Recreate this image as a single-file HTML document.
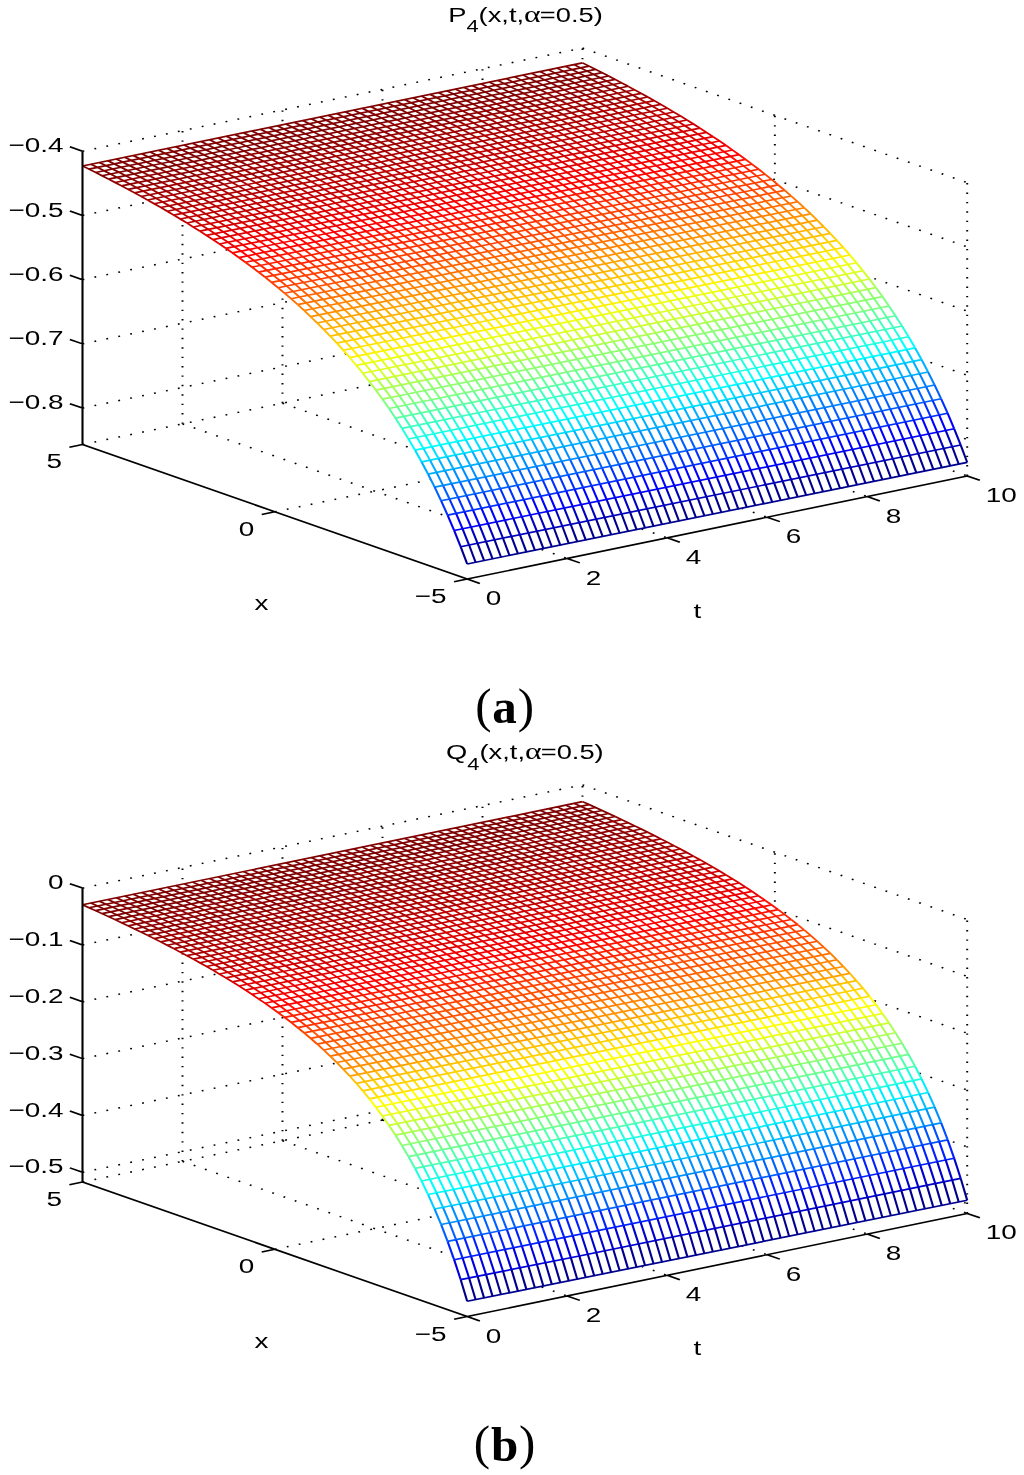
<!DOCTYPE html>
<html><head><meta charset="utf-8"><title>Figure</title>
<style>
html,body{margin:0;padding:0;background:#fff;overflow:hidden}
svg{display:block}
.plot path{fill:none;stroke-width:1.6;stroke-linecap:butt;stroke-linejoin:round}
.plot path.mx{stroke-width:1.67}
.plot path.mt{stroke-width:1.63}
.plot path.ax{stroke:#000;stroke-width:1.6}
.plot path.sf{fill:#fff;stroke:none}
.plot path.dot{stroke:#000;stroke-width:1.5;stroke-dasharray:1.4 8}
.plot text{font-family:"Liberation Sans",sans-serif;font-size:20.7px;fill:#000}
.cap{font-family:"Liberation Serif",serif;font-size:49px;fill:#000;letter-spacing:0.8px}
</style></head><body>
<svg width="1024" height="1475" viewBox="0 0 1024 1475">
<rect width="1024" height="1475" fill="#fff"/>
<g class="plot" transform="scale(1.314,1)">
<path class="dot" d="M138.89,423.86 L138.89,130.61 M214.99,403.22 L214.99,109.97 M291.1,382.58 L291.1,89.33 M367.2,361.94 L367.2,68.69 M443.3,341.3 L443.3,48.05 M62.79,151.25 L443.3,48.05 M443.3,48.05 L736.07,182.65 M62.79,215.46 L443.3,112.26 M443.3,112.26 L736.07,246.86 M62.79,279.67 L443.3,176.47 M443.3,176.47 L736.07,311.07 M62.79,343.88 L443.3,240.68 M443.3,240.68 L736.07,375.28 M62.79,408.09 L443.3,304.89 M443.3,304.89 L736.07,439.49 M589.69,408.6 L589.69,115.35 M736.07,475.9 L736.07,182.65 M138.89,423.86 L431.66,558.46 M214.99,403.22 L507.76,537.82 M291.1,382.58 L583.87,517.18 M367.2,361.94 L659.97,496.54 M443.3,341.3 L736.07,475.9 M62.79,444.5 L443.3,341.3 M209.17,511.8 L589.69,408.6"/>
<path class="sf" d="M62.79,165.94 L67.75,169.17 L72.71,172.44 L77.67,175.74 L82.63,179.08 L87.6,182.47 L92.56,185.89 L97.52,189.36 L102.48,192.88 L107.45,196.45 L112.41,200.06 L117.37,203.73 L122.33,207.46 L127.29,211.24 L132.26,215.09 L137.22,218.99 L142.18,222.97 L147.14,227.01 L152.11,231.13 L157.07,235.32 L162.03,239.59 L166.99,243.95 L171.95,248.4 L176.92,252.93 L181.88,257.57 L186.84,262.3 L191.8,267.15 L196.76,272.1 L201.73,277.18 L206.69,282.38 L211.65,287.71 L216.61,293.19 L221.58,298.81 L226.54,304.58 L231.5,310.53 L236.46,316.64 L241.42,322.94 L246.39,329.44 L251.35,336.15 L256.31,343.07 L261.27,350.23 L266.24,357.65 L271.2,365.33 L276.16,373.3 L281.12,381.57 L286.08,390.17 L291.05,399.12 L296.01,408.44 L300.97,418.18 L305.93,428.35 L310.9,438.98 L315.86,450.13 L320.82,461.83 L325.78,474.13 L330.74,487.08 L335.71,500.74 L340.67,515.18 L345.63,530.46 L350.59,546.69 L355.56,563.94 L355.56,563.94 L362.01,562.4 L368.45,560.74 L374.9,559.06 L381.35,557.37 L387.8,555.67 L394.25,553.97 L400.7,552.26 L407.15,550.55 L413.6,548.84 L420.05,547.12 L426.5,545.41 L432.95,543.69 L439.4,541.97 L445.85,540.25 L452.3,538.53 L458.75,536.81 L465.2,535.08 L471.65,533.36 L478.1,531.64 L484.54,529.91 L490.99,528.19 L497.44,526.46 L503.89,524.73 L510.34,523.01 L516.79,521.28 L523.24,519.55 L529.69,517.82 L536.14,516.09 L542.59,514.36 L549.04,512.63 L555.49,510.9 L561.94,509.17 L568.39,507.44 L574.84,505.71 L581.29,503.98 L587.74,502.25 L594.19,500.52 L600.63,498.79 L607.08,497.06 L613.53,495.32 L619.98,493.59 L626.43,491.86 L632.88,490.13 L639.33,488.39 L645.78,486.66 L652.23,484.93 L658.68,483.19 L665.13,481.46 L671.58,479.73 L678.03,477.99 L684.48,476.26 L690.93,474.52 L697.38,472.79 L703.83,471.06 L710.28,469.32 L716.72,467.59 L723.17,465.85 L729.62,464.12 L736.07,462.38 L736.07,462.38 L731.11,445.01 L726.15,428.69 L721.19,413.31 L716.22,398.78 L711.26,385.04 L706.3,372.02 L701.34,359.66 L696.38,347.9 L691.41,336.69 L686.45,326 L681.49,315.79 L676.53,306.01 L671.56,296.64 L666.6,287.65 L661.64,279.02 L656.68,270.71 L651.72,262.71 L646.75,255 L641.79,247.56 L636.83,240.37 L631.87,233.42 L626.9,226.7 L621.94,220.18 L616.98,213.86 L612.02,207.72 L607.06,201.76 L602.09,195.97 L597.13,190.33 L592.17,184.84 L587.21,179.5 L582.24,174.28 L577.28,169.19 L572.32,164.22 L567.36,159.37 L562.4,154.62 L557.43,149.98 L552.47,145.43 L547.51,140.97 L542.55,136.61 L537.58,132.33 L532.62,128.13 L527.66,124 L522.7,119.95 L517.74,115.97 L512.77,112.05 L507.81,108.2 L502.85,104.41 L497.89,100.68 L492.92,97.01 L487.96,93.38 L483,89.81 L478.04,86.29 L473.08,82.81 L468.11,79.38 L463.15,76 L458.19,72.65 L453.23,69.34 L448.27,66.07 L443.3,62.84 L443.3,62.84 L436.85,64.59 L430.4,66.34 L423.95,68.09 L417.51,69.84 L411.06,71.58 L404.61,73.33 L398.16,75.08 L391.71,76.83 L385.26,78.58 L378.81,80.32 L372.36,82.07 L365.91,83.82 L359.46,85.57 L353.01,87.32 L346.56,89.07 L340.11,90.81 L333.66,92.56 L327.21,94.31 L320.76,96.06 L314.31,97.81 L307.86,99.55 L301.42,101.3 L294.97,103.05 L288.52,104.8 L282.07,106.55 L275.62,108.29 L269.17,110.04 L262.72,111.79 L256.27,113.54 L249.82,115.29 L243.37,117.03 L236.92,118.78 L230.47,120.53 L224.02,122.28 L217.57,124.03 L211.12,125.77 L204.67,127.52 L198.22,129.27 L191.77,131.02 L185.32,132.77 L178.88,134.51 L172.43,136.26 L165.98,138.01 L159.53,139.76 L153.08,141.5 L146.63,143.25 L140.18,145 L133.73,146.75 L127.28,148.49 L120.83,150.24 L114.38,151.99 L107.93,153.73 L101.48,155.48 L95.03,157.23 L88.58,158.97 L82.13,160.72 L75.68,162.46 L69.23,164.21 L62.79,165.94 Z"/>
<path class="mx" stroke="#00008f" d="M355.56,563.94L736.07,462.38"/>
<path class="mx" stroke="#0000bf" d="M350.59,546.69L731.11,445.01"/>
<path class="mx" stroke="#0000ff" d="M345.63,530.46L726.15,428.69"/>
<path class="mx" stroke="#0030ff" d="M340.67,515.18L721.19,413.31"/>
<path class="mx" stroke="#0060ff" d="M335.71,500.74L716.22,398.78"/>
<path class="mx" stroke="#0080ff" d="M524.23,435.44L711.26,385.04"/>
<path class="mx" stroke="#008fff" d="M330.74,487.08L524.23,435.44"/>
<path class="mx" stroke="#00afff" d="M325.78,474.13L706.3,372.02"/>
<path class="mx" stroke="#00cfff" d="M559.45,397.93L701.34,359.66"/>
<path class="mx" stroke="#00dfff" d="M320.82,461.83L559.45,397.93"/>
<path class="mx" stroke="#00ffff" d="M315.86,450.13L696.38,347.9"/>
<path class="mx" stroke="#20ffdf" d="M310.9,438.98L691.41,336.69"/>
<path class="mx" stroke="#40ffbf" d="M305.93,428.35L686.45,326"/>
<path class="mx" stroke="#60ff9f" d="M300.97,418.18L681.49,315.79"/>
<path class="mx" stroke="#80ff80" d="M296.01,408.44L676.53,306.01"/>
<path class="mx" stroke="#8fff70" d="M303.95,395.75L671.56,296.64"/>
<path class="mx" stroke="#9fff60" d="M291.05,399.12L303.95,395.75"/>
<path class="mx" stroke="#afff50" d="M286.08,390.17L666.6,287.65"/>
<path class="mx" stroke="#cfff30" d="M281.12,381.57L661.64,279.02"/>
<path class="mx" stroke="#dfff20" d="M276.16,373.3L656.68,270.71"/>
<path class="mx" stroke="#efff10" d="M271.2,365.33L651.72,262.71"/>
<path class="mx" stroke="#ffef00" d="M266.24,357.65L646.75,255"/>
<path class="mx" stroke="#ffdf00" d="M261.27,350.23L641.79,247.56"/>
<path class="mx" stroke="#ffcf00" d="M256.31,343.07L636.83,240.37"/>
<path class="mx" stroke="#ffbf00" d="M251.35,336.15L631.87,233.42"/>
<path class="mx" stroke="#ffaf00" d="M246.39,329.44L626.9,226.7"/>
<path class="mx" stroke="#ff9f00" d="M241.42,322.94L621.94,220.18"/>
<path class="mx" stroke="#ff8f00" d="M236.46,316.64L616.98,213.86"/>
<path class="mx" stroke="#ff8000" d="M231.5,310.53L612.02,207.72"/>
<path class="mx" stroke="#ff7000" d="M226.54,304.58L607.06,201.76"/>
<path class="mx" stroke="#ff6000" d="M221.58,298.81L602.09,195.97"/>
<path class="mx" stroke="#ff5000" d="M216.61,293.19L597.13,190.33"/>
<path class="mx" stroke="#ff4000" d="M206.69,282.38L587.21,179.5M211.65,287.71L592.17,184.84"/>
<path class="mx" stroke="#ff3000" d="M201.73,277.18L582.24,174.28"/>
<path class="mx" stroke="#ff2000" d="M191.8,267.15L572.32,164.22M196.76,272.1L577.28,169.19"/>
<path class="mx" stroke="#ff1000" d="M186.84,262.3L567.36,159.37"/>
<path class="mx" stroke="#ff0000" d="M176.92,252.93L557.43,149.98M181.88,257.57L562.4,154.62"/>
<path class="mx" stroke="#ef0000" d="M166.99,243.95L547.51,140.97M171.95,248.4L552.47,145.43"/>
<path class="mx" stroke="#df0000" d="M157.07,235.32L537.58,132.33M162.03,239.59L542.55,136.61"/>
<path class="mx" stroke="#cf0000" d="M147.14,227.01L527.66,124M152.11,231.13L532.62,128.13"/>
<path class="mx" stroke="#bf0000" d="M132.26,215.09L512.77,112.05M137.22,218.99L517.74,115.97M142.18,222.97L522.7,119.95"/>
<path class="mx" stroke="#af0000" d="M117.37,203.73L497.89,100.68M122.33,207.46L502.85,104.41M127.29,211.24L507.81,108.2"/>
<path class="mx" stroke="#9f0000" d="M102.48,192.88L483,89.81M107.45,196.45L487.96,93.38M112.41,200.06L492.92,97.01"/>
<path class="mx" stroke="#8f0000" d="M87.6,182.47L468.11,79.38M92.56,185.89L473.08,82.81M97.52,189.36L478.04,86.29"/>
<path class="mx" stroke="#800000" d="M62.79,165.94L443.3,62.84M67.75,169.17L448.27,66.07M72.71,172.44L453.23,69.34M77.67,175.74L458.19,72.65M82.63,179.08L463.15,76"/>
<path class="mt" stroke="#00008f" d="M350.59,546.69L355.56,563.94M357.04,545.14L362.01,562.4M363.49,543.47L368.45,560.74M369.94,541.78L374.9,559.06M376.39,540.09L381.35,557.37M382.84,538.38L387.8,555.67M389.29,536.68L394.25,553.97M395.74,534.97L400.7,552.26M402.19,533.25L407.15,550.55M408.64,531.54L413.6,548.84M415.09,529.82L420.05,547.12M421.54,528.1L426.5,545.41M427.99,526.38L432.95,543.69M434.44,524.66L439.4,541.97M440.89,522.94L445.85,540.25M447.34,521.22L452.3,538.53M453.78,519.49L458.75,536.81M460.23,517.77L465.2,535.08M466.68,516.04L471.65,533.36M473.13,514.32L478.1,531.64M479.58,512.59L484.54,529.91M486.03,510.86L490.99,528.19M492.48,509.14L497.44,526.46M498.93,507.41L503.89,524.73M505.38,505.68L510.34,523.01M511.83,503.95L516.79,521.28M518.28,502.22L523.24,519.55M524.73,500.49L529.69,517.82M531.18,498.76L536.14,516.09M537.63,497.03L542.59,514.36M544.08,495.3L549.04,512.63M550.53,493.57L555.49,510.9M556.98,491.84L561.94,509.17M563.43,490.11L568.39,507.44M569.87,488.37L574.84,505.71M576.32,486.64L581.29,503.98M582.77,484.91L587.74,502.25M589.22,483.18L594.19,500.52M595.67,481.44L600.63,498.79M602.12,479.71L607.08,497.06M608.57,477.98L613.53,495.32M615.02,476.24L619.98,493.59M621.47,474.51L626.43,491.86M627.92,472.78L632.88,490.13M634.37,471.04L639.33,488.39M640.82,469.31L645.78,486.66M647.27,467.57L652.23,484.93M653.72,465.84L658.68,483.19M660.17,464.1L665.13,481.46M666.62,462.37L671.58,479.73M673.07,460.63L678.03,477.99M679.52,458.9L684.48,476.26M685.96,457.16L690.93,474.52M692.41,455.43L697.38,472.79M698.86,453.69L703.83,471.06M705.31,451.96L710.28,469.32M711.76,450.22L716.72,467.59M718.21,448.49L723.17,465.85M724.66,446.75L729.62,464.12M731.11,445.01L736.07,462.38"/>
<path class="mt" stroke="#0000bf" d="M352.08,528.9L357.04,545.14M358.53,527.23L363.49,543.47M364.98,525.54L369.94,541.78M371.43,523.84L376.39,540.09M377.88,522.13L382.84,538.38M384.33,520.42L389.29,536.68M390.78,518.71L395.74,534.97M397.23,516.99L402.19,533.25M403.68,515.28L408.64,531.54M410.13,513.56L415.09,529.82M416.58,511.84L421.54,528.1M423.02,510.12L427.99,526.38M429.47,508.39L434.44,524.66M435.92,506.67L440.89,522.94M442.37,504.94L447.34,521.22M448.82,503.22L453.78,519.49M455.27,501.49L460.23,517.77M461.72,499.76L466.68,516.04M468.17,498.04L473.13,514.32M474.62,496.31L479.58,512.59M481.07,494.58L486.03,510.86M487.52,492.85L492.48,509.14M493.97,491.12L498.93,507.41M500.42,489.39L505.38,505.68M506.87,487.66L511.83,503.95M513.32,485.93L518.28,502.22M519.77,484.2L524.73,500.49M526.22,482.47L531.18,498.76M532.67,480.74L537.63,497.03M539.11,479L544.08,495.3M545.56,477.27L550.53,493.57M552.01,475.54L556.98,491.84M558.46,473.81L563.43,490.11M564.91,472.07L569.87,488.37M571.36,470.34L576.32,486.64M577.81,468.61L582.77,484.91M584.26,466.87L589.22,483.18M590.71,465.14L595.67,481.44M597.16,463.4L602.12,479.71M603.61,461.67L608.57,477.98M610.06,459.93L615.02,476.24M616.51,458.2L621.47,474.51M622.96,456.46L627.92,472.78M629.41,454.73L634.37,471.04M635.86,452.99L640.82,469.31M642.31,451.26L647.27,467.57M648.76,449.52L653.72,465.84M655.2,447.79L660.17,464.1M661.65,446.05L666.62,462.37M668.1,444.32L673.07,460.63M674.55,442.58L679.52,458.9M681,440.84L685.96,457.16M687.45,439.11L692.41,455.43M693.9,437.37L698.86,453.69M700.35,435.63L705.31,451.96M706.8,433.9L711.76,450.22M713.25,432.16L718.21,448.49M719.7,430.42L724.66,446.75M726.15,428.69L731.11,445.01"/>
<path class="mt" stroke="#0000cf" d="M345.63,530.46L350.59,546.69"/>
<path class="mt" stroke="#0000ff" d="M340.67,515.18L345.63,530.46M347.12,513.6L352.08,528.9M353.57,511.92L358.53,527.23M360.02,510.23L364.98,525.54M366.47,508.53L371.43,523.84M372.92,506.82L377.88,522.13M379.37,505.11L384.33,520.42M385.82,503.39L390.78,518.71M392.26,501.67L397.23,516.99M398.71,499.95L403.68,515.28M405.16,498.23L410.13,513.56M411.61,496.51L416.58,511.84M418.06,494.79L423.02,510.12M424.51,493.06L429.47,508.39M430.96,491.33L435.92,506.67M437.41,489.61L442.37,504.94M443.86,487.88L448.82,503.22M450.31,486.15L455.27,501.49M456.76,484.42L461.72,499.76M463.21,482.7L468.17,498.04M469.66,480.97L474.62,496.31M476.11,479.24L481.07,494.58M482.56,477.51L487.52,492.85M489.01,475.77L493.97,491.12M495.46,474.04L500.42,489.39M501.91,472.31L506.87,487.66M508.35,470.58L513.32,485.93M514.8,468.85L519.77,484.2M521.25,467.11L526.22,482.47M527.7,465.38L532.67,480.74M534.15,463.65L539.11,479M540.6,461.92L545.56,477.27M547.05,460.18L552.01,475.54M553.5,458.45L558.46,473.81M559.95,456.71L564.91,472.07M566.4,454.98L571.36,470.34M572.85,453.24L577.81,468.61M579.3,451.51L584.26,466.87M585.75,449.77L590.71,465.14M592.2,448.04L597.16,463.4M598.65,446.3L603.61,461.67M605.1,444.57L610.06,459.93M611.55,442.83L616.51,458.2M618,441.1L622.96,456.46M624.44,439.36L629.41,454.73M630.89,437.62L635.86,452.99M637.34,435.89L642.31,451.26M643.79,434.15L648.76,449.52M650.24,432.42L655.2,447.79M656.69,430.68L661.65,446.05M663.14,428.94L668.1,444.32M669.59,427.2L674.55,442.58M676.04,425.47L681,440.84M682.49,423.73L687.45,439.11M688.94,421.99L693.9,437.37M695.39,420.26L700.35,435.63M701.84,418.52L706.8,433.9M708.29,416.78L713.25,432.16M714.74,415.04L719.7,430.42M721.19,413.31L726.15,428.69"/>
<path class="mt" stroke="#0030ff" d="M335.71,500.74L340.67,515.18M342.16,499.15L347.12,513.6M348.61,497.47L353.57,511.92M355.06,495.77L360.02,510.23M361.5,494.07L366.47,508.53M367.95,492.36L372.92,506.82M374.4,490.64L379.37,505.11M380.85,488.92L385.82,503.39M387.3,487.2L392.26,501.67M393.75,485.48L398.71,499.95M400.2,483.76L405.16,498.23M406.65,482.04L411.61,496.51M413.1,480.31L418.06,494.79M419.55,478.58L424.51,493.06M426,476.86L430.96,491.33M432.45,475.13L437.41,489.61M438.9,473.4L443.86,487.88M445.35,471.67L450.31,486.15M451.8,469.94L456.76,484.42M458.25,468.21L463.21,482.7M464.7,466.48L469.66,480.97M471.15,464.75L476.11,479.24M477.59,463.02L482.56,477.51M484.04,461.28L489.01,475.77M490.49,459.55L495.46,474.04M496.94,457.82L501.91,472.31M503.39,456.09L508.35,470.58M509.84,454.35L514.8,468.85M516.29,452.62L521.25,467.11M522.74,450.89L527.7,465.38M529.19,449.15L534.15,463.65M535.64,447.42L540.6,461.92M542.09,445.68L547.05,460.18M548.54,443.95L553.5,458.45M554.99,442.21L559.95,456.71M561.44,440.48L566.4,454.98M567.89,438.74L572.85,453.24M574.34,437.01L579.3,451.51M580.79,435.27L585.75,449.77M587.24,433.53L592.2,448.04M593.68,431.8L598.65,446.3M600.13,430.06L605.1,444.57M606.58,428.32L611.55,442.83M613.03,426.59L618,441.1M619.48,424.85L624.44,439.36M625.93,423.11L630.89,437.62M632.38,421.38L637.34,435.89M638.83,419.64L643.79,434.15M645.28,417.9L650.24,432.42M651.73,416.16L656.69,430.68M658.18,414.43L663.14,428.94M664.63,412.69L669.59,427.2M671.08,410.95L676.04,425.47M677.53,409.21L682.49,423.73M683.98,407.47L688.94,421.99M690.43,405.74L695.39,420.26M696.88,404L701.84,418.52M703.33,402.26L708.29,416.78M709.77,400.52L714.74,415.04M716.22,398.78L721.19,413.31"/>
<path class="mt" stroke="#0060ff" d="M330.74,487.08L335.71,500.74M337.19,485.48L342.16,499.15M343.64,483.8L348.61,497.47M350.09,482.1L355.06,495.77M356.54,480.39L361.5,494.07M362.99,478.67L367.95,492.36M369.44,476.96L374.4,490.64M375.89,475.24L380.85,488.92M382.34,473.52L387.3,487.2M388.79,471.79L393.75,485.48M395.24,470.07L400.2,483.76M401.69,468.34L406.65,482.04M408.14,466.61L413.1,480.31M414.59,464.89L419.55,478.58M421.04,463.16L426,476.86M427.49,461.43L432.45,475.13M433.94,459.7L438.9,473.4M440.39,457.97L445.35,471.67M446.83,456.24L451.8,469.94M453.28,454.51L458.25,468.21M459.73,452.77L464.7,466.48M466.18,451.04L471.15,464.75M472.63,449.31L477.59,463.02M479.08,447.58L484.04,461.28M485.53,445.84L490.49,459.55M491.98,444.11L496.94,457.82M498.43,442.37L503.39,456.09M504.88,440.64L509.84,454.35M511.33,438.91L516.29,452.62M517.78,437.17L522.74,450.89M524.23,435.44L529.19,449.15M530.68,433.7L535.64,447.42M537.13,431.96L542.09,445.68M543.58,430.23L548.54,443.95M550.03,428.49L554.99,442.21M556.48,426.76L561.44,440.48M562.92,425.02L567.89,438.74M569.37,423.28L574.34,437.01M575.82,421.55L580.79,435.27M582.27,419.81L587.24,433.53M588.72,418.07L593.68,431.8M595.17,416.33L600.13,430.06M601.62,414.6L606.58,428.32M608.07,412.86L613.03,426.59M614.52,411.12L619.48,424.85M620.97,409.38L625.93,423.11M627.42,407.65L632.38,421.38M633.87,405.91L638.83,419.64M640.32,404.17L645.28,417.9M646.77,402.43L651.73,416.16M653.22,400.69L658.18,414.43M659.67,398.96L664.63,412.69M666.12,397.22L671.08,410.95M672.57,395.48L677.53,409.21M679.01,393.74L683.98,407.47M685.46,392L690.43,405.74M691.91,390.26L696.88,404M698.36,388.52L703.33,402.26M704.81,386.78L709.77,400.52M711.26,385.04L716.22,398.78"/>
<path class="mt" stroke="#0080ff" d="M525.72,420.7L530.68,433.7M532.16,418.96L537.13,431.96M538.61,417.22L543.58,430.23M545.06,415.49L550.03,428.49M551.51,413.75L556.48,426.76M557.96,412.01L562.92,425.02M564.41,410.28L569.37,423.28M570.86,408.54L575.82,421.55M577.31,406.8L582.27,419.81M583.76,405.06L588.72,418.07M590.21,403.33L595.17,416.33M596.66,401.59L601.62,414.6M603.11,399.85L608.07,412.86M609.56,398.11L614.52,411.12M616.01,396.37L620.97,409.38M622.46,394.63L627.42,407.65M628.91,392.89L633.87,405.91M635.36,391.16L640.32,404.17M641.81,389.42L646.77,402.43M648.25,387.68L653.22,400.69M654.7,385.94L659.67,398.96M661.15,384.2L666.12,397.22M667.6,382.46L672.57,395.48M674.05,380.72L679.01,393.74M680.5,378.98L685.46,392M686.95,377.24L691.91,390.26M693.4,375.5L698.36,388.52M699.85,373.76L704.81,386.78M706.3,372.02L711.26,385.04"/>
<path class="mt" stroke="#008fff" d="M325.78,474.13L330.74,487.08M332.23,472.52L337.19,485.48M338.68,470.83L343.64,483.8M345.13,469.13L350.09,482.1M351.58,467.42L356.54,480.39M358.03,465.7L362.99,478.67M364.48,463.98L369.44,476.96M370.93,462.26L375.89,475.24M377.38,460.54L382.34,473.52M383.83,458.81L388.79,471.79M390.28,457.09L395.24,470.07M396.73,455.36L401.69,468.34M403.18,453.63L408.14,466.61M409.63,451.9L414.59,464.89M416.07,450.17L421.04,463.16M422.52,448.44L427.49,461.43M428.97,446.71L433.94,459.7M435.42,444.98L440.39,457.97M441.87,443.25L446.83,456.24M448.32,441.52L453.28,454.51M454.77,439.78L459.73,452.77M461.22,438.05L466.18,451.04M467.67,436.32L472.63,449.31M474.12,434.58L479.08,447.58M480.57,432.85L485.53,445.84M487.02,431.11L491.98,444.11M493.47,429.38L498.43,442.37M499.92,427.64L504.88,440.64M506.37,425.91L511.33,438.91M512.82,424.17L517.78,437.17M519.27,422.43L524.23,435.44"/>
<path class="mt" stroke="#00afff" d="M320.82,461.83L325.78,474.13M327.27,460.22L332.23,472.52M333.72,458.52L338.68,470.83M340.17,456.82L345.13,469.13M346.62,455.1L351.58,467.42M353.07,453.38L358.03,465.7M359.52,451.66L364.48,463.98M365.97,449.94L370.93,462.26M372.42,448.22L377.38,460.54M378.87,446.49L383.83,458.81M385.31,444.76L390.28,457.09M391.76,443.03L396.73,455.36M398.21,441.3L403.18,453.63M404.66,439.57L409.63,451.9M411.11,437.84L416.07,450.17M417.56,436.11L422.52,448.44M424.01,434.38L428.97,446.71M430.46,432.65L435.42,444.98M436.91,430.91L441.87,443.25M443.36,429.18L448.32,441.52M449.81,427.45L454.77,439.78M456.26,425.71L461.22,438.05M462.71,423.98L467.67,436.32M469.16,422.24L474.12,434.58M475.61,420.51L480.57,432.85M482.06,418.77L487.02,431.11M488.51,417.03L493.47,429.38M494.96,415.3L499.92,427.64M501.4,413.56L506.37,425.91M507.85,411.83L512.82,424.17M514.3,410.09L519.27,422.43M520.75,408.35L525.72,420.7M527.2,406.61L532.16,418.96M533.65,404.88L538.61,417.22M540.1,403.14L545.06,415.49M546.55,401.4L551.51,413.75M553,399.66L557.96,412.01M559.45,397.93L564.41,410.28M565.9,396.19L570.86,408.54M572.35,394.45L577.31,406.8M578.8,392.71L583.76,405.06M585.25,390.97L590.21,403.33M591.7,389.23L596.66,401.59M598.15,387.49L603.11,399.85M604.6,385.76L609.56,398.11M611.05,384.02L616.01,396.37M617.49,382.28L622.46,394.63M623.94,380.54L628.91,392.89M630.39,378.8L635.36,391.16M636.84,377.06L641.81,389.42M643.29,375.32L648.25,387.68M649.74,373.58L654.7,385.94M656.19,371.84L661.15,384.2M662.64,370.1L667.6,382.46M669.09,368.36L674.05,380.72M675.54,366.62L680.5,378.98M681.99,364.88L686.95,377.24M688.44,363.14L693.4,375.5M694.89,361.4L699.85,373.76M701.34,359.66L706.3,372.02"/>
<path class="mt" stroke="#00cfff" d="M560.94,384.44L565.9,396.19M567.39,382.7L572.35,394.45M573.84,380.96L578.8,392.71M580.29,379.22L585.25,390.97M586.73,377.48L591.7,389.23M593.18,375.74L598.15,387.49M599.63,374L604.6,385.76M606.08,372.26L611.05,384.02M612.53,370.52L617.49,382.28M618.98,368.78L623.94,380.54M625.43,367.04L630.39,378.8M631.88,365.3L636.84,377.06M638.33,363.56L643.29,375.32M644.78,361.82L649.74,373.58M651.23,360.08L656.19,371.84M657.68,358.34L662.64,370.1M664.13,356.6L669.09,368.36M670.58,354.86L675.54,366.62M677.03,353.12L681.99,364.88M683.48,351.38L688.44,363.14M689.93,349.64L694.89,361.4M696.38,347.9L701.34,359.66"/>
<path class="mt" stroke="#00dfff" d="M315.86,450.13L320.82,461.83M322.31,448.51L327.27,460.22M328.76,446.81L333.72,458.52M335.21,445.1L340.17,456.82M341.66,443.39L346.62,455.1M348.11,441.67L353.07,453.38M354.55,439.94L359.52,451.66M361,438.22L365.97,449.94M367.45,436.49L372.42,448.22M373.9,434.77L378.87,446.49M380.35,433.04L385.31,444.76M386.8,431.31L391.76,443.03M393.25,429.58L398.21,441.3M399.7,427.85L404.66,439.57M406.15,426.11L411.11,437.84M412.6,424.38L417.56,436.11M419.05,422.65L424.01,434.38M425.5,420.91L430.46,432.65M431.95,419.18L436.91,430.91M438.4,417.45L443.36,429.18M444.85,415.71L449.81,427.45M451.3,413.98L456.26,425.71M457.75,412.24L462.71,423.98M464.2,410.5L469.16,422.24M470.64,408.77L475.61,420.51M477.09,407.03L482.06,418.77M483.54,405.29L488.51,417.03M489.99,403.56L494.96,415.3M496.44,401.82L501.4,413.56M502.89,400.08L507.85,411.83M509.34,398.35L514.3,410.09M515.79,396.61L520.75,408.35M522.24,394.87L527.2,406.61M528.69,393.13L533.65,404.88M535.14,391.39L540.1,403.14M541.59,389.65L546.55,401.4M548.04,387.92L553,399.66M554.49,386.18L559.45,397.93"/>
<path class="mt" stroke="#00ffff" d="M310.9,438.98L315.86,450.13M317.35,437.35L322.31,448.51M323.79,435.65L328.76,446.81M330.24,433.94L335.21,445.1M336.69,432.22L341.66,443.39M343.14,430.5L348.11,441.67M349.59,428.78L354.55,439.94M356.04,427.05L361,438.22M362.49,425.33L367.45,436.49M368.94,423.6L373.9,434.77M375.39,421.87L380.35,433.04M381.84,420.14L386.8,431.31M388.29,418.4L393.25,429.58M394.74,416.67L399.7,427.85M401.19,414.94L406.15,426.11M407.64,413.2L412.6,424.38M414.09,411.47L419.05,422.65M420.54,409.74L425.5,420.91M426.99,408L431.95,419.18M433.44,406.27L438.4,417.45M439.88,404.53L444.85,415.71M446.33,402.79L451.3,413.98M452.78,401.06L457.75,412.24M459.23,399.32L464.2,410.5M465.68,397.58L470.64,408.77M472.13,395.85L477.09,407.03M478.58,394.11L483.54,405.29M485.03,392.37L489.99,403.56M491.48,390.63L496.44,401.82M497.93,388.9L502.89,400.08M504.38,387.16L509.34,398.35M510.83,385.42L515.79,396.61M517.28,383.68L522.24,394.87M523.73,381.94L528.69,393.13M530.18,380.2L535.14,391.39M536.63,378.46L541.59,389.65M543.08,376.72L548.04,387.92M549.53,374.98L554.49,386.18M555.97,373.25L560.94,384.44M562.42,371.51L567.39,382.7M568.87,369.77L573.84,380.96M575.32,368.03L580.29,379.22M581.77,366.29L586.73,377.48M588.22,364.55L593.18,375.74M594.67,362.81L599.63,374M601.12,361.07L606.08,372.26M607.57,359.33L612.53,370.52M614.02,357.58L618.98,368.78M620.47,355.84L625.43,367.04M626.92,354.1L631.88,365.3M633.37,352.36L638.33,363.56M639.82,350.62L644.78,361.82M646.27,348.88L651.23,360.08M652.72,347.14L657.68,358.34M659.17,345.4L664.13,356.6M665.62,343.66L670.58,354.86M672.06,341.92L677.03,353.12M678.51,340.18L683.48,351.38M684.96,338.43L689.93,349.64M691.41,336.69L696.38,347.9"/>
<path class="mt" stroke="#20ffdf" d="M305.93,428.35L310.9,438.98M312.38,426.71L317.35,437.35M318.83,425L323.79,435.65M325.28,423.29L330.24,433.94M331.73,421.57L336.69,432.22M338.18,419.85L343.14,430.5M344.63,418.12L349.59,428.78M351.08,416.4L356.04,427.05M357.53,414.67L362.49,425.33M363.98,412.94L368.94,423.6M370.43,411.21L375.39,421.87M376.88,409.47L381.84,420.14M383.33,407.74L388.29,418.4M389.78,406.01L394.74,416.67M396.23,404.27L401.19,414.94M402.68,402.54L407.64,413.2M409.12,400.8L414.09,411.47M415.57,399.07L420.54,409.74M422.02,397.33L426.99,408M428.47,395.6L433.44,406.27M434.92,393.86L439.88,404.53M441.37,392.12L446.33,402.79M447.82,390.39L452.78,401.06M454.27,388.65L459.23,399.32M460.72,386.91L465.68,397.58M467.17,385.17L472.13,395.85M473.62,383.44L478.58,394.11M480.07,381.7L485.03,392.37M486.52,379.96L491.48,390.63M492.97,378.22L497.93,388.9M499.42,376.48L504.38,387.16M505.87,374.74L510.83,385.42M512.32,373L517.28,383.68M518.77,371.26L523.73,381.94M525.21,369.52L530.18,380.2M531.66,367.78L536.63,378.46M538.11,366.04L543.08,376.72M544.56,364.3L549.53,374.98M551.01,362.56L555.97,373.25M557.46,360.82L562.42,371.51M563.91,359.08L568.87,369.77M570.36,357.34L575.32,368.03M576.81,355.6L581.77,366.29M583.26,353.86L588.22,364.55M589.71,352.12L594.67,362.81M596.16,350.38L601.12,361.07M602.61,348.64L607.57,359.33M609.06,346.9L614.02,357.58M615.51,345.16L620.47,355.84M621.96,343.42L626.92,354.1M628.41,341.68L633.37,352.36M634.86,339.93L639.82,350.62M641.3,338.19L646.27,348.88M647.75,336.45L652.72,347.14M654.2,334.71L659.17,345.4M660.65,332.97L665.62,343.66M667.1,331.23L672.06,341.92M673.55,329.49L678.51,340.18M680,327.74L684.96,338.43M686.45,326L691.41,336.69"/>
<path class="mt" stroke="#40ffbf" d="M300.97,418.18L305.93,428.35M307.42,416.53L312.38,426.71M313.87,414.83L318.83,425M320.32,413.11L325.28,423.29M326.77,411.39L331.73,421.57M333.22,409.67L338.18,419.85M339.67,407.94L344.63,418.12M346.12,406.21L351.08,416.4M352.57,404.48L357.53,414.67M359.02,402.75L363.98,412.94M365.47,401.02L370.43,411.21M371.92,399.28L376.88,409.47M378.36,397.55L383.33,407.74M384.81,395.82L389.78,406.01M391.26,394.08L396.23,404.27M397.71,392.35L402.68,402.54M404.16,390.61L409.12,400.8M410.61,388.87L415.57,399.07M417.06,387.14L422.02,397.33M423.51,385.4L428.47,395.6M429.96,383.66L434.92,393.86M436.41,381.93L441.37,392.12M442.86,380.19L447.82,390.39M449.31,378.45L454.27,388.65M455.76,376.71L460.72,386.91M462.21,374.97L467.17,385.17M468.66,373.24L473.62,383.44M475.11,371.5L480.07,381.7M481.56,369.76L486.52,379.96M488.01,368.02L492.97,378.22M494.45,366.28L499.42,376.48M500.9,364.54L505.87,374.74M507.35,362.8L512.32,373M513.8,361.06L518.77,371.26M520.25,359.32L525.21,369.52M526.7,357.58L531.66,367.78M533.15,355.84L538.11,366.04M539.6,354.1L544.56,364.3M546.05,352.36L551.01,362.56M552.5,350.62L557.46,360.82M558.95,348.88L563.91,359.08M565.4,347.14L570.36,357.34M571.85,345.39L576.81,355.6M578.3,343.65L583.26,353.86M584.75,341.91L589.71,352.12M591.2,340.17L596.16,350.38M597.65,338.43L602.61,348.64M604.1,336.69L609.06,346.9M610.54,334.95L615.51,345.16M616.99,333.21L621.96,343.42M623.44,331.46L628.41,341.68M629.89,329.72L634.86,339.93M636.34,327.98L641.3,338.19M642.79,326.24L647.75,336.45M649.24,324.5L654.2,334.71M655.69,322.75L660.65,332.97M662.14,321.01L667.1,331.23M668.59,319.27L673.55,329.49M675.04,317.53L680,327.74M681.49,315.79L686.45,326"/>
<path class="mt" stroke="#60ff9f" d="M296.01,408.44L300.97,418.18M302.46,406.79L307.42,416.53M308.91,405.09L313.87,414.83M315.36,403.37L320.32,413.11M321.81,401.65L326.77,411.39M328.26,399.92L333.22,409.67M334.71,398.19L339.67,407.94M341.16,396.46L346.12,406.21M347.6,394.73L352.57,404.48M354.05,393L359.02,402.75M360.5,391.27L365.47,401.02M366.95,389.53L371.92,399.28M373.4,387.8L378.36,397.55M379.85,386.06L384.81,395.82M386.3,384.33L391.26,394.08M392.75,382.59L397.71,392.35M399.2,380.86L404.16,390.61M405.65,379.12L410.61,388.87M412.1,377.38L417.06,387.14M418.55,375.64L423.51,385.4M425,373.91L429.96,383.66M431.45,372.17L436.41,381.93M437.9,370.43L442.86,380.19M444.35,368.69L449.31,378.45M450.8,366.95L455.76,376.71M457.25,365.21L462.21,374.97M463.69,363.47L468.66,373.24M470.14,361.73L475.11,371.5M476.59,359.99L481.56,369.76M483.04,358.26L488.01,368.02M489.49,356.52L494.45,366.28M495.94,354.77L500.9,364.54M502.39,353.03L507.35,362.8M508.84,351.29L513.8,361.06M515.29,349.55L520.25,359.32M521.74,347.81L526.7,357.58M528.19,346.07L533.15,355.84M534.64,344.33L539.6,354.1M541.09,342.59L546.05,352.36M547.54,340.85L552.5,350.62M553.99,339.11L558.95,348.88M560.44,337.37L565.4,347.14M566.89,335.63L571.85,345.39M573.34,333.88L578.3,343.65M579.78,332.14L584.75,341.91M586.23,330.4L591.2,340.17M592.68,328.66L597.65,338.43M599.13,326.92L604.1,336.69M605.58,325.18L610.54,334.95M612.03,323.43L616.99,333.21M618.48,321.69L623.44,331.46M624.93,319.95L629.89,329.72M631.38,318.21L636.34,327.98M637.83,316.46L642.79,326.24M644.28,314.72L649.24,324.5M650.73,312.98L655.69,322.75M657.18,311.24L662.14,321.01M663.63,309.49L668.59,319.27M670.08,307.75L675.04,317.53M676.53,306.01L681.49,315.79"/>
<path class="mt" stroke="#80ff80" d="M291.05,399.12L296.01,408.44M297.5,397.46L302.46,406.79M303.95,395.75L308.91,405.09M310.4,394.03L315.36,403.37M316.84,392.31L321.81,401.65M323.29,390.58L328.26,399.92M329.74,388.85L334.71,398.19M336.19,387.12L341.16,396.46M342.64,385.39L347.6,394.73M349.09,383.66L354.05,393M355.54,381.92L360.5,391.27M361.99,380.19L366.95,389.53M368.44,378.45L373.4,387.8M374.89,376.72L379.85,386.06M381.34,374.98L386.3,384.33M387.79,373.24L392.75,382.59M394.24,371.51L399.2,380.86M400.69,369.77L405.65,379.12M407.14,368.03L412.1,377.38M413.59,366.29L418.55,375.64M420.04,364.56L425,373.91M426.49,362.82L431.45,372.17M432.93,361.08L437.9,370.43M439.38,359.34L444.35,368.69M445.83,357.6L450.8,366.95M452.28,355.86L457.25,365.21M458.73,354.12L463.69,363.47M465.18,352.38L470.14,361.73M471.63,350.64L476.59,359.99M478.08,348.9L483.04,358.26M484.53,347.16L489.49,356.52M490.98,345.42L495.94,354.77M497.43,343.68L502.39,353.03M503.88,341.94L508.84,351.29M510.33,340.2L515.29,349.55M516.78,338.45L521.74,347.81M523.23,336.71L528.19,346.07M529.68,334.97L534.64,344.33M536.13,333.23L541.09,342.59M542.58,331.49L547.54,340.85M549.02,329.75L553.99,339.11M555.47,328.01L560.44,337.37M561.92,326.26L566.89,335.63M568.37,324.52L573.34,333.88M574.82,322.78L579.78,332.14M581.27,321.04L586.23,330.4M587.72,319.3L592.68,328.66M594.17,317.55L599.13,326.92M600.62,315.81L605.58,325.18M607.07,314.07L612.03,323.43M613.52,312.33L618.48,321.69M619.97,310.58L624.93,319.95M626.42,308.84L631.38,318.21M632.87,307.1L637.83,316.46M639.32,305.36L644.28,314.72M645.77,303.61L650.73,312.98M652.22,301.87L657.18,311.24M658.67,300.13L663.63,309.49M665.11,298.38L670.08,307.75M671.56,296.64L676.53,306.01"/>
<path class="mt" stroke="#8fff70" d="M305.43,385.07L310.4,394.03M311.88,383.35L316.84,392.31M318.33,381.62L323.29,390.58M324.78,379.89L329.74,388.85M331.23,378.16L336.19,387.12M337.68,376.43L342.64,385.39M344.13,374.69L349.09,383.66M350.58,372.96L355.54,381.92M357.03,371.22L361.99,380.19M363.48,369.49L368.44,378.45M369.93,367.75L374.89,376.72M376.38,366.01L381.34,374.98M382.83,364.28L387.79,373.24M389.28,362.54L394.24,371.51M395.73,360.8L400.69,369.77M402.17,359.06L407.14,368.03M408.62,357.32L413.59,366.29M415.07,355.58L420.04,364.56M421.52,353.84L426.49,362.82M427.97,352.1L432.93,361.08M434.42,350.36L439.38,359.34M440.87,348.62L445.83,357.6M447.32,346.88L452.28,355.86M453.77,345.14L458.73,354.12M460.22,343.4L465.18,352.38M466.67,341.66L471.63,350.64M473.12,339.92L478.08,348.9M479.57,338.18L484.53,347.16M486.02,336.44L490.98,345.42M492.47,334.7L497.43,343.68M498.92,332.96L503.88,341.94M505.37,331.22L510.33,340.2M511.82,329.47L516.78,338.45M518.26,327.73L523.23,336.71M524.71,325.99L529.68,334.97M531.16,324.25L536.13,333.23M537.61,322.51L542.58,331.49M544.06,320.77L549.02,329.75M550.51,319.02L555.47,328.01M556.96,317.28L561.92,326.26M563.41,315.54L568.37,324.52M569.86,313.8L574.82,322.78M576.31,312.05L581.27,321.04M582.76,310.31L587.72,319.3M589.21,308.57L594.17,317.55M595.66,306.83L600.62,315.81M602.11,305.08L607.07,314.07M608.56,303.34L613.52,312.33M615.01,301.6L619.97,310.58M621.46,299.85L626.42,308.84M627.91,298.11L632.87,307.1M634.35,296.37L639.32,305.36M640.8,294.63L645.77,303.61M647.25,292.88L652.22,301.87M653.7,291.14L658.67,300.13M660.15,289.4L665.11,298.38M666.6,287.65L671.56,296.64"/>
<path class="mt" stroke="#9fff60" d="M286.08,390.17L291.05,399.12M292.53,388.51L297.5,397.46M298.98,386.8L303.95,395.75"/>
<path class="mt" stroke="#afff50" d="M281.12,381.57L286.08,390.17M287.57,379.9L292.53,388.51M294.02,378.19L298.98,386.8M300.47,376.47L305.43,385.07M306.92,374.74L311.88,383.35M313.37,373.01L318.33,381.62M319.82,371.28L324.78,379.89M326.27,369.55L331.23,378.16M332.72,367.81L337.68,376.43M339.17,366.08L344.13,374.69M345.62,364.34L350.58,372.96M352.07,362.61L357.03,371.22M358.52,360.87L363.48,369.49M364.97,359.13L369.93,367.75M371.41,357.4L376.38,366.01M377.86,355.66L382.83,364.28M384.31,353.92L389.28,362.54M390.76,352.18L395.73,360.8M397.21,350.44L402.17,359.06M403.66,348.7L408.62,357.32M410.11,346.96L415.07,355.58M416.56,345.22L421.52,353.84M423.01,343.48L427.97,352.1M429.46,341.74L434.42,350.36M435.91,340L440.87,348.62M442.36,338.26L447.32,346.88M448.81,336.52L453.77,345.14M455.26,334.78L460.22,343.4M461.71,333.04L466.67,341.66M468.16,331.3L473.12,339.92M474.61,329.56L479.57,338.18M481.06,327.81L486.02,336.44M487.5,326.07L492.47,334.7M493.95,324.33L498.92,332.96M500.4,322.59L505.37,331.22M506.85,320.85L511.82,329.47M513.3,319.11L518.26,327.73M519.75,317.36L524.71,325.99M526.2,315.62L531.16,324.25M532.65,313.88L537.61,322.51M539.1,312.14L544.06,320.77M545.55,310.39L550.51,319.02M552,308.65L556.96,317.28M558.45,306.91L563.41,315.54M564.9,305.17L569.86,313.8M571.35,303.42L576.31,312.05M577.8,301.68L582.76,310.31M584.25,299.94L589.21,308.57M590.7,298.19L595.66,306.83M597.15,296.45L602.11,305.08M603.59,294.71L608.56,303.34M610.04,292.96L615.01,301.6M616.49,291.22L621.46,299.85M622.94,289.48L627.91,298.11M629.39,287.73L634.35,296.37M635.84,285.99L640.8,294.63M642.29,284.25L647.25,292.88M648.74,282.5L653.7,291.14M655.19,280.76L660.15,289.4M661.64,279.02L666.6,287.65"/>
<path class="mt" stroke="#cfff30" d="M276.16,373.3L281.12,381.57M282.61,371.63L287.57,379.9M289.06,369.91L294.02,378.19M295.51,368.19L300.47,376.47M301.96,366.46L306.92,374.74M308.41,364.73L313.37,373.01M314.86,363L319.82,371.28M321.31,361.26L326.27,369.55M327.76,359.53L332.72,367.81M334.21,357.79L339.17,366.08M340.65,356.06L345.62,364.34M347.1,354.32L352.07,362.61M353.55,352.58L358.52,360.87M360,350.85L364.97,359.13M366.45,349.11L371.41,357.4M372.9,347.37L377.86,355.66M379.35,345.63L384.31,353.92M385.8,343.89L390.76,352.18M392.25,342.15L397.21,350.44M398.7,340.41L403.66,348.7M405.15,338.67L410.11,346.96M411.6,336.93L416.56,345.22M418.05,335.19L423.01,343.48M424.5,333.45L429.46,341.74M430.95,331.71L435.91,340M437.4,329.97L442.36,338.26M443.85,328.23L448.81,336.52M450.3,326.48L455.26,334.78M456.74,324.74L461.71,333.04M463.19,323L468.16,331.3M469.64,321.26L474.61,329.56M476.09,319.52L481.06,327.81M482.54,317.78L487.5,326.07M488.99,316.03L493.95,324.33M495.44,314.29L500.4,322.59M501.89,312.55L506.85,320.85M508.34,310.81L513.3,319.11M514.79,309.06L519.75,317.36M521.24,307.32L526.2,315.62M527.69,305.58L532.65,313.88M534.14,303.84L539.1,312.14M540.59,302.09L545.55,310.39M547.04,300.35L552,308.65M553.49,298.61L558.45,306.91M559.94,296.86L564.9,305.17M566.39,295.12L571.35,303.42M572.83,293.38L577.8,301.68M579.28,291.64L584.25,299.94M585.73,289.89L590.7,298.19M592.18,288.15L597.15,296.45M598.63,286.4L603.59,294.71M605.08,284.66L610.04,292.96M611.53,282.92L616.49,291.22M617.98,281.17L622.94,289.48M624.43,279.43L629.39,287.73M630.88,277.69L635.84,285.99M637.33,275.94L642.29,284.25M643.78,274.2L648.74,282.5M650.23,272.46L655.19,280.76M656.68,270.71L661.64,279.02"/>
<path class="mt" stroke="#dfff20" d="M271.2,365.33L276.16,373.3M277.65,363.66L282.61,371.63M284.1,361.94L289.06,369.91M290.55,360.21L295.51,368.19M297,358.48L301.96,366.46M303.45,356.75L308.41,364.73M309.89,355.02L314.86,363M316.34,353.29L321.31,361.26M322.79,351.55L327.76,359.53M329.24,349.81L334.21,357.79M335.69,348.08L340.65,356.06M342.14,346.34L347.1,354.32M348.59,344.6L353.55,352.58M355.04,342.86L360,350.85M361.49,341.13L366.45,349.11M367.94,339.39L372.9,347.37M374.39,337.65L379.35,345.63M380.84,335.91L385.8,343.89M387.29,334.17L392.25,342.15M393.74,332.43L398.7,340.41M400.19,330.69L405.15,338.67M406.64,328.95L411.6,336.93M413.09,327.2L418.05,335.19M419.54,325.46L424.5,333.45M425.98,323.72L430.95,331.71M432.43,321.98L437.4,329.97M438.88,320.24L443.85,328.23M445.33,318.5L450.3,326.48M451.78,316.76L456.74,324.74M458.23,315.01L463.19,323M464.68,313.27L469.64,321.26M471.13,311.53L476.09,319.52M477.58,309.79L482.54,317.78M484.03,308.04L488.99,316.03M490.48,306.3L495.44,314.29M496.93,304.56L501.89,312.55M503.38,302.82L508.34,310.81M509.83,301.07L514.79,309.06M516.28,299.33L521.24,307.32M522.73,297.59L527.69,305.58M529.18,295.84L534.14,303.84M535.63,294.1L540.59,302.09M542.07,292.36L547.04,300.35M548.52,290.61L553.49,298.61M554.97,288.87L559.94,296.86M561.42,287.13L566.39,295.12M567.87,285.38L572.83,293.38M574.32,283.64L579.28,291.64M580.77,281.9L585.73,289.89M587.22,280.15L592.18,288.15M593.67,278.41L598.63,286.4M600.12,276.67L605.08,284.66M606.57,274.92L611.53,282.92M613.02,273.18L617.98,281.17M619.47,271.43L624.43,279.43M625.92,269.69L630.88,277.69M632.37,267.95L637.33,275.94M638.82,266.2L643.78,274.2M645.27,264.46L650.23,272.46M651.72,262.71L656.68,270.71"/>
<path class="mt" stroke="#efff10" d="M266.24,357.65L271.2,365.33M272.69,355.97L277.65,363.66M279.13,354.25L284.1,361.94M285.58,352.53L290.55,360.21M292.03,350.8L297,358.48M298.48,349.06L303.45,356.75M304.93,347.33L309.89,355.02M311.38,345.59L316.34,353.29M317.83,343.86L322.79,351.55M324.28,342.12L329.24,349.81M330.73,340.38L335.69,348.08M337.18,338.65L342.14,346.34M343.63,336.91L348.59,344.6M350.08,335.17L355.04,342.86M356.53,333.43L361.49,341.13M362.98,331.69L367.94,339.39M369.43,329.95L374.39,337.65M375.88,328.21L380.84,335.91M382.33,326.47L387.29,334.17M388.78,324.73L393.74,332.43M395.22,322.99L400.19,330.69M401.67,321.25L406.64,328.95M408.12,319.51L413.09,327.2M414.57,317.76L419.54,325.46M421.02,316.02L425.98,323.72M427.47,314.28L432.43,321.98M433.92,312.54L438.88,320.24M440.37,310.8L445.33,318.5M446.82,309.05L451.78,316.76M453.27,307.31L458.23,315.01M459.72,305.57L464.68,313.27M466.17,303.83L471.13,311.53M472.62,302.08L477.58,309.79M479.07,300.34L484.03,308.04M485.52,298.6L490.48,306.3M491.97,296.86L496.93,304.56M498.42,295.11L503.38,302.82M504.87,293.37L509.83,301.07M511.31,291.63L516.28,299.33M517.76,289.88L522.73,297.59M524.21,288.14L529.18,295.84M530.66,286.4L535.63,294.1M537.11,284.65L542.07,292.36M543.56,282.91L548.52,290.61M550.01,281.16L554.97,288.87M556.46,279.42L561.42,287.13M562.91,277.68L567.87,285.38M569.36,275.93L574.32,283.64M575.81,274.19L580.77,281.9M582.26,272.45L587.22,280.15M588.71,270.7L593.67,278.41M595.16,268.96L600.12,276.67M601.61,267.21L606.57,274.92M608.06,265.47L613.02,273.18M614.51,263.72L619.47,271.43M620.96,261.98L625.92,269.69M627.4,260.24L632.37,267.95M633.85,258.49L638.82,266.2M640.3,256.75L645.27,264.46M646.75,255L651.72,262.71"/>
<path class="mt" stroke="#ffef00" d="M261.27,350.23L266.24,357.65M267.72,348.55L272.69,355.97M274.17,346.83L279.13,354.25M280.62,345.11L285.58,352.53M287.07,343.38L292.03,350.8M293.52,341.64L298.48,349.06M299.97,339.91L304.93,347.33M306.42,338.17L311.38,345.59M312.87,336.44L317.83,343.86M319.32,334.7L324.28,342.12M325.77,332.96L330.73,340.38M332.22,331.22L337.18,338.65M338.67,329.48L343.63,336.91M345.12,327.74L350.08,335.17M351.57,326L356.53,333.43M358.02,324.26L362.98,331.69M364.46,322.52L369.43,329.95M370.91,320.78L375.88,328.21M377.36,319.04L382.33,326.47M383.81,317.3L388.78,324.73M390.26,315.56L395.22,322.99M396.71,313.82L401.67,321.25M403.16,312.08L408.12,319.51M409.61,310.33L414.57,317.76M416.06,308.59L421.02,316.02M422.51,306.85L427.47,314.28M428.96,305.11L433.92,312.54M435.41,303.36L440.37,310.8M441.86,301.62L446.82,309.05M448.31,299.88L453.27,307.31M454.76,298.14L459.72,305.57M461.21,296.39L466.17,303.83M467.66,294.65L472.62,302.08M474.11,292.91L479.07,300.34M480.55,291.16L485.52,298.6M487,289.42L491.97,296.86M493.45,287.68L498.42,295.11M499.9,285.93L504.87,293.37M506.35,284.19L511.31,291.63M512.8,282.45L517.76,289.88M519.25,280.7L524.21,288.14M525.7,278.96L530.66,286.4M532.15,277.22L537.11,284.65M538.6,275.47L543.56,282.91M545.05,273.73L550.01,281.16M551.5,271.98L556.46,279.42M557.95,270.24L562.91,277.68M564.4,268.5L569.36,275.93M570.85,266.75L575.81,274.19M577.3,265.01L582.26,272.45M583.75,263.26L588.71,270.7M590.2,261.52L595.16,268.96M596.64,259.77L601.61,267.21M603.09,258.03L608.06,265.47M609.54,256.29L614.51,263.72M615.99,254.54L620.96,261.98M622.44,252.8L627.4,260.24M628.89,251.05L633.85,258.49M635.34,249.31L640.3,256.75M641.79,247.56L646.75,255"/>
<path class="mt" stroke="#ffdf00" d="M256.31,343.07L261.27,350.23M262.76,341.39L267.72,348.55M269.21,339.67L274.17,346.83M275.66,337.94L280.62,345.11M282.11,336.21L287.07,343.38M288.56,334.47L293.52,341.64M295.01,332.74L299.97,339.91M301.46,331L306.42,338.17M307.91,329.26L312.87,336.44M314.36,327.53L319.32,334.7M320.81,325.79L325.77,332.96M327.26,324.05L332.22,331.22M333.7,322.31L338.67,329.48M340.15,320.57L345.12,327.74M346.6,318.83L351.57,326M353.05,317.09L358.02,324.26M359.5,315.35L364.46,322.52M365.95,313.61L370.91,320.78M372.4,311.86L377.36,319.04M378.85,310.12L383.81,317.3M385.3,308.38L390.26,315.56M391.75,306.64L396.71,313.82M398.2,304.9L403.16,312.08M404.65,303.15L409.61,310.33M411.1,301.41L416.06,308.59M417.55,299.67L422.51,306.85M424,297.93L428.96,305.11M430.45,296.18L435.41,303.36M436.9,294.44L441.86,301.62M443.35,292.7L448.31,299.88M449.79,290.96L454.76,298.14M456.24,289.21L461.21,296.39M462.69,287.47L467.66,294.65M469.14,285.73L474.11,292.91M475.59,283.98L480.55,291.16M482.04,282.24L487,289.42M488.49,280.49L493.45,287.68M494.94,278.75L499.9,285.93M501.39,277.01L506.35,284.19M507.84,275.26L512.8,282.45M514.29,273.52L519.25,280.7M520.74,271.78L525.7,278.96M527.19,270.03L532.15,277.22M533.64,268.29L538.6,275.47M540.09,266.54L545.05,273.73M546.54,264.8L551.5,271.98M552.99,263.05L557.95,270.24M559.44,261.31L564.4,268.5M565.88,259.57L570.85,266.75M572.33,257.82L577.3,265.01M578.78,256.08L583.75,263.26M585.23,254.33L590.2,261.52M591.68,252.59L596.64,259.77M598.13,250.84L603.09,258.03M604.58,249.1L609.54,256.29M611.03,247.35L615.99,254.54M617.48,245.61L622.44,252.8M623.93,243.86L628.89,251.05M630.38,242.12L635.34,249.31M636.83,240.37L641.79,247.56"/>
<path class="mt" stroke="#ffcf00" d="M251.35,336.15L256.31,343.07M257.8,334.46L262.76,341.39M264.25,332.73L269.21,339.67M270.7,331.01L275.66,337.94M277.15,329.27L282.11,336.21M283.6,327.54L288.56,334.47M290.05,325.8L295.01,332.74M296.5,324.07L301.46,331M302.94,322.33L307.91,329.26M309.39,320.59L314.36,327.53M315.84,318.85L320.81,325.79M322.29,317.11L327.26,324.05M328.74,315.37L333.7,322.31M335.19,313.63L340.15,320.57M341.64,311.89L346.6,318.83M348.09,310.15L353.05,317.09M354.54,308.41L359.5,315.35M360.99,306.67L365.95,313.61M367.44,304.92L372.4,311.86M373.89,303.18L378.85,310.12M380.34,301.44L385.3,308.38M386.79,299.7L391.75,306.64M393.24,297.96L398.2,304.9M399.69,296.21L404.65,303.15M406.14,294.47L411.1,301.41M412.59,292.73L417.55,299.67M419.03,290.98L424,297.93M425.48,289.24L430.45,296.18M431.93,287.5L436.9,294.44M438.38,285.75L443.35,292.7M444.83,284.01L449.79,290.96M451.28,282.27L456.24,289.21M457.73,280.52L462.69,287.47M464.18,278.78L469.14,285.73M470.63,277.04L475.59,283.98M477.08,275.29L482.04,282.24M483.53,273.55L488.49,280.49M489.98,271.81L494.94,278.75M496.43,270.06L501.39,277.01M502.88,268.32L507.84,275.26M509.33,266.57L514.29,273.52M515.78,264.83L520.74,271.78M522.23,263.08L527.19,270.03M528.68,261.34L533.64,268.29M535.12,259.6L540.09,266.54M541.57,257.85L546.54,264.8M548.02,256.11L552.99,263.05M554.47,254.36L559.44,261.31M560.92,252.62L565.88,259.57M567.37,250.87L572.33,257.82M573.82,249.13L578.78,256.08M580.27,247.38L585.23,254.33M586.72,245.64L591.68,252.59M593.17,243.89L598.13,250.84M599.62,242.15L604.58,249.1M606.07,240.4L611.03,247.35M612.52,238.66L617.48,245.61M618.97,236.91L623.93,243.86M625.42,235.17L630.38,242.12M631.87,233.42L636.83,240.37"/>
<path class="mt" stroke="#ffbf00" d="M246.39,329.44L251.35,336.15M252.84,327.75L257.8,334.46M259.29,326.03L264.25,332.73M265.74,324.29L270.7,331.01M272.18,322.56L277.15,329.27M278.63,320.83L283.6,327.54M285.08,319.09L290.05,325.8M291.53,317.35L296.5,324.07M297.98,315.61L302.94,322.33M304.43,313.88L309.39,320.59M310.88,312.14L315.84,318.85M317.33,310.4L322.29,317.11M323.78,308.66L328.74,315.37M330.23,306.91L335.19,313.63M336.68,305.17L341.64,311.89M343.13,303.43L348.09,310.15M349.58,301.69L354.54,308.41M356.03,299.95L360.99,306.67M362.48,298.21L367.44,304.92M368.93,296.46L373.89,303.18M375.38,294.72L380.34,301.44M381.83,292.98L386.79,299.7M388.27,291.24L393.24,297.96M394.72,289.49L399.69,296.21M401.17,287.75L406.14,294.47M407.62,286.01L412.59,292.73M414.07,284.26L419.03,290.98M420.52,282.52L425.48,289.24M426.97,280.78L431.93,287.5M433.42,279.03L438.38,285.75M439.87,277.29L444.83,284.01M446.32,275.55L451.28,282.27M452.77,273.8L457.73,280.52M459.22,272.06L464.18,278.78M465.67,270.31L470.63,277.04M472.12,268.57L477.08,275.29M478.57,266.83L483.53,273.55M485.02,265.08L489.98,271.81M491.47,263.34L496.43,270.06M497.92,261.59L502.88,268.32M504.36,259.85L509.33,266.57M510.81,258.1L515.78,264.83M517.26,256.36L522.23,263.08M523.71,254.62L528.68,261.34M530.16,252.87L535.12,259.6M536.61,251.13L541.57,257.85M543.06,249.38L548.02,256.11M549.51,247.64L554.47,254.36M555.96,245.89L560.92,252.62M562.41,244.15L567.37,250.87M568.86,242.4L573.82,249.13M575.31,240.66L580.27,247.38M581.76,238.91L586.72,245.64M588.21,237.17L593.17,243.89M594.66,235.42L599.62,242.15M601.11,233.68L606.07,240.4M607.56,231.93L612.52,238.66M614.01,230.19L618.97,236.91M620.46,228.44L625.42,235.17M626.9,226.7L631.87,233.42"/>
<path class="mt" stroke="#ffaf00" d="M241.42,322.94L246.39,329.44M247.87,321.25L252.84,327.75M254.32,319.52L259.29,326.03M260.77,317.79L265.74,324.29M267.22,316.06L272.18,322.56M273.67,314.32L278.63,320.83M280.12,312.59L285.08,319.09M286.57,310.85L291.53,317.35M293.02,309.11L297.98,315.61M299.47,307.37L304.43,313.88M305.92,305.63L310.88,312.14M312.37,303.89L317.33,310.4M318.82,302.15L323.78,308.66M325.27,300.41L330.23,306.91M331.72,298.67L336.68,305.17M338.17,296.92L343.13,303.43M344.62,295.18L349.58,301.69M351.07,293.44L356.03,299.95M357.51,291.7L362.48,298.21M363.96,289.96L368.93,296.46M370.41,288.21L375.38,294.72M376.86,286.47L381.83,292.98M383.31,284.73L388.27,291.24M389.76,282.98L394.72,289.49M396.21,281.24L401.17,287.75M402.66,279.5L407.62,286.01M409.11,277.75L414.07,284.26M415.56,276.01L420.52,282.52M422.01,274.27L426.97,280.78M428.46,272.52L433.42,279.03M434.91,270.78L439.87,277.29M441.36,269.03L446.32,275.55M447.81,267.29L452.77,273.8M454.26,265.55L459.22,272.06M460.71,263.8L465.67,270.31M467.16,262.06L472.12,268.57M473.6,260.31L478.57,266.83M480.05,258.57L485.02,265.08M486.5,256.82L491.47,263.34M492.95,255.08L497.92,261.59M499.4,253.33L504.36,259.85M505.85,251.59L510.81,258.1M512.3,249.84L517.26,256.36M518.75,248.1L523.71,254.62M525.2,246.35L530.16,252.87M531.65,244.61L536.61,251.13M538.1,242.87L543.06,249.38M544.55,241.12L549.51,247.64M551,239.38L555.96,245.89M557.45,237.63L562.41,244.15M563.9,235.88L568.86,242.4M570.35,234.14L575.31,240.66M576.8,232.39L581.76,238.91M583.25,230.65L588.21,237.17M589.7,228.9L594.66,235.42M596.14,227.16L601.11,233.68M602.59,225.41L607.56,231.93M609.04,223.67L614.01,230.19M615.49,221.92L620.46,228.44M621.94,220.18L626.9,226.7"/>
<path class="mt" stroke="#ff9f00" d="M236.46,316.64L241.42,322.94M242.91,314.95L247.87,321.25M249.36,313.22L254.32,319.52M255.81,311.49L260.77,317.79M262.26,309.75L267.22,316.06M268.71,308.02L273.67,314.32M275.16,306.28L280.12,312.59M281.61,304.54L286.57,310.85M288.06,302.8L293.02,309.11M294.51,301.06L299.47,307.37M300.96,299.32L305.92,305.63M307.41,297.58L312.37,303.89M313.86,295.84L318.82,302.15M320.31,294.1L325.27,300.41M326.75,292.36L331.72,298.67M333.2,290.61L338.17,296.92M339.65,288.87L344.62,295.18M346.1,287.13L351.07,293.44M352.55,285.39L357.51,291.7M359,283.64L363.96,289.96M365.45,281.9L370.41,288.21M371.9,280.16L376.86,286.47M378.35,278.41L383.31,284.73M384.8,276.67L389.76,282.98M391.25,274.93L396.21,281.24M397.7,273.18L402.66,279.5M404.15,271.44L409.11,277.75M410.6,269.69L415.56,276.01M417.05,267.95L422.01,274.27M423.5,266.21L428.46,272.52M429.95,264.46L434.91,270.78M436.4,262.72L441.36,269.03M442.84,260.97L447.81,267.29M449.29,259.23L454.26,265.55M455.74,257.48L460.71,263.8M462.19,255.74L467.16,262.06M468.64,254L473.6,260.31M475.09,252.25L480.05,258.57M481.54,250.51L486.5,256.82M487.99,248.76L492.95,255.08M494.44,247.02L499.4,253.33M500.89,245.27L505.85,251.59M507.34,243.53L512.3,249.84M513.79,241.78L518.75,248.1M520.24,240.04L525.2,246.35M526.69,238.29L531.65,244.61M533.14,236.55L538.1,242.87M539.59,234.8L544.55,241.12M546.04,233.06L551,239.38M552.49,231.31L557.45,237.63M558.94,229.57L563.9,235.88M565.38,227.82L570.35,234.14M571.83,226.07L576.8,232.39M578.28,224.33L583.25,230.65M584.73,222.58L589.7,228.9M591.18,220.84L596.14,227.16M597.63,219.09L602.59,225.41M604.08,217.35L609.04,223.67M610.53,215.6L615.49,221.92M616.98,213.86L621.94,220.18"/>
<path class="mt" stroke="#ff8f00" d="M231.5,310.53L236.46,316.64M237.95,308.83L242.91,314.95M244.4,307.1L249.36,313.22M250.85,305.37L255.81,311.49M257.3,303.63L262.26,309.75M263.75,301.9L268.71,308.02M270.2,300.16L275.16,306.28M276.65,298.42L281.61,304.54M283.1,296.68L288.06,302.8M289.55,294.94L294.51,301.06M295.99,293.2L300.96,299.32M302.44,291.46L307.41,297.58M308.89,289.71L313.86,295.84M315.34,287.97L320.31,294.1M321.79,286.23L326.75,292.36M328.24,284.49L333.2,290.61M334.69,282.75L339.65,288.87M341.14,281L346.1,287.13M347.59,279.26L352.55,285.39M354.04,277.52L359,283.64M360.49,275.77L365.45,281.9M366.94,274.03L371.9,280.16M373.39,272.29L378.35,278.41M379.84,270.54L384.8,276.67M386.29,268.8L391.25,274.93M392.74,267.05L397.7,273.18M399.19,265.31L404.15,271.44M405.64,263.57L410.6,269.69M412.08,261.82L417.05,267.95M418.53,260.08L423.5,266.21M424.98,258.33L429.95,264.46M431.43,256.59L436.4,262.72M437.88,254.84L442.84,260.97M444.33,253.1L449.29,259.23M450.78,251.35L455.74,257.48M457.23,249.61L462.19,255.74M463.68,247.87L468.64,254M470.13,246.12L475.09,252.25M476.58,244.38L481.54,250.51M483.03,242.63L487.99,248.76M489.48,240.89L494.44,247.02M495.93,239.14L500.89,245.27M502.38,237.39L507.34,243.53M508.83,235.65L513.79,241.78M515.28,233.9L520.24,240.04M521.73,232.16L526.69,238.29M528.18,230.41L533.14,236.55M534.62,228.67L539.59,234.8M541.07,226.92L546.04,233.06M547.52,225.18L552.49,231.31M553.97,223.43L558.94,229.57M560.42,221.69L565.38,227.82M566.87,219.94L571.83,226.07M573.32,218.2L578.28,224.33M579.77,216.45L584.73,222.58M586.22,214.7L591.18,220.84M592.67,212.96L597.63,219.09M599.12,211.21L604.08,217.35M605.57,209.47L610.53,215.6M612.02,207.72L616.98,213.86"/>
<path class="mt" stroke="#ff8000" d="M226.54,304.58L231.5,310.53M232.99,302.88L237.95,308.83M239.44,301.16L244.4,307.1M245.89,299.42L250.85,305.37M252.34,297.69L257.3,303.63M258.79,295.95L263.75,301.9M265.23,294.21L270.2,300.16M271.68,292.47L276.65,298.42M278.13,290.73L283.1,296.68M284.58,288.99L289.55,294.94M291.03,287.25L295.99,293.2M297.48,285.51L302.44,291.46M303.93,283.76L308.89,289.71M310.38,282.02L315.34,287.97M316.83,280.28L321.79,286.23M323.28,278.54L328.24,284.49M329.73,276.79L334.69,282.75M336.18,275.05L341.14,281M342.63,273.31L347.59,279.26M349.08,271.56L354.04,277.52M355.53,269.82L360.49,275.77M361.98,268.08L366.94,274.03M368.43,266.33L373.39,272.29M374.88,264.59L379.84,270.54M381.32,262.85L386.29,268.8M387.77,261.1L392.74,267.05M394.22,259.36L399.19,265.31M400.67,257.61L405.64,263.57M407.12,255.87L412.08,261.82M413.57,254.12L418.53,260.08M420.02,252.38L424.98,258.33M426.47,250.63L431.43,256.59M432.92,248.89L437.88,254.84M439.37,247.14L444.33,253.1M445.82,245.4L450.78,251.35M452.27,243.65L457.23,249.61M458.72,241.91L463.68,247.87M465.17,240.16L470.13,246.12M471.62,238.42L476.58,244.38M478.07,236.67L483.03,242.63M484.52,234.93L489.48,240.89M490.97,233.18L495.93,239.14M497.42,231.44L502.38,237.39M503.86,229.69L508.83,235.65M510.31,227.95L515.28,233.9M516.76,226.2L521.73,232.16M523.21,224.46L528.18,230.41M529.66,222.71L534.62,228.67M536.11,220.97L541.07,226.92M542.56,219.22L547.52,225.18M549.01,217.47L553.97,223.43M555.46,215.73L560.42,221.69M561.91,213.98L566.87,219.94M568.36,212.24L573.32,218.2M574.81,210.49L579.77,216.45M581.26,208.75L586.22,214.7M587.71,207L592.67,212.96M594.16,205.25L599.12,211.21M600.61,203.51L605.57,209.47M607.06,201.76L612.02,207.72"/>
<path class="mt" stroke="#ff7000" d="M221.58,298.81L226.54,304.58M228.03,297.11L232.99,302.88M234.47,295.38L239.44,301.16M240.92,293.64L245.89,299.42M247.37,291.91L252.34,297.69M253.82,290.17L258.79,295.95M260.27,288.43L265.23,294.21M266.72,286.69L271.68,292.47M273.17,284.95L278.13,290.73M279.62,283.21L284.58,288.99M286.07,281.46L291.03,287.25M292.52,279.72L297.48,285.51M298.97,277.98L303.93,283.76M305.42,276.24L310.38,282.02M311.87,274.5L316.83,280.28M318.32,272.75L323.28,278.54M324.77,271.01L329.73,276.79M331.22,269.27L336.18,275.05M337.67,267.52L342.63,273.31M344.12,265.78L349.08,271.56M350.56,264.03L355.53,269.82M357.01,262.29L361.98,268.08M363.46,260.55L368.43,266.33M369.91,258.8L374.88,264.59M376.36,257.06L381.32,262.85M382.81,255.31L387.77,261.1M389.26,253.57L394.22,259.36M395.71,251.82L400.67,257.61M402.16,250.08L407.12,255.87M408.61,248.34L413.57,254.12M415.06,246.59L420.02,252.38M421.51,244.85L426.47,250.63M427.96,243.1L432.92,248.89M434.41,241.36L439.37,247.14M440.86,239.61L445.82,245.4M447.31,237.87L452.27,243.65M453.76,236.12L458.72,241.91M460.21,234.37L465.17,240.16M466.66,232.63L471.62,238.42M473.1,230.88L478.07,236.67M479.55,229.14L484.52,234.93M486,227.39L490.97,233.18M492.45,225.65L497.42,231.44M498.9,223.9L503.86,229.69M505.35,222.16L510.31,227.95M511.8,220.41L516.76,226.2M518.25,218.67L523.21,224.46M524.7,216.92L529.66,222.71M531.15,215.17L536.11,220.97M537.6,213.43L542.56,219.22M544.05,211.68L549.01,217.47M550.5,209.94L555.46,215.73M556.95,208.19L561.91,213.98M563.4,206.44L568.36,212.24M569.85,204.7L574.81,210.49M576.3,202.95L581.26,208.75M582.75,201.21L587.71,207M589.19,199.46L594.16,205.25M595.64,197.71L600.61,203.51M602.09,195.97L607.06,201.76"/>
<path class="mt" stroke="#ff6000" d="M216.61,293.19L221.58,298.81M223.06,291.48L228.03,297.11M229.51,289.75L234.47,295.38M235.96,288.02L240.92,293.64M242.41,286.28L247.37,291.91M248.86,284.54L253.82,290.17M255.31,282.8L260.27,288.43M261.76,281.06L266.72,286.69M268.21,279.32L273.17,284.95M274.66,277.58L279.62,283.21M281.11,275.84L286.07,281.46M287.56,274.1L292.52,279.72M294.01,272.35L298.97,277.98M300.46,270.61L305.42,276.24M306.91,268.87L311.87,274.5M313.36,267.12L318.32,272.75M319.8,265.38L324.77,271.01M326.25,263.64L331.22,269.27M332.7,261.89L337.67,267.52M339.15,260.15L344.12,265.78M345.6,258.4L350.56,264.03M352.05,256.66L357.01,262.29M358.5,254.92L363.46,260.55M364.95,253.17L369.91,258.8M371.4,251.43L376.36,257.06M377.85,249.68L382.81,255.31M384.3,247.94L389.26,253.57M390.75,246.19L395.71,251.82M397.2,244.45L402.16,250.08M403.65,242.7L408.61,248.34M410.1,240.96L415.06,246.59M416.55,239.21L421.51,244.85M423,237.47L427.96,243.1M429.45,235.72L434.41,241.36M435.9,233.98L440.86,239.61M442.34,232.23L447.31,237.87M448.79,230.49L453.76,236.12M455.24,228.74L460.21,234.37M461.69,227L466.66,232.63M468.14,225.25L473.1,230.88M474.59,223.51L479.55,229.14M481.04,221.76L486,227.39M487.49,220.01L492.45,225.65M493.94,218.27L498.9,223.9M500.39,216.52L505.35,222.16M506.84,214.78L511.8,220.41M513.29,213.03L518.25,218.67M519.74,211.28L524.7,216.92M526.19,209.54L531.15,215.17M532.64,207.79L537.6,213.43M539.09,206.05L544.05,211.68M545.54,204.3L550.5,209.94M551.99,202.56L556.95,208.19M558.43,200.81L563.4,206.44M564.88,199.06L569.85,204.7M571.33,197.32L576.3,202.95M577.78,195.57L582.75,201.21M584.23,193.82L589.19,199.46M590.68,192.08L595.64,197.71M597.13,190.33L602.09,195.97"/>
<path class="mt" stroke="#ff5000" d="M211.65,287.71L216.61,293.19M218.1,286.01L223.06,291.48M224.55,284.28L229.51,289.75M231,282.54L235.96,288.02M237.45,280.8L242.41,286.28M243.9,279.06L248.86,284.54M250.35,277.32L255.31,282.8M256.8,275.58L261.76,281.06M263.25,273.84L268.21,279.32M269.7,272.1L274.66,277.58M276.15,270.36L281.11,275.84M282.6,268.62L287.56,274.1M289.04,266.87L294.01,272.35M295.49,265.13L300.46,270.61M301.94,263.39L306.91,268.87M308.39,261.64L313.36,267.12M314.84,259.9L319.8,265.38M321.29,258.16L326.25,263.64M327.74,256.41L332.7,261.89M334.19,254.67L339.15,260.15M340.64,252.92L345.6,258.4M347.09,251.18L352.05,256.66M353.54,249.43L358.5,254.92M359.99,247.69L364.95,253.17M366.44,245.94L371.4,251.43M372.89,244.2L377.85,249.68M379.34,242.45L384.3,247.94M385.79,240.71L390.75,246.19M392.24,238.96L397.2,244.45M398.69,237.22L403.65,242.7M405.14,235.47L410.1,240.96M411.58,233.73L416.55,239.21M418.03,231.98L423,237.47M424.48,230.24L429.45,235.72M430.93,228.49L435.9,233.98M437.38,226.75L442.34,232.23M443.83,225L448.79,230.49M450.28,223.26L455.24,228.74M456.73,221.51L461.69,227M463.18,219.77L468.14,225.25M469.63,218.02L474.59,223.51M476.08,216.27L481.04,221.76M482.53,214.53L487.49,220.01M488.98,212.78L493.94,218.27M495.43,211.04L500.39,216.52M501.88,209.29L506.84,214.78M508.33,207.54L513.29,213.03M514.78,205.8L519.74,211.28M521.23,204.05L526.19,209.54M527.67,202.31L532.64,207.79M534.12,200.56L539.09,206.05M540.57,198.81L545.54,204.3M547.02,197.07L551.99,202.56M553.47,195.32L558.43,200.81M559.92,193.58L564.88,199.06M566.37,191.83L571.33,197.32M572.82,190.08L577.78,195.57M579.27,188.34L584.23,193.82M585.72,186.59L590.68,192.08M592.17,184.84L597.13,190.33"/>
<path class="mt" stroke="#ff4000" d="M201.73,277.18L206.69,282.38M208.18,275.47L213.14,280.67M214.63,273.74L219.59,278.94M221.08,272L226.04,277.2M227.52,270.26L232.49,275.47M233.97,268.52L238.94,273.73M240.42,266.78L245.39,271.99M246.87,265.04L251.84,270.25M253.32,263.3L258.28,268.5M259.77,261.55L264.73,266.76M266.22,259.81L271.18,265.02M272.67,258.07L277.63,263.28M279.12,256.33L284.08,261.53M285.57,254.58L290.53,259.79M292.02,252.84L296.98,258.05M298.47,251.09L303.43,256.3M304.92,249.35L309.88,254.56M311.37,247.61L316.33,252.81M317.82,245.86L322.78,251.07M324.27,244.12L329.23,249.33M330.72,242.37L335.68,247.58M337.17,240.63L342.13,245.84M343.62,238.88L348.58,244.09M350.06,237.14L355.03,242.35M356.51,235.39L361.48,240.6M362.96,233.65L367.93,238.86M369.41,231.9L374.38,237.11M375.86,230.16L380.82,235.37M382.31,228.41L387.27,233.62M388.76,226.67L393.72,231.88M395.21,224.92L400.17,230.13M401.66,223.17L406.62,228.39M408.11,221.43L413.07,226.64M414.56,219.68L419.52,224.89M421.01,217.94L425.97,223.15M427.46,216.19L432.42,221.4M433.91,214.45L438.87,219.66M440.36,212.7L445.32,217.91M446.81,210.95L451.77,216.17M453.26,209.21L458.22,214.42M459.71,207.46L464.67,212.67M466.15,205.72L471.12,210.93M472.6,203.97L477.57,209.18M479.05,202.22L484.02,207.44M485.5,200.48L490.47,205.69M491.95,198.73L496.91,203.94M498.4,196.98L503.36,202.2M504.85,195.24L509.81,200.45M511.3,193.49L516.26,198.71M517.75,191.75L522.71,196.96M524.2,190L529.16,195.21M530.65,188.25L535.61,193.47M537.1,186.51L542.06,191.72M543.55,184.76L548.51,189.97M550,183.01L554.96,188.23M556.45,181.27L561.41,186.48M562.9,179.52L567.86,184.74M569.35,177.77L574.31,182.99M575.8,176.03L580.76,181.24M582.24,174.28L587.21,179.5M206.69,282.38L211.65,287.71M213.14,280.67L218.1,286.01M219.59,278.94L224.55,284.28M226.04,277.2L231,282.54M232.49,275.47L237.45,280.8M238.94,273.73L243.9,279.06M245.39,271.99L250.35,277.32M251.84,270.25L256.8,275.58M258.28,268.5L263.25,273.84M264.73,266.76L269.7,272.1M271.18,265.02L276.15,270.36M277.63,263.28L282.6,268.62M284.08,261.53L289.04,266.87M290.53,259.79L295.49,265.13M296.98,258.05L301.94,263.39M303.43,256.3L308.39,261.64M309.88,254.56L314.84,259.9M316.33,252.81L321.29,258.16M322.78,251.07L327.74,256.41M329.23,249.33L334.19,254.67M335.68,247.58L340.64,252.92M342.13,245.84L347.09,251.18M348.58,244.09L353.54,249.43M355.03,242.35L359.99,247.69M361.48,240.6L366.44,245.94M367.93,238.86L372.89,244.2M374.38,237.11L379.34,242.45M380.82,235.37L385.79,240.71M387.27,233.62L392.24,238.96M393.72,231.88L398.69,237.22M400.17,230.13L405.14,235.47M406.62,228.39L411.58,233.73M413.07,226.64L418.03,231.98M419.52,224.89L424.48,230.24M425.97,223.15L430.93,228.49M432.42,221.4L437.38,226.75M438.87,219.66L443.83,225M445.32,217.91L450.28,223.26M451.77,216.17L456.73,221.51M458.22,214.42L463.18,219.77M464.67,212.67L469.63,218.02M471.12,210.93L476.08,216.27M477.57,209.18L482.53,214.53M484.02,207.44L488.98,212.78M490.47,205.69L495.43,211.04M496.91,203.94L501.88,209.29M503.36,202.2L508.33,207.54M509.81,200.45L514.78,205.8M516.26,198.71L521.23,204.05M522.71,196.96L527.67,202.31M529.16,195.21L534.12,200.56M535.61,193.47L540.57,198.81M542.06,191.72L547.02,197.07M548.51,189.97L553.47,195.32M554.96,188.23L559.92,193.58M561.41,186.48L566.37,191.83M567.86,184.74L572.82,190.08M574.31,182.99L579.27,188.34M580.76,181.24L585.72,186.59M587.21,179.5L592.17,184.84"/>
<path class="mt" stroke="#ff3000" d="M196.76,272.1L201.73,277.18M203.21,270.39L208.18,275.47M209.66,268.66L214.63,273.74M216.11,266.92L221.08,272M222.56,265.18L227.52,270.26M229.01,263.44L233.97,268.52M235.46,261.7L240.42,266.78M241.91,259.96L246.87,265.04M248.36,258.22L253.32,263.3M254.81,256.47L259.77,261.55M261.26,254.73L266.22,259.81M267.71,252.99L272.67,258.07M274.16,251.24L279.12,256.33M280.61,249.5L285.57,254.58M287.06,247.76L292.02,252.84M293.51,246.01L298.47,251.09M299.96,244.27L304.92,249.35M306.41,242.52L311.37,247.61M312.86,240.78L317.82,245.86M319.3,239.03L324.27,244.12M325.75,237.29L330.72,242.37M332.2,235.54L337.17,240.63M338.65,233.8L343.62,238.88M345.1,232.05L350.06,237.14M351.55,230.31L356.51,235.39M358,228.56L362.96,233.65M364.45,226.82L369.41,231.9M370.9,225.07L375.86,230.16M377.35,223.33L382.31,228.41M383.8,221.58L388.76,226.67M390.25,219.83L395.21,224.92M396.7,218.09L401.66,223.17M403.15,216.34L408.11,221.43M409.6,214.6L414.56,219.68M416.05,212.85L421.01,217.94M422.5,211.11L427.46,216.19M428.95,209.36L433.91,214.45M435.39,207.61L440.36,212.7M441.84,205.87L446.81,210.95M448.29,204.12L453.26,209.21M454.74,202.38L459.71,207.46M461.19,200.63L466.15,205.72M467.64,198.88L472.6,203.97M474.09,197.14L479.05,202.22M480.54,195.39L485.5,200.48M486.99,193.64L491.95,198.73M493.44,191.9L498.4,196.98M499.89,190.15L504.85,195.24M506.34,188.4L511.3,193.49M512.79,186.66L517.75,191.75M519.24,184.91L524.2,190M525.69,183.17L530.65,188.25M532.14,181.42L537.1,186.51M538.59,179.67L543.55,184.76M545.04,177.93L550,183.01M551.48,176.18L556.45,181.27M557.93,174.43L562.9,179.52M564.38,172.69L569.35,177.77M570.83,170.94L575.8,176.03M577.28,169.19L582.24,174.28"/>
<path class="mt" stroke="#ff2000" d="M186.84,262.3L191.8,267.15M193.29,260.59L198.25,265.43M199.74,258.85L204.7,263.7M206.19,257.12L211.15,261.96M212.64,255.38L217.6,260.22M219.09,253.63L224.05,258.48M225.54,251.89L230.5,256.74M231.99,250.15L236.95,255M238.44,248.41L243.4,253.26M244.89,246.66L249.85,251.51M251.34,244.92L256.3,249.77M257.78,243.18L262.75,248.03M264.23,241.43L269.2,246.28M270.68,239.69L275.65,244.54M277.13,237.94L282.1,242.79M283.58,236.2L288.54,241.05M290.03,234.45L294.99,239.3M296.48,232.71L301.44,237.56M302.93,230.96L307.89,235.81M309.38,229.22L314.34,234.07M315.83,227.47L320.79,232.32M322.28,225.73L327.24,230.58M328.73,223.98L333.69,228.83M335.18,222.24L340.14,227.09M341.63,220.49L346.59,225.34M348.08,218.75L353.04,223.6M354.53,217L359.49,221.85M360.98,215.25L365.94,220.11M367.43,213.51L372.39,218.36M373.87,211.76L378.84,216.62M380.32,210.02L385.29,214.87M386.77,208.27L391.74,213.12M393.22,206.52L398.19,211.38M399.67,204.78L404.63,209.63M406.12,203.03L411.08,207.89M412.57,201.29L417.53,206.14M419.02,199.54L423.98,204.39M425.47,197.79L430.43,202.65M431.92,196.05L436.88,200.9M438.37,194.3L443.33,199.15M444.82,192.55L449.78,197.41M451.27,190.81L456.23,195.66M457.72,189.06L462.68,193.92M464.17,187.32L469.13,192.17M470.62,185.57L475.58,190.42M477.07,183.82L482.03,188.68M483.52,182.08L488.48,186.93M489.96,180.33L494.93,185.18M496.41,178.58L501.38,183.44M502.86,176.84L507.83,181.69M509.31,175.09L514.28,179.94M515.76,173.34L520.72,178.2M522.21,171.6L527.17,176.45M528.66,169.85L533.62,174.7M535.11,168.1L540.07,172.96M541.56,166.36L546.52,171.21M548.01,164.61L552.97,169.46M554.46,162.86L559.42,167.72M560.91,161.11L565.87,165.97M567.36,159.37L572.32,164.22M191.8,267.15L196.76,272.1M198.25,265.43L203.21,270.39M204.7,263.7L209.66,268.66M211.15,261.96L216.11,266.92M217.6,260.22L222.56,265.18M224.05,258.48L229.01,263.44M230.5,256.74L235.46,261.7M236.95,255L241.91,259.96M243.4,253.26L248.36,258.22M249.85,251.51L254.81,256.47M256.3,249.77L261.26,254.73M262.75,248.03L267.71,252.99M269.2,246.28L274.16,251.24M275.65,244.54L280.61,249.5M282.1,242.79L287.06,247.76M288.54,241.05L293.51,246.01M294.99,239.3L299.96,244.27M301.44,237.56L306.41,242.52M307.89,235.81L312.86,240.78M314.34,234.07L319.3,239.03M320.79,232.32L325.75,237.29M327.24,230.58L332.2,235.54M333.69,228.83L338.65,233.8M340.14,227.09L345.1,232.05M346.59,225.34L351.55,230.31M353.04,223.6L358,228.56M359.49,221.85L364.45,226.82M365.94,220.11L370.9,225.07M372.39,218.36L377.35,223.33M378.84,216.62L383.8,221.58M385.29,214.87L390.25,219.83M391.74,213.12L396.7,218.09M398.19,211.38L403.15,216.34M404.63,209.63L409.6,214.6M411.08,207.89L416.05,212.85M417.53,206.14L422.5,211.11M423.98,204.39L428.95,209.36M430.43,202.65L435.39,207.61M436.88,200.9L441.84,205.87M443.33,199.15L448.29,204.12M449.78,197.41L454.74,202.38M456.23,195.66L461.19,200.63M462.68,193.92L467.64,198.88M469.13,192.17L474.09,197.14M475.58,190.42L480.54,195.39M482.03,188.68L486.99,193.64M488.48,186.93L493.44,191.9M494.93,185.18L499.89,190.15M501.38,183.44L506.34,188.4M507.83,181.69L512.79,186.66M514.28,179.94L519.24,184.91M520.72,178.2L525.69,183.17M527.17,176.45L532.14,181.42M533.62,174.7L538.59,179.67M540.07,172.96L545.04,177.93M546.52,171.21L551.48,176.18M552.97,169.46L557.93,174.43M559.42,167.72L564.38,172.69M565.87,165.97L570.83,170.94M572.32,164.22L577.28,169.19"/>
<path class="mt" stroke="#ff1000" d="M181.88,257.57L186.84,262.3M188.33,255.85L193.29,260.59M194.78,254.12L199.74,258.85M201.23,252.38L206.19,257.12M207.68,250.64L212.64,255.38M214.13,248.89L219.09,253.63M220.58,247.15L225.54,251.89M227.02,245.41L231.99,250.15M233.47,243.67L238.44,248.41M239.92,241.92L244.89,246.66M246.37,240.18L251.34,244.92M252.82,238.44L257.78,243.18M259.27,236.69L264.23,241.43M265.72,234.95L270.68,239.69M272.17,233.2L277.13,237.94M278.62,231.46L283.58,236.2M285.07,229.71L290.03,234.45M291.52,227.97L296.48,232.71M297.97,226.22L302.93,230.96M304.42,224.48L309.38,229.22M310.87,222.73L315.83,227.47M317.32,220.99L322.28,225.73M323.77,219.24L328.73,223.98M330.22,217.49L335.18,222.24M336.67,215.75L341.63,220.49M343.11,214L348.08,218.75M349.56,212.26L354.53,217M356.01,210.51L360.98,215.25M362.46,208.76L367.43,213.51M368.91,207.02L373.87,211.76M375.36,205.27L380.32,210.02M381.81,203.53L386.77,208.27M388.26,201.78L393.22,206.52M394.71,200.03L399.67,204.78M401.16,198.29L406.12,203.03M407.61,196.54L412.57,201.29M414.06,194.8L419.02,199.54M420.51,193.05L425.47,197.79M426.96,191.3L431.92,196.05M433.41,189.56L438.37,194.3M439.86,187.81L444.82,192.55M446.31,186.06L451.27,190.81M452.76,184.32L457.72,189.06M459.2,182.57L464.17,187.32M465.65,180.82L470.62,185.57M472.1,179.08L477.07,183.82M478.55,177.33L483.52,182.08M485,175.58L489.96,180.33M491.45,173.84L496.41,178.58M497.9,172.09L502.86,176.84M504.35,170.34L509.31,175.09M510.8,168.6L515.76,173.34M517.25,166.85L522.21,171.6M523.7,165.1L528.66,169.85M530.15,163.36L535.11,168.1M536.6,161.61L541.56,166.36M543.05,159.86L548.01,164.61M549.5,158.11L554.46,162.86M555.95,156.37L560.91,161.11M562.4,154.62L567.36,159.37"/>
<path class="mt" stroke="#ff0000" d="M171.95,248.4L176.92,252.93M178.4,246.68L183.37,251.21M184.85,244.94L189.82,249.48M191.3,243.2L196.26,247.74M197.75,241.46L202.71,246M204.2,239.72L209.16,244.26M210.65,237.97L215.61,242.51M217.1,236.23L222.06,240.77M223.55,234.49L228.51,239.03M230,232.74L234.96,237.28M236.45,231L241.41,235.54M242.9,229.26L247.86,233.8M249.35,227.51L254.31,232.05M255.8,225.77L260.76,230.31M262.25,224.02L267.21,228.56M268.7,222.28L273.66,226.82M275.15,220.53L280.11,225.07M281.59,218.78L286.56,223.33M288.04,217.04L293.01,221.58M294.49,215.29L299.46,219.84M300.94,213.55L305.91,218.09M307.39,211.8L312.35,216.35M313.84,210.06L318.8,214.6M320.29,208.31L325.25,212.85M326.74,206.56L331.7,211.11M333.19,204.82L338.15,209.36M339.64,203.07L344.6,207.62M346.09,201.33L351.05,205.87M352.54,199.58L357.5,204.12M358.99,197.83L363.95,202.38M365.44,196.09L370.4,200.63M371.89,194.34L376.85,198.88M378.34,192.59L383.3,197.14M384.79,190.85L389.75,195.39M391.24,189.1L396.2,193.65M397.68,187.35L402.65,191.9M404.13,185.61L409.1,190.15M410.58,183.86L415.55,188.41M417.03,182.11L422,186.66M423.48,180.37L428.44,184.91M429.93,178.62L434.89,183.17M436.38,176.87L441.34,181.42M442.83,175.13L447.79,179.67M449.28,173.38L454.24,177.93M455.73,171.63L460.69,176.18M462.18,169.89L467.14,174.43M468.63,168.14L473.59,172.69M475.08,166.39L480.04,170.94M481.53,164.65L486.49,169.19M487.98,162.9L492.94,167.45M494.43,161.15L499.39,165.7M500.88,159.41L505.84,163.95M507.33,157.66L512.29,162.2M513.77,155.91L518.74,160.46M520.22,154.16L525.19,158.71M526.67,152.42L531.64,156.96M533.12,150.67L538.09,155.22M539.57,148.92L544.53,153.47M546.02,147.18L550.98,151.72M552.47,145.43L557.43,149.98M176.92,252.93L181.88,257.57M183.37,251.21L188.33,255.85M189.82,249.48L194.78,254.12M196.26,247.74L201.23,252.38M202.71,246L207.68,250.64M209.16,244.26L214.13,248.89M215.61,242.51L220.58,247.15M222.06,240.77L227.02,245.41M228.51,239.03L233.47,243.67M234.96,237.28L239.92,241.92M241.41,235.54L246.37,240.18M247.86,233.8L252.82,238.44M254.31,232.05L259.27,236.69M260.76,230.31L265.72,234.95M267.21,228.56L272.17,233.2M273.66,226.82L278.62,231.46M280.11,225.07L285.07,229.71M286.56,223.33L291.52,227.97M293.01,221.58L297.97,226.22M299.46,219.84L304.42,224.48M305.91,218.09L310.87,222.73M312.35,216.35L317.32,220.99M318.8,214.6L323.77,219.24M325.25,212.85L330.22,217.49M331.7,211.11L336.67,215.75M338.15,209.36L343.11,214M344.6,207.62L349.56,212.26M351.05,205.87L356.01,210.51M357.5,204.12L362.46,208.76M363.95,202.38L368.91,207.02M370.4,200.63L375.36,205.27M376.85,198.88L381.81,203.53M383.3,197.14L388.26,201.78M389.75,195.39L394.71,200.03M396.2,193.65L401.16,198.29M402.65,191.9L407.61,196.54M409.1,190.15L414.06,194.8M415.55,188.41L420.51,193.05M422,186.66L426.96,191.3M428.44,184.91L433.41,189.56M434.89,183.17L439.86,187.81M441.34,181.42L446.31,186.06M447.79,179.67L452.76,184.32M454.24,177.93L459.2,182.57M460.69,176.18L465.65,180.82M467.14,174.43L472.1,179.08M473.59,172.69L478.55,177.33M480.04,170.94L485,175.58M486.49,169.19L491.45,173.84M492.94,167.45L497.9,172.09M499.39,165.7L504.35,170.34M505.84,163.95L510.8,168.6M512.29,162.2L517.25,166.85M518.74,160.46L523.7,165.1M525.19,158.71L530.15,163.36M531.64,156.96L536.6,161.61M538.09,155.22L543.05,159.86M544.53,153.47L549.5,158.11M550.98,151.72L555.95,156.37M557.43,149.98L562.4,154.62"/>
<path class="mt" stroke="#ef0000" d="M162.03,239.59L166.99,243.95M168.48,237.87L173.44,242.23M174.93,236.13L179.89,240.49M181.38,234.39L186.34,238.75M187.83,232.65L192.79,237.01M194.28,230.91L199.24,235.27M200.73,229.17L205.69,233.53M207.18,227.42L212.14,231.78M213.63,225.68L218.59,230.04M220.07,223.94L225.04,228.3M226.52,222.19L231.49,226.55M232.97,220.45L237.94,224.81M239.42,218.7L244.39,223.06M245.87,216.96L250.83,221.32M252.32,215.21L257.28,219.57M258.77,213.46L263.73,217.83M265.22,211.72L270.18,216.08M271.67,209.97L276.63,214.33M278.12,208.23L283.08,212.59M284.57,206.48L289.53,210.84M291.02,204.74L295.98,209.1M297.47,202.99L302.43,207.35M303.92,201.24L308.88,205.61M310.37,199.5L315.33,203.86M316.82,197.75L321.78,202.11M323.27,196L328.23,200.37M329.72,194.26L334.68,198.62M336.16,192.51L341.13,196.87M342.61,190.77L347.58,195.13M349.06,189.02L354.03,193.38M355.51,187.27L360.48,191.64M361.96,185.53L366.92,189.89M368.41,183.78L373.37,188.14M374.86,182.03L379.82,186.4M381.31,180.29L386.27,184.65M387.76,178.54L392.72,182.9M394.21,176.79L399.17,181.16M400.66,175.04L405.62,179.41M407.11,173.3L412.07,177.66M413.56,171.55L418.52,175.92M420.01,169.8L424.97,174.17M426.46,168.06L431.42,172.42M432.91,166.31L437.87,170.67M439.36,164.56L444.32,168.93M445.81,162.82L450.77,167.18M452.25,161.07L457.22,165.43M458.7,159.32L463.67,163.69M465.15,157.58L470.12,161.94M471.6,155.83L476.57,160.19M478.05,154.08L483.01,158.45M484.5,152.33L489.46,156.7M490.95,150.59L495.91,154.95M497.4,148.84L502.36,153.2M503.85,147.09L508.81,151.46M510.3,145.34L515.26,149.71M516.75,143.6L521.71,147.96M523.2,141.85L528.16,146.22M529.65,140.1L534.61,144.47M536.1,138.36L541.06,142.72M542.55,136.61L547.51,140.97M166.99,243.95L171.95,248.4M173.44,242.23L178.4,246.68M179.89,240.49L184.85,244.94M186.34,238.75L191.3,243.2M192.79,237.01L197.75,241.46M199.24,235.27L204.2,239.72M205.69,233.53L210.65,237.97M212.14,231.78L217.1,236.23M218.59,230.04L223.55,234.49M225.04,228.3L230,232.74M231.49,226.55L236.45,231M237.94,224.81L242.9,229.26M244.39,223.06L249.35,227.51M250.83,221.32L255.8,225.77M257.28,219.57L262.25,224.02M263.73,217.83L268.7,222.28M270.18,216.08L275.15,220.53M276.63,214.33L281.59,218.78M283.08,212.59L288.04,217.04M289.53,210.84L294.49,215.29M295.98,209.1L300.94,213.55M302.43,207.35L307.39,211.8M308.88,205.61L313.84,210.06M315.33,203.86L320.29,208.31M321.78,202.11L326.74,206.56M328.23,200.37L333.19,204.82M334.68,198.62L339.64,203.07M341.13,196.87L346.09,201.33M347.58,195.13L352.54,199.58M354.03,193.38L358.99,197.83M360.48,191.64L365.44,196.09M366.92,189.89L371.89,194.34M373.37,188.14L378.34,192.59M379.82,186.4L384.79,190.85M386.27,184.65L391.24,189.1M392.72,182.9L397.68,187.35M399.17,181.16L404.13,185.61M405.62,179.41L410.58,183.86M412.07,177.66L417.03,182.11M418.52,175.92L423.48,180.37M424.97,174.17L429.93,178.62M431.42,172.42L436.38,176.87M437.87,170.67L442.83,175.13M444.32,168.93L449.28,173.38M450.77,167.18L455.73,171.63M457.22,165.43L462.18,169.89M463.67,163.69L468.63,168.14M470.12,161.94L475.08,166.39M476.57,160.19L481.53,164.65M483.01,158.45L487.98,162.9M489.46,156.7L494.43,161.15M495.91,154.95L500.88,159.41M502.36,153.2L507.33,157.66M508.81,151.46L513.77,155.91M515.26,149.71L520.22,154.16M521.71,147.96L526.67,152.42M528.16,146.22L533.12,150.67M534.61,144.47L539.57,148.92M541.06,142.72L546.02,147.18M547.51,140.97L552.47,145.43"/>
<path class="mt" stroke="#df0000" d="M152.11,231.13L157.07,235.32M158.55,229.4L163.52,233.6M165,227.67L169.97,231.86M171.45,225.93L176.42,230.12M177.9,224.18L182.87,228.38M184.35,222.44L189.31,226.64M190.8,220.7L195.76,224.89M197.25,218.95L202.21,223.15M203.7,217.21L208.66,221.4M210.15,215.46L215.11,219.66M216.6,213.72L221.56,217.91M223.05,211.97L228.01,216.17M229.5,210.23L234.46,214.42M235.95,208.48L240.91,212.68M242.4,206.74L247.36,210.93M248.85,204.99L253.81,209.19M255.3,203.24L260.26,207.44M261.75,201.5L266.71,205.7M268.2,199.75L273.16,203.95M274.64,198.01L279.61,202.2M281.09,196.26L286.06,200.46M287.54,194.51L292.51,198.71M293.99,192.77L298.96,196.97M300.44,191.02L305.4,195.22M306.89,189.27L311.85,193.47M313.34,187.53L318.3,191.73M319.79,185.78L324.75,189.98M326.24,184.03L331.2,188.23M332.69,182.29L337.65,186.49M339.14,180.54L344.1,184.74M345.59,178.79L350.55,182.99M352.04,177.05L357,181.25M358.49,175.3L363.45,179.5M364.94,173.55L369.9,177.75M371.39,171.81L376.35,176.01M377.84,170.06L382.8,174.26M384.29,168.31L389.25,172.51M390.73,166.57L395.7,170.77M397.18,164.82L402.15,169.02M403.63,163.07L408.6,167.27M410.08,161.32L415.05,165.52M416.53,159.58L421.49,163.78M422.98,157.83L427.94,162.03M429.43,156.08L434.39,160.28M435.88,154.34L440.84,158.54M442.33,152.59L447.29,156.79M448.78,150.84L453.74,155.04M455.23,149.09L460.19,153.29M461.68,147.35L466.64,151.55M468.13,145.6L473.09,149.8M474.58,143.85L479.54,148.05M481.03,142.11L485.99,146.31M487.48,140.36L492.44,144.56M493.93,138.61L498.89,142.81M500.38,136.86L505.34,141.06M506.82,135.12L511.79,139.32M513.27,133.37L518.24,137.57M519.72,131.62L524.69,135.82M526.17,129.87L531.14,134.07M532.62,128.13L537.58,132.33M157.07,235.32L162.03,239.59M163.52,233.6L168.48,237.87M169.97,231.86L174.93,236.13M176.42,230.12L181.38,234.39M182.87,228.38L187.83,232.65M189.31,226.64L194.28,230.91M195.76,224.89L200.73,229.17M202.21,223.15L207.18,227.42M208.66,221.4L213.63,225.68M215.11,219.66L220.07,223.94M221.56,217.91L226.52,222.19M228.01,216.17L232.97,220.45M234.46,214.42L239.42,218.7M240.91,212.68L245.87,216.96M247.36,210.93L252.32,215.21M253.81,209.19L258.77,213.46M260.26,207.44L265.22,211.72M266.71,205.7L271.67,209.97M273.16,203.95L278.12,208.23M279.61,202.2L284.57,206.48M286.06,200.46L291.02,204.74M292.51,198.71L297.47,202.99M298.96,196.97L303.92,201.24M305.4,195.22L310.37,199.5M311.85,193.47L316.82,197.75M318.3,191.73L323.27,196M324.75,189.98L329.72,194.26M331.2,188.23L336.16,192.51M337.65,186.49L342.61,190.77M344.1,184.74L349.06,189.02M350.55,182.99L355.51,187.27M357,181.25L361.96,185.53M363.45,179.5L368.41,183.78M369.9,177.75L374.86,182.03M376.35,176.01L381.31,180.29M382.8,174.26L387.76,178.54M389.25,172.51L394.21,176.79M395.7,170.77L400.66,175.04M402.15,169.02L407.11,173.3M408.6,167.27L413.56,171.55M415.05,165.52L420.01,169.8M421.49,163.78L426.46,168.06M427.94,162.03L432.91,166.31M434.39,160.28L439.36,164.56M440.84,158.54L445.81,162.82M447.29,156.79L452.25,161.07M453.74,155.04L458.7,159.32M460.19,153.29L465.15,157.58M466.64,151.55L471.6,155.83M473.09,149.8L478.05,154.08M479.54,148.05L484.5,152.33M485.99,146.31L490.95,150.59M492.44,144.56L497.4,148.84M498.89,142.81L503.85,147.09M505.34,141.06L510.3,145.34M511.79,139.32L516.75,143.6M518.24,137.57L523.2,141.85M524.69,135.82L529.65,140.1M531.14,134.07L536.1,138.36M537.58,132.33L542.55,136.61"/>
<path class="mt" stroke="#cf0000" d="M142.18,222.97L147.14,227.01M148.63,221.24L153.59,225.29M155.08,219.5L160.04,223.55M161.53,217.76L166.49,221.81M167.98,216.02L172.94,220.06M174.43,214.28L179.39,218.32M180.88,212.53L185.84,216.58M187.33,210.79L192.29,214.83M193.78,209.04L198.74,213.09M200.23,207.3L205.19,211.34M206.68,205.55L211.64,209.6M213.12,203.81L218.09,207.85M219.57,202.06L224.54,206.11M226.02,200.31L230.99,204.36M232.47,198.57L237.44,202.62M238.92,196.82L243.88,200.87M245.37,195.08L250.33,199.12M251.82,193.33L256.78,197.38M258.27,191.58L263.23,195.63M264.72,189.84L269.68,193.89M271.17,188.09L276.13,192.14M277.62,186.34L282.58,190.39M284.07,184.6L289.03,188.65M290.52,182.85L295.48,186.9M296.97,181.1L301.93,185.15M303.42,179.36L308.38,183.41M309.87,177.61L314.83,181.66M316.32,175.86L321.28,179.91M322.77,174.12L327.73,178.17M329.21,172.37L334.18,176.42M335.66,170.62L340.63,174.67M342.11,168.88L347.08,172.93M348.56,167.13L353.53,171.18M355.01,165.38L359.97,169.43M361.46,163.64L366.42,167.68M367.91,161.89L372.87,165.94M374.36,160.14L379.32,164.19M380.81,158.39L385.77,162.44M387.26,156.65L392.22,160.7M393.71,154.9L398.67,158.95M400.16,153.15L405.12,157.2M406.61,151.4L411.57,155.45M413.06,149.66L418.02,153.71M419.51,147.91L424.47,151.96M425.96,146.16L430.92,150.21M432.41,144.42L437.37,148.47M438.86,142.67L443.82,146.72M445.3,140.92L450.27,144.97M451.75,139.17L456.72,143.22M458.2,137.43L463.17,141.48M464.65,135.68L469.62,139.73M471.1,133.93L476.06,137.98M477.55,132.18L482.51,136.23M484,130.44L488.96,134.49M490.45,128.69L495.41,132.74M496.9,126.94L501.86,130.99M503.35,125.19L508.31,129.24M509.8,123.45L514.76,127.5M516.25,121.7L521.21,125.75M522.7,119.95L527.66,124M147.14,227.01L152.11,231.13M153.59,225.29L158.55,229.4M160.04,223.55L165,227.67M166.49,221.81L171.45,225.93M172.94,220.06L177.9,224.18M179.39,218.32L184.35,222.44M185.84,216.58L190.8,220.7M192.29,214.83L197.25,218.95M198.74,213.09L203.7,217.21M205.19,211.34L210.15,215.46M211.64,209.6L216.6,213.72M218.09,207.85L223.05,211.97M224.54,206.11L229.5,210.23M230.99,204.36L235.95,208.48M237.44,202.62L242.4,206.74M243.88,200.87L248.85,204.99M250.33,199.12L255.3,203.24M256.78,197.38L261.75,201.5M263.23,195.63L268.2,199.75M269.68,193.89L274.64,198.01M276.13,192.14L281.09,196.26M282.58,190.39L287.54,194.51M289.03,188.65L293.99,192.77M295.48,186.9L300.44,191.02M301.93,185.15L306.89,189.27M308.38,183.41L313.34,187.53M314.83,181.66L319.79,185.78M321.28,179.91L326.24,184.03M327.73,178.17L332.69,182.29M334.18,176.42L339.14,180.54M340.63,174.67L345.59,178.79M347.08,172.93L352.04,177.05M353.53,171.18L358.49,175.3M359.97,169.43L364.94,173.55M366.42,167.68L371.39,171.81M372.87,165.94L377.84,170.06M379.32,164.19L384.29,168.31M385.77,162.44L390.73,166.57M392.22,160.7L397.18,164.82M398.67,158.95L403.63,163.07M405.12,157.2L410.08,161.32M411.57,155.45L416.53,159.58M418.02,153.71L422.98,157.83M424.47,151.96L429.43,156.08M430.92,150.21L435.88,154.34M437.37,148.47L442.33,152.59M443.82,146.72L448.78,150.84M450.27,144.97L455.23,149.09M456.72,143.22L461.68,147.35M463.17,141.48L468.13,145.6M469.62,139.73L474.58,143.85M476.06,137.98L481.03,142.11M482.51,136.23L487.48,140.36M488.96,134.49L493.93,138.61M495.41,132.74L500.38,136.86M501.86,130.99L506.82,135.12M508.31,129.24L513.27,133.37M514.76,127.5L519.72,131.62M521.21,125.75L526.17,129.87M527.66,124L532.62,128.13"/>
<path class="mt" stroke="#bf0000" d="M127.29,211.24L132.26,215.09M133.74,209.51L138.71,213.36M140.19,207.77L145.16,211.62M146.64,206.03L151.6,209.88M153.09,204.29L158.05,208.13M159.54,202.54L164.5,206.39M165.99,200.8L170.95,204.65M172.44,199.05L177.4,202.9M178.89,197.31L183.85,201.16M185.34,195.56L190.3,199.41M191.79,193.82L196.75,197.66M198.24,192.07L203.2,195.92M204.69,190.33L209.65,194.17M211.14,188.58L216.1,192.43M217.59,186.83L222.55,190.68M224.04,185.09L229,188.93M230.49,183.34L235.45,187.19M236.93,181.59L241.9,185.44M243.38,179.85L248.35,183.69M249.83,178.1L254.8,181.95M256.28,176.35L261.25,180.2M262.73,174.61L267.69,178.45M269.18,172.86L274.14,176.71M275.63,171.11L280.59,174.96M282.08,169.37L287.04,173.21M288.53,167.62L293.49,171.47M294.98,165.87L299.94,169.72M301.43,164.12L306.39,167.97M307.88,162.38L312.84,166.23M314.33,160.63L319.29,164.48M320.78,158.88L325.74,162.73M327.23,157.14L332.19,160.98M333.68,155.39L338.64,159.24M340.13,153.64L345.09,157.49M346.58,151.89L351.54,155.74M353.02,150.15L357.99,154M359.47,148.4L364.44,152.25M365.92,146.65L370.89,150.5M372.37,144.9L377.34,148.75M378.82,143.16L383.78,147.01M385.27,141.41L390.23,145.26M391.72,139.66L396.68,143.51M398.17,137.91L403.13,141.76M404.62,136.17L409.58,140.02M411.07,134.42L416.03,138.27M417.52,132.67L422.48,136.52M423.97,130.92L428.93,134.77M430.42,129.18L435.38,133.03M436.87,127.43L441.83,131.28M443.32,125.68L448.28,129.53M449.77,123.93L454.73,127.78M456.22,122.19L461.18,126.04M462.67,120.44L467.63,124.29M469.11,118.69L474.08,122.54M475.56,116.94L480.53,120.79M482.01,115.19L486.98,119.05M488.46,113.45L493.43,117.3M494.91,111.7L499.87,115.55M501.36,109.95L506.32,113.8M507.81,108.2L512.77,112.05M132.26,215.09L137.22,218.99M138.71,213.36L143.67,217.27M145.16,211.62L150.12,215.53M151.6,209.88L156.57,213.79M158.05,208.13L163.02,212.04M164.5,206.39L169.47,210.3M170.95,204.65L175.92,208.56M177.4,202.9L182.36,206.81M183.85,201.16L188.81,205.07M190.3,199.41L195.26,203.32M196.75,197.66L201.71,201.57M203.2,195.92L208.16,199.83M209.65,194.17L214.61,198.08M216.1,192.43L221.06,196.34M222.55,190.68L227.51,194.59M229,188.93L233.96,192.85M235.45,187.19L240.41,191.1M241.9,185.44L246.86,189.35M248.35,183.69L253.31,187.61M254.8,181.95L259.76,185.86M261.25,180.2L266.21,184.11M267.69,178.45L272.66,182.37M274.14,176.71L279.11,180.62M280.59,174.96L285.56,178.87M287.04,173.21L292.01,177.13M293.49,171.47L298.45,175.38M299.94,169.72L304.9,173.63M306.39,167.97L311.35,171.89M312.84,166.23L317.8,170.14M319.29,164.48L324.25,168.39M325.74,162.73L330.7,166.64M332.19,160.98L337.15,164.9M338.64,159.24L343.6,163.15M345.09,157.49L350.05,161.4M351.54,155.74L356.5,159.66M357.99,154L362.95,157.91M364.44,152.25L369.4,156.16M370.89,150.5L375.85,154.41M377.34,148.75L382.3,152.67M383.78,147.01L388.75,150.92M390.23,145.26L395.2,149.17M396.68,143.51L401.65,147.42M403.13,141.76L408.1,145.68M409.58,140.02L414.54,143.93M416.03,138.27L420.99,142.18M422.48,136.52L427.44,140.44M428.93,134.77L433.89,138.69M435.38,133.03L440.34,136.94M441.83,131.28L446.79,135.19M448.28,129.53L453.24,133.45M454.73,127.78L459.69,131.7M461.18,126.04L466.14,129.95M467.63,124.29L472.59,128.2M474.08,122.54L479.04,126.45M480.53,120.79L485.49,124.71M486.98,119.05L491.94,122.96M493.43,117.3L498.39,121.21M499.87,115.55L504.84,119.46M506.32,113.8L511.29,117.72M512.77,112.05L517.74,115.97M137.22,218.99L142.18,222.97M143.67,217.27L148.63,221.24M150.12,215.53L155.08,219.5M156.57,213.79L161.53,217.76M163.02,212.04L167.98,216.02M169.47,210.3L174.43,214.28M175.92,208.56L180.88,212.53M182.36,206.81L187.33,210.79M188.81,205.07L193.78,209.04M195.26,203.32L200.23,207.3M201.71,201.57L206.68,205.55M208.16,199.83L213.12,203.81M214.61,198.08L219.57,202.06M221.06,196.34L226.02,200.31M227.51,194.59L232.47,198.57M233.96,192.85L238.92,196.82M240.41,191.1L245.37,195.08M246.86,189.35L251.82,193.33M253.31,187.61L258.27,191.58M259.76,185.86L264.72,189.84M266.21,184.11L271.17,188.09M272.66,182.37L277.62,186.34M279.11,180.62L284.07,184.6M285.56,178.87L290.52,182.85M292.01,177.13L296.97,181.1M298.45,175.38L303.42,179.36M304.9,173.63L309.87,177.61M311.35,171.89L316.32,175.86M317.8,170.14L322.77,174.12M324.25,168.39L329.21,172.37M330.7,166.64L335.66,170.62M337.15,164.9L342.11,168.88M343.6,163.15L348.56,167.13M350.05,161.4L355.01,165.38M356.5,159.66L361.46,163.64M362.95,157.91L367.91,161.89M369.4,156.16L374.36,160.14M375.85,154.41L380.81,158.39M382.3,152.67L387.26,156.65M388.75,150.92L393.71,154.9M395.2,149.17L400.16,153.15M401.65,147.42L406.61,151.4M408.1,145.68L413.06,149.66M414.54,143.93L419.51,147.91M420.99,142.18L425.96,146.16M427.44,140.44L432.41,144.42M433.89,138.69L438.86,142.67M440.34,136.94L445.3,140.92M446.79,135.19L451.75,139.17M453.24,133.45L458.2,137.43M459.69,131.7L464.65,135.68M466.14,129.95L471.1,133.93M472.59,128.2L477.55,132.18M479.04,126.45L484,130.44M485.49,124.71L490.45,128.69M491.94,122.96L496.9,126.94M498.39,121.21L503.35,125.19M504.84,119.46L509.8,123.45M511.29,117.72L516.25,121.7M517.74,115.97L522.7,119.95"/>
<path class="mt" stroke="#af0000" d="M112.41,200.06L117.37,203.73M118.86,198.33L123.82,202M125.31,196.59L130.27,200.26M131.76,194.85L136.72,198.52M138.21,193.1L143.17,196.78M144.65,191.36L149.62,195.03M151.1,189.61L156.07,193.29M157.55,187.87L162.52,191.54M164,186.12L168.97,189.79M170.45,184.38L175.41,188.05M176.9,182.63L181.86,186.3M183.35,180.88L188.31,184.56M189.8,179.14L194.76,182.81M196.25,177.39L201.21,181.06M202.7,175.64L207.66,179.32M209.15,173.9L214.11,177.57M215.6,172.15L220.56,175.82M222.05,170.4L227.01,174.08M228.5,168.66L233.46,172.33M234.95,166.91L239.91,170.58M241.4,165.16L246.36,168.84M247.85,163.42L252.81,167.09M254.3,161.67L259.26,165.34M260.74,159.92L265.71,163.6M267.19,158.17L272.16,161.85M273.64,156.43L278.61,160.1M280.09,154.68L285.06,158.35M286.54,152.93L291.5,156.61M292.99,151.19L297.95,154.86M299.44,149.44L304.4,153.11M305.89,147.69L310.85,151.36M312.34,145.94L317.3,149.62M318.79,144.2L323.75,147.87M325.24,142.45L330.2,146.12M331.69,140.7L336.65,144.38M338.14,138.95L343.1,142.63M344.59,137.21L349.55,140.88M351.04,135.46L356,139.13M357.49,133.71L362.45,137.39M363.94,131.96L368.9,135.64M370.39,130.22L375.35,133.89M376.83,128.47L381.8,132.14M383.28,126.72L388.25,130.39M389.73,124.97L394.7,128.65M396.18,123.22L401.15,126.9M402.63,121.48L407.59,125.15M409.08,119.73L414.04,123.4M415.53,117.98L420.49,121.66M421.98,116.23L426.94,119.91M428.43,114.49L433.39,118.16M434.88,112.74L439.84,116.41M441.33,110.99L446.29,114.67M447.78,109.24L452.74,112.92M454.23,107.49L459.19,111.17M460.68,105.75L465.64,109.42M467.13,104L472.09,107.67M473.58,102.25L478.54,105.93M480.03,100.5L484.99,104.18M486.48,98.75L491.44,102.43M492.92,97.01L497.89,100.68M117.37,203.73L122.33,207.46M123.82,202L128.78,205.73M130.27,200.26L135.23,203.99M136.72,198.52L141.68,202.25M143.17,196.78L148.13,200.5M149.62,195.03L154.58,198.76M156.07,193.29L161.03,197.01M162.52,191.54L167.48,195.27M168.97,189.79L173.93,193.52M175.41,188.05L180.38,191.78M181.86,186.3L186.83,190.03M188.31,184.56L193.28,188.29M194.76,182.81L199.73,186.54M201.21,181.06L206.17,184.79M207.66,179.32L212.62,183.05M214.11,177.57L219.07,181.3M220.56,175.82L225.52,179.55M227.01,174.08L231.97,177.81M233.46,172.33L238.42,176.06M239.91,170.58L244.87,174.31M246.36,168.84L251.32,172.57M252.81,167.09L257.77,170.82M259.26,165.34L264.22,169.07M265.71,163.6L270.67,167.33M272.16,161.85L277.12,165.58M278.61,160.1L283.57,163.83M285.06,158.35L290.02,162.08M291.5,156.61L296.47,160.34M297.95,154.86L302.92,158.59M304.4,153.11L309.37,156.84M310.85,151.36L315.82,155.09M317.3,149.62L322.26,153.35M323.75,147.87L328.71,151.6M330.2,146.12L335.16,149.85M336.65,144.38L341.61,148.11M343.1,142.63L348.06,146.36M349.55,140.88L354.51,144.61M356,139.13L360.96,142.86M362.45,137.39L367.41,141.12M368.9,135.64L373.86,139.37M375.35,133.89L380.31,137.62M381.8,132.14L386.76,135.87M388.25,130.39L393.21,134.13M394.7,128.65L399.66,132.38M401.15,126.9L406.11,130.63M407.59,125.15L412.56,128.88M414.04,123.4L419.01,127.13M420.49,121.66L425.46,125.39M426.94,119.91L431.91,123.64M433.39,118.16L438.35,121.89M439.84,116.41L444.8,120.14M446.29,114.67L451.25,118.4M452.74,112.92L457.7,116.65M459.19,111.17L464.15,114.9M465.64,109.42L470.6,113.15M472.09,107.67L477.05,111.41M478.54,105.93L483.5,109.66M484.99,104.18L489.95,107.91M491.44,102.43L496.4,106.16M497.89,100.68L502.85,104.41M122.33,207.46L127.29,211.24M128.78,205.73L133.74,209.51M135.23,203.99L140.19,207.77M141.68,202.25L146.64,206.03M148.13,200.5L153.09,204.29M154.58,198.76L159.54,202.54M161.03,197.01L165.99,200.8M167.48,195.27L172.44,199.05M173.93,193.52L178.89,197.31M180.38,191.78L185.34,195.56M186.83,190.03L191.79,193.82M193.28,188.29L198.24,192.07M199.73,186.54L204.69,190.33M206.17,184.79L211.14,188.58M212.62,183.05L217.59,186.83M219.07,181.3L224.04,185.09M225.52,179.55L230.49,183.34M231.97,177.81L236.93,181.59M238.42,176.06L243.38,179.85M244.87,174.31L249.83,178.1M251.32,172.57L256.28,176.35M257.77,170.82L262.73,174.61M264.22,169.07L269.18,172.86M270.67,167.33L275.63,171.11M277.12,165.58L282.08,169.37M283.57,163.83L288.53,167.62M290.02,162.08L294.98,165.87M296.47,160.34L301.43,164.12M302.92,158.59L307.88,162.38M309.37,156.84L314.33,160.63M315.82,155.09L320.78,158.88M322.26,153.35L327.23,157.14M328.71,151.6L333.68,155.39M335.16,149.85L340.13,153.64M341.61,148.11L346.58,151.89M348.06,146.36L353.02,150.15M354.51,144.61L359.47,148.4M360.96,142.86L365.92,146.65M367.41,141.12L372.37,144.9M373.86,139.37L378.82,143.16M380.31,137.62L385.27,141.41M386.76,135.87L391.72,139.66M393.21,134.13L398.17,137.91M399.66,132.38L404.62,136.17M406.11,130.63L411.07,134.42M412.56,128.88L417.52,132.67M419.01,127.13L423.97,130.92M425.46,125.39L430.42,129.18M431.91,123.64L436.87,127.43M438.35,121.89L443.32,125.68M444.8,120.14L449.77,123.93M451.25,118.4L456.22,122.19M457.7,116.65L462.67,120.44M464.15,114.9L469.11,118.69M470.6,113.15L475.56,116.94M477.05,111.41L482.01,115.19M483.5,109.66L488.46,113.45M489.95,107.91L494.91,111.7M496.4,106.16L501.36,109.95M502.85,104.41L507.81,108.2"/>
<path class="mt" stroke="#9f0000" d="M97.52,189.36L102.48,192.88M103.97,187.63L108.93,191.15M110.42,185.89L115.38,189.41M116.87,184.14L121.83,187.66M123.32,182.4L128.28,185.92M129.77,180.65L134.73,184.17M136.22,178.91L141.18,182.43M142.67,177.16L147.63,180.68M149.12,175.42L154.08,178.94M155.57,173.67L160.53,177.19M162.02,171.92L166.98,175.44M168.46,170.18L173.43,173.7M174.91,168.43L179.88,171.95M181.36,166.68L186.33,170.2M187.81,164.94L192.78,168.46M194.26,163.19L199.22,166.71M200.71,161.44L205.67,164.96M207.16,159.7L212.12,163.22M213.61,157.95L218.57,161.47M220.06,156.2L225.02,159.72M226.51,154.45L231.47,157.97M232.96,152.71L237.92,156.23M239.41,150.96L244.37,154.48M245.86,149.21L250.82,152.73M252.31,147.46L257.27,150.98M258.76,145.72L263.72,149.24M265.21,143.97L270.17,147.49M271.66,142.22L276.62,145.74M278.11,140.47L283.07,144M284.55,138.73L289.52,142.25M291,136.98L295.97,140.5M297.45,135.23L302.42,138.75M303.9,133.48L308.87,137M310.35,131.74L315.31,135.26M316.8,129.99L321.76,133.51M323.25,128.24L328.21,131.76M329.7,126.49L334.66,130.01M336.15,124.75L341.11,128.27M342.6,123L347.56,126.52M349.05,121.25L354.01,124.77M355.5,119.5L360.46,123.02M361.95,117.75L366.91,121.28M368.4,116.01L373.36,119.53M374.85,114.26L379.81,117.78M381.3,112.51L386.26,116.03M387.75,110.76L392.71,114.28M394.2,109.01L399.16,112.54M400.64,107.27L405.61,110.79M407.09,105.52L412.06,109.04M413.54,103.77L418.51,107.29M419.99,102.02L424.96,105.54M426.44,100.27L431.4,103.8M432.89,98.53L437.85,102.05M439.34,96.78L444.3,100.3M445.79,95.03L450.75,98.55M452.24,93.28L457.2,96.8M458.69,91.53L463.65,95.06M465.14,89.79L470.1,93.31M471.59,88.04L476.55,91.56M478.04,86.29L483,89.81M102.48,192.88L107.45,196.45M108.93,191.15L113.89,194.71M115.38,189.41L120.34,192.97M121.83,187.66L126.79,191.23M128.28,185.92L133.24,189.49M134.73,184.17L139.69,187.74M141.18,182.43L146.14,186M147.63,180.68L152.59,184.25M154.08,178.94L159.04,182.5M160.53,177.19L165.49,180.76M166.98,175.44L171.94,179.01M173.43,173.7L178.39,177.26M179.88,171.95L184.84,175.52M186.33,170.2L191.29,173.77M192.78,168.46L197.74,172.03M199.22,166.71L204.19,170.28M205.67,164.96L210.64,168.53M212.12,163.22L217.09,166.78M218.57,161.47L223.54,165.04M225.02,159.72L229.98,163.29M231.47,157.97L236.43,161.54M237.92,156.23L242.88,159.8M244.37,154.48L249.33,158.05M250.82,152.73L255.78,156.3M257.27,150.98L262.23,154.55M263.72,149.24L268.68,152.81M270.17,147.49L275.13,151.06M276.62,145.74L281.58,149.31M283.07,144L288.03,147.56M289.52,142.25L294.48,145.82M295.97,140.5L300.93,144.07M302.42,138.75L307.38,142.32M308.87,137L313.83,140.57M315.31,135.26L320.28,138.83M321.76,133.51L326.73,137.08M328.21,131.76L333.18,135.33M334.66,130.01L339.63,133.58M341.11,128.27L346.07,131.84M347.56,126.52L352.52,130.09M354.01,124.77L358.97,128.34M360.46,123.02L365.42,126.59M366.91,121.28L371.87,124.85M373.36,119.53L378.32,123.1M379.81,117.78L384.77,121.35M386.26,116.03L391.22,119.6M392.71,114.28L397.67,117.85M399.16,112.54L404.12,116.11M405.61,110.79L410.57,114.36M412.06,109.04L417.02,112.61M418.51,107.29L423.47,110.86M424.96,105.54L429.92,109.12M431.4,103.8L436.37,107.37M437.85,102.05L442.82,105.62M444.3,100.3L449.27,103.87M450.75,98.55L455.72,102.12M457.2,96.8L462.16,100.38M463.65,95.06L468.61,98.63M470.1,93.31L475.06,96.88M476.55,91.56L481.51,95.13M483,89.81L487.96,93.38M107.45,196.45L112.41,200.06M113.89,194.71L118.86,198.33M120.34,192.97L125.31,196.59M126.79,191.23L131.76,194.85M133.24,189.49L138.21,193.1M139.69,187.74L144.65,191.36M146.14,186L151.1,189.61M152.59,184.25L157.55,187.87M159.04,182.5L164,186.12M165.49,180.76L170.45,184.38M171.94,179.01L176.9,182.63M178.39,177.26L183.35,180.88M184.84,175.52L189.8,179.14M191.29,173.77L196.25,177.39M197.74,172.03L202.7,175.64M204.19,170.28L209.15,173.9M210.64,168.53L215.6,172.15M217.09,166.78L222.05,170.4M223.54,165.04L228.5,168.66M229.98,163.29L234.95,166.91M236.43,161.54L241.4,165.16M242.88,159.8L247.85,163.42M249.33,158.05L254.3,161.67M255.78,156.3L260.74,159.92M262.23,154.55L267.19,158.17M268.68,152.81L273.64,156.43M275.13,151.06L280.09,154.68M281.58,149.31L286.54,152.93M288.03,147.56L292.99,151.19M294.48,145.82L299.44,149.44M300.93,144.07L305.89,147.69M307.38,142.32L312.34,145.94M313.83,140.57L318.79,144.2M320.28,138.83L325.24,142.45M326.73,137.08L331.69,140.7M333.18,135.33L338.14,138.95M339.63,133.58L344.59,137.21M346.07,131.84L351.04,135.46M352.52,130.09L357.49,133.71M358.97,128.34L363.94,131.96M365.42,126.59L370.39,130.22M371.87,124.85L376.83,128.47M378.32,123.1L383.28,126.72M384.77,121.35L389.73,124.97M391.22,119.6L396.18,123.22M397.67,117.85L402.63,121.48M404.12,116.11L409.08,119.73M410.57,114.36L415.53,117.98M417.02,112.61L421.98,116.23M423.47,110.86L428.43,114.49M429.92,109.12L434.88,112.74M436.37,107.37L441.33,110.99M442.82,105.62L447.78,109.24M449.27,103.87L454.23,107.49M455.72,102.12L460.68,105.75M462.16,100.38L467.13,104M468.61,98.63L473.58,102.25M475.06,96.88L480.03,100.5M481.51,95.13L486.48,98.75M487.96,93.38L492.92,97.01"/>
<path class="mt" stroke="#8f0000" d="M82.63,179.08L87.6,182.47M89.08,177.35L94.05,180.73M95.53,175.6L100.5,178.99M101.98,173.86L106.94,177.24M108.43,172.12L113.39,175.5M114.88,170.37L119.84,173.75M121.33,168.62L126.29,172.01M127.78,166.88L132.74,170.26M134.23,165.13L139.19,168.52M140.68,163.38L145.64,166.77M147.13,161.64L152.09,165.02M153.58,159.89L158.54,163.28M160.03,158.14L164.99,161.53M166.48,156.4L171.44,159.78M172.93,154.65L177.89,158.04M179.38,152.9L184.34,156.29M185.83,151.16L190.79,154.54M192.27,149.41L197.24,152.79M198.72,147.66L203.69,151.05M205.17,145.91L210.14,149.3M211.62,144.17L216.59,147.55M218.07,142.42L223.03,145.8M224.52,140.67L229.48,144.06M230.97,138.92L235.93,142.31M237.42,137.18L242.38,140.56M243.87,135.43L248.83,138.81M250.32,133.68L255.28,137.07M256.77,131.93L261.73,135.32M263.22,130.18L268.18,133.57M269.67,128.44L274.63,131.82M276.12,126.69L281.08,130.08M282.57,124.94L287.53,128.33M289.02,123.19L293.98,126.58M295.47,121.45L300.43,124.83M301.92,119.7L306.88,123.08M308.36,117.95L313.33,121.34M314.81,116.2L319.78,119.59M321.26,114.45L326.23,117.84M327.71,112.71L332.68,116.09M334.16,110.96L339.12,114.34M340.61,109.21L345.57,112.6M347.06,107.46L352.02,110.85M353.51,105.71L358.47,109.1M359.96,103.97L364.92,107.35M366.41,102.22L371.37,105.61M372.86,100.47L377.82,103.86M379.31,98.72L384.27,102.11M385.76,96.97L390.72,100.36M392.21,95.23L397.17,98.61M398.66,93.48L403.62,96.86M405.11,91.73L410.07,95.12M411.56,89.98L416.52,93.37M418.01,88.23L422.97,91.62M424.46,86.49L429.42,89.87M430.9,84.74L435.87,88.12M437.35,82.99L442.32,86.38M443.8,81.24L448.77,84.63M450.25,79.49L455.22,82.88M456.7,77.74L461.66,81.13M463.15,76L468.11,79.38M87.6,182.47L92.56,185.89M94.05,180.73L99.01,184.16M100.5,178.99L105.46,182.42M106.94,177.24L111.91,180.67M113.39,175.5L118.36,178.93M119.84,173.75L124.81,177.18M126.29,172.01L131.26,175.44M132.74,170.26L137.7,173.69M139.19,168.52L144.15,171.94M145.64,166.77L150.6,170.2M152.09,165.02L157.05,168.45M158.54,163.28L163.5,166.7M164.99,161.53L169.95,164.96M171.44,159.78L176.4,163.21M177.89,158.04L182.85,161.46M184.34,156.29L189.3,159.72M190.79,154.54L195.75,157.97M197.24,152.79L202.2,156.22M203.69,151.05L208.65,154.47M210.14,149.3L215.1,152.73M216.59,147.55L221.55,150.98M223.03,145.8L228,149.23M229.48,144.06L234.45,147.49M235.93,142.31L240.9,145.74M242.38,140.56L247.35,143.99M248.83,138.81L253.79,142.24M255.28,137.07L260.24,140.5M261.73,135.32L266.69,138.75M268.18,133.57L273.14,137M274.63,131.82L279.59,135.25M281.08,130.08L286.04,133.5M287.53,128.33L292.49,131.76M293.98,126.58L298.94,130.01M300.43,124.83L305.39,128.26M306.88,123.08L311.84,126.51M313.33,121.34L318.29,124.77M319.78,119.59L324.74,123.02M326.23,117.84L331.19,121.27M332.68,116.09L337.64,119.52M339.12,114.34L344.09,117.77M345.57,112.6L350.54,116.03M352.02,110.85L356.99,114.28M358.47,109.1L363.44,112.53M364.92,107.35L369.88,110.78M371.37,105.61L376.33,109.04M377.82,103.86L382.78,107.29M384.27,102.11L389.23,105.54M390.72,100.36L395.68,103.79M397.17,98.61L402.13,102.04M403.62,96.86L408.58,100.3M410.07,95.12L415.03,98.55M416.52,93.37L421.48,96.8M422.97,91.62L427.93,95.05M429.42,89.87L434.38,93.3M435.87,88.12L440.83,91.56M442.32,86.38L447.28,89.81M448.77,84.63L453.73,88.06M455.22,82.88L460.18,86.31M461.66,81.13L466.63,84.56M468.11,79.38L473.08,82.81M92.56,185.89L97.52,189.36M99.01,184.16L103.97,187.63M105.46,182.42L110.42,185.89M111.91,180.67L116.87,184.14M118.36,178.93L123.32,182.4M124.81,177.18L129.77,180.65M131.26,175.44L136.22,178.91M137.7,173.69L142.67,177.16M144.15,171.94L149.12,175.42M150.6,170.2L155.57,173.67M157.05,168.45L162.02,171.92M163.5,166.7L168.46,170.18M169.95,164.96L174.91,168.43M176.4,163.21L181.36,166.68M182.85,161.46L187.81,164.94M189.3,159.72L194.26,163.19M195.75,157.97L200.71,161.44M202.2,156.22L207.16,159.7M208.65,154.47L213.61,157.95M215.1,152.73L220.06,156.2M221.55,150.98L226.51,154.45M228,149.23L232.96,152.71M234.45,147.49L239.41,150.96M240.9,145.74L245.86,149.21M247.35,143.99L252.31,147.46M253.79,142.24L258.76,145.72M260.24,140.5L265.21,143.97M266.69,138.75L271.66,142.22M273.14,137L278.11,140.47M279.59,135.25L284.55,138.73M286.04,133.5L291,136.98M292.49,131.76L297.45,135.23M298.94,130.01L303.9,133.48M305.39,128.26L310.35,131.74M311.84,126.51L316.8,129.99M318.29,124.77L323.25,128.24M324.74,123.02L329.7,126.49M331.19,121.27L336.15,124.75M337.64,119.52L342.6,123M344.09,117.77L349.05,121.25M350.54,116.03L355.5,119.5M356.99,114.28L361.95,117.75M363.44,112.53L368.4,116.01M369.88,110.78L374.85,114.26M376.33,109.04L381.3,112.51M382.78,107.29L387.75,110.76M389.23,105.54L394.2,109.01M395.68,103.79L400.64,107.27M402.13,102.04L407.09,105.52M408.58,100.3L413.54,103.77M415.03,98.55L419.99,102.02M421.48,96.8L426.44,100.27M427.93,95.05L432.89,98.53M434.38,93.3L439.34,96.78M440.83,91.56L445.79,95.03M447.28,89.81L452.24,93.28M453.73,88.06L458.69,91.53M460.18,86.31L465.14,89.79M466.63,84.56L471.59,88.04M473.08,82.81L478.04,86.29"/>
<path class="mt" stroke="#800000" d="M62.79,165.94L67.75,169.17M69.23,164.21L74.2,167.44M75.68,162.46L80.65,165.69M82.13,160.72L87.1,163.95M88.58,158.97L93.55,162.2M95.03,157.23L99.99,160.46M101.48,155.48L106.44,158.71M107.93,153.73L112.89,156.96M114.38,151.99L119.34,155.22M120.83,150.24L125.79,153.47M127.28,148.49L132.24,151.72M133.73,146.75L138.69,149.98M140.18,145L145.14,148.23M146.63,143.25L151.59,146.48M153.08,141.5L158.04,144.73M159.53,139.76L164.49,142.99M165.98,138.01L170.94,141.24M172.43,136.26L177.39,139.49M178.88,134.51L183.84,137.74M185.32,132.77L190.29,136M191.77,131.02L196.74,134.25M198.22,129.27L203.19,132.5M204.67,127.52L209.64,130.75M211.12,125.77L216.08,129.01M217.57,124.03L222.53,127.26M224.02,122.28L228.98,125.51M230.47,120.53L235.43,123.76M236.92,118.78L241.88,122.01M243.37,117.03L248.33,120.27M249.82,115.29L254.78,118.52M256.27,113.54L261.23,116.77M262.72,111.79L267.68,115.02M269.17,110.04L274.13,113.27M275.62,108.29L280.58,111.53M282.07,106.55L287.03,109.78M288.52,104.8L293.48,108.03M294.97,103.05L299.93,106.28M301.42,101.3L306.38,104.53M307.86,99.55L312.83,102.79M314.31,97.81L319.28,101.04M320.76,96.06L325.73,99.29M327.21,94.31L332.18,97.54M333.66,92.56L338.62,95.79M340.11,90.81L345.07,94.05M346.56,89.07L351.52,92.3M353.01,87.32L357.97,90.55M359.46,85.57L364.42,88.8M365.91,83.82L370.87,87.05M372.36,82.07L377.32,85.3M378.81,80.32L383.77,83.56M385.26,78.58L390.22,81.81M391.71,76.83L396.67,80.06M398.16,75.08L403.12,78.31M404.61,73.33L409.57,76.56M411.06,71.58L416.02,74.82M417.51,69.84L422.47,73.07M423.95,68.09L428.92,71.32M430.4,66.34L435.37,69.57M436.85,64.59L441.82,67.82M443.3,62.84L448.27,66.07M67.75,169.17L72.71,172.44M74.2,167.44L79.16,170.7M80.65,165.69L85.61,168.96M87.1,163.95L92.06,167.21M93.55,162.2L98.51,165.47M99.99,160.46L104.96,163.72M106.44,158.71L111.41,161.98M112.89,156.96L117.86,160.23M119.34,155.22L124.31,158.48M125.79,153.47L130.75,156.74M132.24,151.72L137.2,154.99M138.69,149.98L143.65,153.24M145.14,148.23L150.1,151.5M151.59,146.48L156.55,149.75M158.04,144.73L163,148M164.49,142.99L169.45,146.25M170.94,141.24L175.9,144.51M177.39,139.49L182.35,142.76M183.84,137.74L188.8,141.01M190.29,136L195.25,139.26M196.74,134.25L201.7,137.52M203.19,132.5L208.15,135.77M209.64,130.75L214.6,134.02M216.08,129.01L221.05,132.27M222.53,127.26L227.5,130.53M228.98,125.51L233.95,128.78M235.43,123.76L240.4,127.03M241.88,122.01L246.84,125.28M248.33,120.27L253.29,123.53M254.78,118.52L259.74,121.79M261.23,116.77L266.19,120.04M267.68,115.02L272.64,118.29M274.13,113.27L279.09,116.54M280.58,111.53L285.54,114.79M287.03,109.78L291.99,113.05M293.48,108.03L298.44,111.3M299.93,106.28L304.89,109.55M306.38,104.53L311.34,107.8M312.83,102.79L317.79,106.05M319.28,101.04L324.24,104.31M325.73,99.29L330.69,102.56M332.18,97.54L337.14,100.81M338.62,95.79L343.59,99.06M345.07,94.05L350.04,97.31M351.52,92.3L356.49,95.57M357.97,90.55L362.94,93.82M364.42,88.8L369.38,92.07M370.87,87.05L375.83,90.32M377.32,85.3L382.28,88.57M383.77,83.56L388.73,86.83M390.22,81.81L395.18,85.08M396.67,80.06L401.63,83.33M403.12,78.31L408.08,81.58M409.57,76.56L414.53,79.83M416.02,74.82L420.98,78.08M422.47,73.07L427.43,76.34M428.92,71.32L433.88,74.59M435.37,69.57L440.33,72.84M441.82,67.82L446.78,71.09M448.27,66.07L453.23,69.34M72.71,172.44L77.67,175.74M79.16,170.7L84.12,174.01M85.61,168.96L90.57,172.26M92.06,167.21L97.02,170.52M98.51,165.47L103.47,168.77M104.96,163.72L109.92,167.03M111.41,161.98L116.37,165.28M117.86,160.23L122.82,163.53M124.31,158.48L129.27,161.79M130.75,156.74L135.72,160.04M137.2,154.99L142.17,158.29M143.65,153.24L148.62,156.55M150.1,151.5L155.07,154.8M156.55,149.75L161.51,153.05M163,148L167.96,151.31M169.45,146.25L174.41,149.56M175.9,144.51L180.86,147.81M182.35,142.76L187.31,146.06M188.8,141.01L193.76,144.32M195.25,139.26L200.21,142.57M201.7,137.52L206.66,140.82M208.15,135.77L213.11,139.07M214.6,134.02L219.56,137.33M221.05,132.27L226.01,135.58M227.5,130.53L232.46,133.83M233.95,128.78L238.91,132.08M240.4,127.03L245.36,130.33M246.84,125.28L251.81,128.59M253.29,123.53L258.26,126.84M259.74,121.79L264.71,125.09M266.19,120.04L271.16,123.34M272.64,118.29L277.6,121.6M279.09,116.54L284.05,119.85M285.54,114.79L290.5,118.1M291.99,113.05L296.95,116.35M298.44,111.3L303.4,114.6M304.89,109.55L309.85,112.86M311.34,107.8L316.3,111.11M317.79,106.05L322.75,109.36M324.24,104.31L329.2,107.61M330.69,102.56L335.65,105.86M337.14,100.81L342.1,104.12M343.59,99.06L348.55,102.37M350.04,97.31L355,100.62M356.49,95.57L361.45,98.87M362.94,93.82L367.9,97.12M369.38,92.07L374.35,95.38M375.83,90.32L380.8,93.63M382.28,88.57L387.25,91.88M388.73,86.83L393.7,90.13M395.18,85.08L400.14,88.38M401.63,83.33L406.59,86.64M408.08,81.58L413.04,84.89M414.53,79.83L419.49,83.14M420.98,78.08L425.94,81.39M427.43,76.34L432.39,79.64M433.88,74.59L438.84,77.89M440.33,72.84L445.29,76.15M446.78,71.09L451.74,74.4M453.23,69.34L458.19,72.65M77.67,175.74L82.63,179.08M84.12,174.01L89.08,177.35M90.57,172.26L95.53,175.6M97.02,170.52L101.98,173.86M103.47,168.77L108.43,172.12M109.92,167.03L114.88,170.37M116.37,165.28L121.33,168.62M122.82,163.53L127.78,166.88M129.27,161.79L134.23,165.13M135.72,160.04L140.68,163.38M142.17,158.29L147.13,161.64M148.62,156.55L153.58,159.89M155.07,154.8L160.03,158.14M161.51,153.05L166.48,156.4M167.96,151.31L172.93,154.65M174.41,149.56L179.38,152.9M180.86,147.81L185.83,151.16M187.31,146.06L192.27,149.41M193.76,144.32L198.72,147.66M200.21,142.57L205.17,145.91M206.66,140.82L211.62,144.17M213.11,139.07L218.07,142.42M219.56,137.33L224.52,140.67M226.01,135.58L230.97,138.92M232.46,133.83L237.42,137.18M238.91,132.08L243.87,135.43M245.36,130.33L250.32,133.68M251.81,128.59L256.77,131.93M258.26,126.84L263.22,130.18M264.71,125.09L269.67,128.44M271.16,123.34L276.12,126.69M277.6,121.6L282.57,124.94M284.05,119.85L289.02,123.19M290.5,118.1L295.47,121.45M296.95,116.35L301.92,119.7M303.4,114.6L308.36,117.95M309.85,112.86L314.81,116.2M316.3,111.11L321.26,114.45M322.75,109.36L327.71,112.71M329.2,107.61L334.16,110.96M335.65,105.86L340.61,109.21M342.1,104.12L347.06,107.46M348.55,102.37L353.51,105.71M355,100.62L359.96,103.97M361.45,98.87L366.41,102.22M367.9,97.12L372.86,100.47M374.35,95.38L379.31,98.72M380.8,93.63L385.76,96.97M387.25,91.88L392.21,95.23M393.7,90.13L398.66,93.48M400.14,88.38L405.11,91.73M406.59,86.64L411.56,89.98M413.04,84.89L418.01,88.23M419.49,83.14L424.46,86.49M425.94,81.39L430.9,84.74M432.39,79.64L437.35,82.99M438.84,77.89L443.8,81.24M445.29,76.15L450.25,79.49M451.74,74.4L456.7,77.74M458.19,72.65L463.15,76"/>
<path class="ax" d="M62.79,444.5 L62.79,151.25 M62.79,444.5 L355.56,579.1 M355.56,579.1 L736.07,475.9 M62.79,151.25 L53.16,146.82 M62.79,215.46 L53.16,211.03 M62.79,279.67 L53.16,275.24 M62.79,343.88 L53.16,339.45 M62.79,408.09 L53.16,403.66 M62.79,444.5 L52.8,447.21 M209.17,511.8 L199.18,514.51 M355.56,579.1 L345.57,581.81 M355.56,579.1 L365.18,583.53 M431.66,558.46 L441.28,562.89 M507.76,537.82 L517.39,542.25 M583.87,517.18 L593.49,521.61 M659.97,496.54 L669.6,500.97 M736.07,475.9 L745.7,480.33"/>
<path class="dot" d="M138.89,1161.36 L138.89,867.46 M214.99,1140.72 L214.99,846.82 M291.1,1120.08 L291.1,826.18 M367.2,1099.44 L367.2,805.54 M443.3,1078.8 L443.3,784.9 M62.79,888.1 L443.3,784.9 M443.3,784.9 L736.07,919.5 M62.79,944.94 L443.3,841.74 M443.3,841.74 L736.07,976.34 M62.79,1001.78 L443.3,898.58 M443.3,898.58 L736.07,1033.18 M62.79,1058.62 L443.3,955.42 M443.3,955.42 L736.07,1090.02 M62.79,1115.46 L443.3,1012.26 M443.3,1012.26 L736.07,1146.86 M62.79,1172.3 L443.3,1069.1 M443.3,1069.1 L736.07,1203.7 M589.69,1146.1 L589.69,852.2 M736.07,1213.4 L736.07,919.5 M138.89,1161.36 L431.66,1295.96 M214.99,1140.72 L507.76,1275.32 M291.1,1120.08 L583.87,1254.68 M367.2,1099.44 L659.97,1234.04 M443.3,1078.8 L736.07,1213.4 M62.79,1182 L443.3,1078.8 M209.17,1249.3 L589.69,1146.1"/>
<path class="sf" d="M62.79,904.79 L67.75,907.71 L72.71,910.65 L77.67,913.63 L82.63,916.63 L87.6,919.66 L92.56,922.73 L97.52,925.83 L102.48,928.97 L107.45,932.14 L112.41,935.36 L117.37,938.61 L122.33,941.91 L127.29,945.26 L132.26,948.65 L137.22,952.1 L142.18,955.6 L147.14,959.16 L152.11,962.77 L157.07,966.46 L162.03,970.21 L166.99,974.03 L171.95,977.93 L176.92,981.92 L181.88,985.98 L186.84,990.14 L191.8,994.4 L196.76,998.77 L201.73,1003.24 L206.69,1007.83 L211.65,1012.55 L216.61,1017.41 L221.58,1022.41 L226.54,1027.57 L231.5,1032.89 L236.46,1038.4 L241.42,1044.1 L246.39,1050.01 L251.35,1056.14 L256.31,1062.52 L261.27,1069.16 L266.24,1076.1 L271.2,1083.34 L276.16,1090.92 L281.12,1098.88 L286.08,1107.23 L291.05,1116.04 L296.01,1125.32 L300.97,1135.15 L305.93,1145.56 L310.9,1156.62 L315.86,1168.41 L320.82,1181 L325.78,1194.48 L330.74,1208.96 L335.71,1224.56 L340.67,1241.42 L345.63,1259.69 L350.59,1279.58 L355.56,1301.3 L355.56,1301.3 L362.01,1299.83 L368.45,1298.2 L374.9,1296.54 L381.35,1294.86 L387.8,1293.18 L394.25,1291.49 L400.7,1289.8 L407.15,1288.1 L413.6,1286.4 L420.05,1284.7 L426.5,1282.99 L432.95,1281.28 L439.4,1279.57 L445.85,1277.86 L452.3,1276.15 L458.75,1274.44 L465.2,1272.72 L471.65,1271.01 L478.1,1269.29 L484.54,1267.57 L490.99,1265.86 L497.44,1264.14 L503.89,1262.42 L510.34,1260.7 L516.79,1258.98 L523.24,1257.25 L529.69,1255.53 L536.14,1253.81 L542.59,1252.09 L549.04,1250.37 L555.49,1248.64 L561.94,1246.92 L568.39,1245.19 L574.84,1243.47 L581.29,1241.74 L587.74,1240.02 L594.19,1238.29 L600.63,1236.57 L607.08,1234.84 L613.53,1233.11 L619.98,1231.39 L626.43,1229.66 L632.88,1227.93 L639.33,1226.2 L645.78,1224.48 L652.23,1222.75 L658.68,1221.02 L665.13,1219.29 L671.58,1217.56 L678.03,1215.83 L684.48,1214.1 L690.93,1212.37 L697.38,1210.64 L703.83,1208.91 L710.28,1207.18 L716.72,1205.45 L723.17,1203.72 L729.62,1201.99 L736.07,1200.26 L736.07,1200.26 L731.11,1178.34 L726.15,1158.27 L721.19,1139.83 L716.22,1122.83 L711.26,1107.11 L706.3,1092.52 L701.34,1078.93 L696.38,1066.26 L691.41,1054.39 L686.45,1043.25 L681.49,1032.77 L676.53,1022.89 L671.56,1013.55 L666.6,1004.7 L661.64,996.3 L656.68,988.3 L651.72,980.68 L646.75,973.4 L641.79,966.44 L636.83,959.77 L631.87,953.36 L626.9,947.2 L621.94,941.27 L616.98,935.55 L612.02,930.02 L607.06,924.68 L602.09,919.5 L597.13,914.49 L592.17,909.62 L587.21,904.88 L582.24,900.28 L577.28,895.79 L572.32,891.42 L567.36,887.15 L562.4,882.98 L557.43,878.9 L552.47,874.91 L547.51,871 L542.55,867.17 L537.58,863.41 L532.62,859.72 L527.66,856.09 L522.7,852.53 L517.74,849.02 L512.77,845.57 L507.81,842.17 L502.85,838.82 L497.89,835.52 L492.92,832.26 L487.96,829.04 L483,825.86 L478.04,822.72 L473.08,819.61 L468.11,816.54 L463.15,813.51 L458.19,810.5 L453.23,807.52 L448.27,804.57 L443.3,801.65 L443.3,801.65 L436.85,803.4 L430.4,805.15 L423.95,806.9 L417.51,808.65 L411.06,810.39 L404.61,812.14 L398.16,813.89 L391.71,815.64 L385.26,817.39 L378.81,819.14 L372.36,820.89 L365.91,822.63 L359.46,824.38 L353.01,826.13 L346.56,827.88 L340.11,829.63 L333.66,831.38 L327.21,833.13 L320.76,834.87 L314.31,836.62 L307.86,838.37 L301.42,840.12 L294.97,841.87 L288.52,843.62 L282.07,845.36 L275.62,847.11 L269.17,848.86 L262.72,850.61 L256.27,852.36 L249.82,854.11 L243.37,855.86 L236.92,857.6 L230.47,859.35 L224.02,861.1 L217.57,862.85 L211.12,864.6 L204.67,866.34 L198.22,868.09 L191.77,869.84 L185.32,871.59 L178.88,873.34 L172.43,875.09 L165.98,876.83 L159.53,878.58 L153.08,880.33 L146.63,882.08 L140.18,883.83 L133.73,885.57 L127.28,887.32 L120.83,889.07 L114.38,890.82 L107.93,892.56 L101.48,894.31 L95.03,896.06 L88.58,897.81 L82.13,899.55 L75.68,901.3 L69.23,903.05 L62.79,904.79 Z"/>
<path class="mx" stroke="#00008f" d="M355.56,1301.3L736.07,1200.26"/>
<path class="mx" stroke="#0000cf" d="M440.89,1256.04L731.11,1178.34"/>
<path class="mx" stroke="#0000df" d="M350.59,1279.58L440.89,1256.04"/>
<path class="mx" stroke="#0020ff" d="M345.63,1259.69L726.15,1158.27"/>
<path class="mx" stroke="#0050ff" d="M695.39,1146.77L721.19,1139.83"/>
<path class="mx" stroke="#0060ff" d="M340.67,1241.42L695.39,1146.77"/>
<path class="mx" stroke="#008fff" d="M335.71,1224.56L716.22,1122.83"/>
<path class="mx" stroke="#00bfff" d="M395.24,1192.02L711.26,1107.11"/>
<path class="mx" stroke="#00cfff" d="M330.74,1208.96L395.24,1192.02"/>
<path class="mx" stroke="#00efff" d="M358.03,1186.09L706.3,1092.52"/>
<path class="mx" stroke="#00ffff" d="M325.78,1194.48L358.03,1186.09"/>
<path class="mx" stroke="#20ffdf" d="M320.82,1181L701.34,1078.93"/>
<path class="mx" stroke="#50ffaf" d="M315.86,1168.41L696.38,1066.26"/>
<path class="mx" stroke="#70ff8f" d="M310.9,1156.62L691.41,1054.39"/>
<path class="mx" stroke="#8fff70" d="M305.93,1145.56L686.45,1043.25"/>
<path class="mx" stroke="#afff50" d="M300.97,1135.15L681.49,1032.77"/>
<path class="mx" stroke="#cfff30" d="M296.01,1125.32L676.53,1022.89"/>
<path class="mx" stroke="#efff10" d="M291.05,1116.04L671.56,1013.55"/>
<path class="mx" stroke="#ffff00" d="M286.08,1107.23L666.6,1004.7"/>
<path class="mx" stroke="#ffdf00" d="M281.12,1098.88L661.64,996.3"/>
<path class="mx" stroke="#ffcf00" d="M276.16,1090.92L656.68,988.3"/>
<path class="mx" stroke="#ffbf00" d="M271.2,1083.34L651.72,980.68"/>
<path class="mx" stroke="#ff9f00" d="M266.24,1076.1L646.75,973.4"/>
<path class="mx" stroke="#ff8f00" d="M261.27,1069.16L641.79,966.44"/>
<path class="mx" stroke="#ff8000" d="M256.31,1062.52L636.83,959.77"/>
<path class="mx" stroke="#ff7000" d="M251.35,1056.14L631.87,953.36"/>
<path class="mx" stroke="#ff6000" d="M246.39,1050.01L626.9,947.2"/>
<path class="mx" stroke="#ff5000" d="M236.46,1038.4L616.98,935.55M241.42,1044.1L621.94,941.27"/>
<path class="mx" stroke="#ff4000" d="M231.5,1032.89L612.02,930.02"/>
<path class="mx" stroke="#ff3000" d="M226.54,1027.57L607.06,924.68"/>
<path class="mx" stroke="#ff2000" d="M216.61,1017.41L597.13,914.49M221.58,1022.41L602.09,919.5"/>
<path class="mx" stroke="#ff1000" d="M580.76,906.63L587.21,904.88M211.65,1012.55L592.17,909.62"/>
<path class="mx" stroke="#ff0000" d="M201.73,1003.24L582.24,900.28M206.69,1007.83L580.76,906.63"/>
<path class="mx" stroke="#ef0000" d="M191.8,994.4L572.32,891.42M196.76,998.77L577.28,895.79"/>
<path class="mx" stroke="#df0000" d="M280.11,954.03L557.43,878.9M181.88,985.98L562.4,882.98M186.84,990.14L567.36,887.15"/>
<path class="mx" stroke="#cf0000" d="M166.99,974.03L547.51,871M171.95,977.93L552.47,874.91M176.92,981.92L280.11,954.03"/>
<path class="mx" stroke="#bf0000" d="M152.11,962.77L532.62,859.72M157.07,966.46L537.58,863.41M162.03,970.21L542.55,867.17"/>
<path class="mx" stroke="#af0000" d="M137.22,952.1L517.74,849.02M142.18,955.6L522.7,852.53M147.14,959.16L527.66,856.09"/>
<path class="mx" stroke="#9f0000" d="M117.37,938.61L497.89,835.52M122.33,941.91L502.85,838.82M127.29,945.26L507.81,842.17M132.26,948.65L512.77,845.57"/>
<path class="mx" stroke="#8f0000" d="M92.56,922.73L473.08,819.61M97.52,925.83L478.04,822.72M102.48,928.97L483,825.86M107.45,932.14L487.96,829.04M112.41,935.36L492.92,832.26"/>
<path class="mx" stroke="#800000" d="M62.79,904.79L443.3,801.65M67.75,907.71L448.27,804.57M72.71,910.65L453.23,807.52M77.67,913.63L458.19,810.5M82.63,916.63L463.15,813.51M87.6,919.66L468.11,816.54"/>
<path class="mt" stroke="#00008f" d="M350.59,1279.58L355.56,1301.3M357.04,1278.09L362.01,1299.83M363.49,1276.44L368.45,1298.2M369.94,1274.77L374.9,1296.54M376.39,1273.09L381.35,1294.86M382.84,1271.4L387.8,1293.18M389.29,1269.71L394.25,1291.49M395.74,1268.01L400.7,1289.8M402.19,1266.31L407.15,1288.1M408.64,1264.6L413.6,1286.4M415.09,1262.89L420.05,1284.7M421.54,1261.18L426.5,1282.99M427.99,1259.47L432.95,1281.28M434.44,1257.76L439.4,1279.57M440.89,1256.04L445.85,1277.86M447.34,1254.33L452.3,1276.15M453.78,1252.61L458.75,1274.44M460.23,1250.89L465.2,1272.72M466.68,1249.17L471.65,1271.01M473.13,1247.45L478.1,1269.29M479.58,1245.73L484.54,1267.57M486.03,1244.01L490.99,1265.86M492.48,1242.29L497.44,1264.14M498.93,1240.57L503.89,1262.42M505.38,1238.85L510.34,1260.7M511.83,1237.12L516.79,1258.98M518.28,1235.4L523.24,1257.25M524.73,1233.67L529.69,1255.53M531.18,1231.95L536.14,1253.81M537.63,1230.22L542.59,1252.09M544.08,1228.5L549.04,1250.37M550.53,1226.77L555.49,1248.64M556.98,1225.05L561.94,1246.92M563.43,1223.32L568.39,1245.19M569.87,1221.59L574.84,1243.47M576.32,1219.87L581.29,1241.74M582.77,1218.14L587.74,1240.02M589.22,1216.41L594.19,1238.29M595.67,1214.68L600.63,1236.57M602.12,1212.95L607.08,1234.84M608.57,1211.22L613.53,1233.11M615.02,1209.49L619.98,1231.39M621.47,1207.77L626.43,1229.66M627.92,1206.04L632.88,1227.93M634.37,1204.31L639.33,1226.2M640.82,1202.58L645.78,1224.48M647.27,1200.85L652.23,1222.75M653.72,1199.12L658.68,1221.02M660.17,1197.38L665.13,1219.29M666.62,1195.65L671.58,1217.56M673.07,1193.92L678.03,1215.83M679.52,1192.19L684.48,1214.1M685.96,1190.46L690.93,1212.37M692.41,1188.73L697.38,1210.64M698.86,1187L703.83,1208.91M705.31,1185.27L710.28,1207.18M711.76,1183.53L716.72,1205.45M718.21,1181.8L723.17,1203.72M724.66,1180.07L729.62,1201.99M731.11,1178.34L736.07,1200.26"/>
<path class="mt" stroke="#0000cf" d="M442.37,1234.35L447.34,1254.33M448.82,1232.63L453.78,1252.61M455.27,1230.91L460.23,1250.89M461.72,1229.19L466.68,1249.17M468.17,1227.46L473.13,1247.45M474.62,1225.74L479.58,1245.73M481.07,1224.02L486.03,1244.01M487.52,1222.29L492.48,1242.29M493.97,1220.57L498.93,1240.57M500.42,1218.84L505.38,1238.85M506.87,1217.12L511.83,1237.12M513.32,1215.39L518.28,1235.4M519.77,1213.66L524.73,1233.67M526.22,1211.94L531.18,1231.95M532.67,1210.21L537.63,1230.22M539.11,1208.48L544.08,1228.5M545.56,1206.75L550.53,1226.77M552.01,1205.03L556.98,1225.05M558.46,1203.3L563.43,1223.32M564.91,1201.57L569.87,1221.59M571.36,1199.84L576.32,1219.87M577.81,1198.11L582.77,1218.14M584.26,1196.38L589.22,1216.41M590.71,1194.65L595.67,1214.68M597.16,1192.92L602.12,1212.95M603.61,1191.19L608.57,1211.22M610.06,1189.46L615.02,1209.49M616.51,1187.72L621.47,1207.77M622.96,1185.99L627.92,1206.04M629.41,1184.26L634.37,1204.31M635.86,1182.53L640.82,1202.58M642.31,1180.8L647.27,1200.85M648.76,1179.07L653.72,1199.12M655.2,1177.33L660.17,1197.38M661.65,1175.6L666.62,1195.65M668.1,1173.87L673.07,1193.92M674.55,1172.14L679.52,1192.19M681,1170.4L685.96,1190.46M687.45,1168.67L692.41,1188.73M693.9,1166.94L698.86,1187M700.35,1165.2L705.31,1185.27M706.8,1163.47L711.76,1183.53M713.25,1161.74L718.21,1181.8M719.7,1160L724.66,1180.07M726.15,1158.27L731.11,1178.34"/>
<path class="mt" stroke="#0000df" d="M345.63,1259.69L350.59,1279.58M352.08,1258.17L357.04,1278.09M358.53,1256.52L363.49,1276.44M364.98,1254.84L369.94,1274.77M371.43,1253.16L376.39,1273.09M377.88,1251.46L382.84,1271.4M384.33,1249.76L389.29,1269.71M390.78,1248.06L395.74,1268.01M397.23,1246.35L402.19,1266.31M403.68,1244.64L408.64,1264.6M410.13,1242.93L415.09,1262.89M416.58,1241.22L421.54,1261.18M423.02,1239.5L427.99,1259.47M429.47,1237.78L434.44,1257.76M435.92,1236.07L440.89,1256.04"/>
<path class="mt" stroke="#0020ff" d="M340.67,1241.42L345.63,1259.69M347.12,1239.88L352.08,1258.17M353.57,1238.21L358.53,1256.52M360.02,1236.53L364.98,1254.84M366.47,1234.84L371.43,1253.16M372.92,1233.14L377.88,1251.46M379.37,1231.43L384.33,1249.76M385.82,1229.73L390.78,1248.06M392.26,1228.02L397.23,1246.35M398.71,1226.3L403.68,1244.64M405.16,1224.59L410.13,1242.93M411.61,1222.87L416.58,1241.22M418.06,1221.15L423.02,1239.5M424.51,1219.43L429.47,1237.78M430.96,1217.71L435.92,1236.07M437.41,1215.99L442.37,1234.35M443.86,1214.27L448.82,1232.63M450.31,1212.54L455.27,1230.91M456.76,1210.82L461.72,1229.19M463.21,1209.1L468.17,1227.46M469.66,1207.37L474.62,1225.74M476.11,1205.64L481.07,1224.02M482.56,1203.92L487.52,1222.29M489.01,1202.19L493.97,1220.57M495.46,1200.46L500.42,1218.84M501.91,1198.74L506.87,1217.12M508.35,1197.01L513.32,1215.39M514.8,1195.28L519.77,1213.66M521.25,1193.55L526.22,1211.94M527.7,1191.82L532.67,1210.21M534.15,1190.09L539.11,1208.48M540.6,1188.36L545.56,1206.75M547.05,1186.63L552.01,1205.03M553.5,1184.9L558.46,1203.3M559.95,1183.17L564.91,1201.57M566.4,1181.44L571.36,1199.84M572.85,1179.71L577.81,1198.11M579.3,1177.97L584.26,1196.38M585.75,1176.24L590.71,1194.65M592.2,1174.51L597.16,1192.92M598.65,1172.78L603.61,1191.19M605.1,1171.04L610.06,1189.46M611.55,1169.31L616.51,1187.72M618,1167.58L622.96,1185.99M624.44,1165.85L629.41,1184.26M630.89,1164.11L635.86,1182.53M637.34,1162.38L642.31,1180.8M643.79,1160.65L648.76,1179.07M650.24,1158.91L655.2,1177.33M656.69,1157.18L661.65,1175.6M663.14,1155.44L668.1,1173.87M669.59,1153.71L674.55,1172.14M676.04,1151.97L681,1170.4M682.49,1150.24L687.45,1168.67M688.94,1148.51L693.9,1166.94M695.39,1146.77L700.35,1165.2M701.84,1145.04L706.8,1163.47M708.29,1143.3L713.25,1161.74M714.74,1141.57L719.7,1160M721.19,1139.83L726.15,1158.27"/>
<path class="mt" stroke="#0050ff" d="M696.88,1128.04L701.84,1145.04M703.33,1126.3L708.29,1143.3M709.77,1124.57L714.74,1141.57M716.22,1122.83L721.19,1139.83"/>
<path class="mt" stroke="#0060ff" d="M335.71,1224.56L340.67,1241.42M342.16,1223L347.12,1239.88M348.61,1221.33L353.57,1238.21M355.06,1219.64L360.02,1236.53M361.5,1217.94L366.47,1234.84M367.95,1216.24L372.92,1233.14M374.4,1214.53L379.37,1231.43M380.85,1212.82L385.82,1229.73M387.3,1211.11L392.26,1228.02M393.75,1209.39L398.71,1226.3M400.2,1207.67L405.16,1224.59M406.65,1205.95L411.61,1222.87M413.1,1204.23L418.06,1221.15M419.55,1202.51L424.51,1219.43M426,1200.79L430.96,1217.71M432.45,1199.06L437.41,1215.99M438.9,1197.34L443.86,1214.27M445.35,1195.61L450.31,1212.54M451.8,1193.89L456.76,1210.82M458.25,1192.16L463.21,1209.1M464.7,1190.43L469.66,1207.37M471.15,1188.7L476.11,1205.64M477.59,1186.97L482.56,1203.92M484.04,1185.25L489.01,1202.19M490.49,1183.52L495.46,1200.46M496.94,1181.79L501.91,1198.74M503.39,1180.06L508.35,1197.01M509.84,1178.33L514.8,1195.28M516.29,1176.6L521.25,1193.55M522.74,1174.86L527.7,1191.82M529.19,1173.13L534.15,1190.09M535.64,1171.4L540.6,1188.36M542.09,1169.67L547.05,1186.63M548.54,1167.94L553.5,1184.9M554.99,1166.2L559.95,1183.17M561.44,1164.47L566.4,1181.44M567.89,1162.74L572.85,1179.71M574.34,1161L579.3,1177.97M580.79,1159.27L585.75,1176.24M587.24,1157.54L592.2,1174.51M593.68,1155.8L598.65,1172.78M600.13,1154.07L605.1,1171.04M606.58,1152.34L611.55,1169.31M613.03,1150.6L618,1167.58M619.48,1148.87L624.44,1165.85M625.93,1147.13L630.89,1164.11M632.38,1145.4L637.34,1162.38M638.83,1143.66L643.79,1160.65M645.28,1141.93L650.24,1158.91M651.73,1140.19L656.69,1157.18M658.18,1138.46L663.14,1155.44M664.63,1136.72L669.59,1153.71M671.08,1134.98L676.04,1151.97M677.53,1133.25L682.49,1150.24M683.98,1131.51L688.94,1148.51M690.43,1129.78L695.39,1146.77"/>
<path class="mt" stroke="#008fff" d="M330.74,1208.96L335.71,1224.56M337.19,1207.39L342.16,1223M343.64,1205.71L348.61,1221.33M350.09,1204.02L355.06,1219.64M356.54,1202.31L361.5,1217.94M362.99,1200.61L367.95,1216.24M369.44,1198.89L374.4,1214.53M375.89,1197.18L380.85,1212.82M382.34,1195.46L387.3,1211.11M388.79,1193.74L393.75,1209.39M395.24,1192.02L400.2,1207.67M401.69,1190.3L406.65,1205.95M408.14,1188.58L413.1,1204.23M414.59,1186.85L419.55,1202.51M421.04,1185.13L426,1200.79M427.49,1183.4L432.45,1199.06M433.94,1181.67L438.9,1197.34M440.39,1179.95L445.35,1195.61M446.83,1178.22L451.8,1193.89M453.28,1176.49L458.25,1192.16M459.73,1174.76L464.7,1190.43M466.18,1173.03L471.15,1188.7M472.63,1171.3L477.59,1186.97M479.08,1169.57L484.04,1185.25M485.53,1167.84L490.49,1183.52M491.98,1166.11L496.94,1181.79M498.43,1164.37L503.39,1180.06M504.88,1162.64L509.84,1178.33M511.33,1160.91L516.29,1176.6M517.78,1159.18L522.74,1174.86M524.23,1157.44L529.19,1173.13M530.68,1155.71L535.64,1171.4M537.13,1153.98L542.09,1169.67M543.58,1152.24L548.54,1167.94M550.03,1150.51L554.99,1166.2M556.48,1148.78L561.44,1164.47M562.92,1147.04L567.89,1162.74M569.37,1145.31L574.34,1161M575.82,1143.57L580.79,1159.27M582.27,1141.84L587.24,1157.54M588.72,1140.1L593.68,1155.8M595.17,1138.37L600.13,1154.07M601.62,1136.63L606.58,1152.34M608.07,1134.9L613.03,1150.6M614.52,1133.16L619.48,1148.87M620.97,1131.42L625.93,1147.13M627.42,1129.69L632.38,1145.4M633.87,1127.95L638.83,1143.66M640.32,1126.22L645.28,1141.93M646.77,1124.48L651.73,1140.19M653.22,1122.74L658.18,1138.46M659.67,1121.01L664.63,1136.72M666.12,1119.27L671.08,1134.98M672.57,1117.53L677.53,1133.25M679.01,1115.79L683.98,1131.51M685.46,1114.06L690.43,1129.78M691.91,1112.32L696.88,1128.04M698.36,1110.58L703.33,1126.3M704.81,1108.84L709.77,1124.57M711.26,1107.11L716.22,1122.83"/>
<path class="mt" stroke="#00bfff" d="M396.73,1175.77L401.69,1190.3M403.18,1174.05L408.14,1188.58M409.63,1172.32L414.59,1186.85M416.07,1170.59L421.04,1185.13M422.52,1168.86L427.49,1183.4M428.97,1167.14L433.94,1181.67M435.42,1165.41L440.39,1179.95M441.87,1163.68L446.83,1178.22M448.32,1161.95L453.28,1176.49M454.77,1160.22L459.73,1174.76M461.22,1158.48L466.18,1173.03M467.67,1156.75L472.63,1171.3M474.12,1155.02L479.08,1169.57M480.57,1153.29L485.53,1167.84M487.02,1151.55L491.98,1166.11M493.47,1149.82L498.43,1164.37M499.92,1148.09L504.88,1162.64M506.37,1146.35L511.33,1160.91M512.82,1144.62L517.78,1159.18M519.27,1142.89L524.23,1157.44M525.72,1141.15L530.68,1155.71M532.16,1139.42L537.13,1153.98M538.61,1137.68L543.58,1152.24M545.06,1135.95L550.03,1150.51M551.51,1134.21L556.48,1148.78M557.96,1132.47L562.92,1147.04M564.41,1130.74L569.37,1145.31M570.86,1129L575.82,1143.57M577.31,1127.27L582.27,1141.84M583.76,1125.53L588.72,1140.1M590.21,1123.79L595.17,1138.37M596.66,1122.06L601.62,1136.63M603.11,1120.32L608.07,1134.9M609.56,1118.58L614.52,1133.16M616.01,1116.85L620.97,1131.42M622.46,1115.11L627.42,1129.69M628.91,1113.37L633.87,1127.95M635.36,1111.63L640.32,1126.22M641.81,1109.9L646.77,1124.48M648.25,1108.16L653.22,1122.74M654.7,1106.42L659.67,1121.01M661.15,1104.68L666.12,1119.27M667.6,1102.95L672.57,1117.53M674.05,1101.21L679.01,1115.79M680.5,1099.47L685.46,1114.06M686.95,1097.73L691.91,1112.32M693.4,1095.99L698.36,1110.58M699.85,1094.25L704.81,1108.84M706.3,1092.52L711.26,1107.11"/>
<path class="mt" stroke="#00cfff" d="M325.78,1194.48L330.74,1208.96M332.23,1192.89L337.19,1207.39M338.68,1191.21L343.64,1205.71M345.13,1189.51L350.09,1204.02M351.58,1187.8L356.54,1202.31M358.03,1186.09L362.99,1200.61M364.48,1184.38L369.44,1198.89M370.93,1182.66L375.89,1197.18M377.38,1180.94L382.34,1195.46M383.83,1179.22L388.79,1193.74M390.28,1177.5L395.24,1192.02"/>
<path class="mt" stroke="#00efff" d="M359.52,1170.87L364.48,1184.38M365.97,1169.14L370.93,1182.66M372.42,1167.42L377.38,1180.94M378.87,1165.7L383.83,1179.22M385.31,1163.97L390.28,1177.5M391.76,1162.25L396.73,1175.77M398.21,1160.52L403.18,1174.05M404.66,1158.79L409.63,1172.32M411.11,1157.06L416.07,1170.59M417.56,1155.33L422.52,1168.86M424.01,1153.6L428.97,1167.14M430.46,1151.87L435.42,1165.41M436.91,1150.14L441.87,1163.68M443.36,1148.41L448.32,1161.95M449.81,1146.68L454.77,1160.22M456.26,1144.94L461.22,1158.48M462.71,1143.21L467.67,1156.75M469.16,1141.48L474.12,1155.02M475.61,1139.74L480.57,1153.29M482.06,1138.01L487.02,1151.55M488.51,1136.27L493.47,1149.82M494.96,1134.54L499.92,1148.09M501.4,1132.8L506.37,1146.35M507.85,1131.07L512.82,1144.62M514.3,1129.33L519.27,1142.89M520.75,1127.6L525.72,1141.15M527.2,1125.86L532.16,1139.42M533.65,1124.13L538.61,1137.68M540.1,1122.39L545.06,1135.95M546.55,1120.65L551.51,1134.21M553,1118.92L557.96,1132.47M559.45,1117.18L564.41,1130.74M565.9,1115.44L570.86,1129M572.35,1113.7L577.31,1127.27M578.8,1111.97L583.76,1125.53M585.25,1110.23L590.21,1123.79M591.7,1108.49L596.66,1122.06M598.15,1106.75L603.11,1120.32M604.6,1105.02L609.56,1118.58M611.05,1103.28L616.01,1116.85M617.49,1101.54L622.46,1115.11M623.94,1099.8L628.91,1113.37M630.39,1098.06L635.36,1111.63M636.84,1096.32L641.81,1109.9M643.29,1094.59L648.25,1108.16M649.74,1092.85L654.7,1106.42M656.19,1091.11L661.15,1104.68M662.64,1089.37L667.6,1102.95M669.09,1087.63L674.05,1101.21M675.54,1085.89L680.5,1099.47M681.99,1084.15L686.95,1097.73M688.44,1082.41L693.4,1095.99M694.89,1080.67L699.85,1094.25M701.34,1078.93L706.3,1092.52"/>
<path class="mt" stroke="#00ffff" d="M320.82,1181L325.78,1194.48M327.27,1179.4L332.23,1192.89M333.72,1177.71L338.68,1191.21M340.17,1176.01L345.13,1189.51M346.62,1174.3L351.58,1187.8M353.07,1172.58L358.03,1186.09"/>
<path class="mt" stroke="#20ffdf" d="M315.86,1168.41L320.82,1181M322.31,1166.8L327.27,1179.4M328.76,1165.1L333.72,1177.71M335.21,1163.4L340.17,1176.01M341.66,1161.69L346.62,1174.3M348.11,1159.97L353.07,1172.58M354.55,1158.25L359.52,1170.87M361,1156.53L365.97,1169.14M367.45,1154.8L372.42,1167.42M373.9,1153.08L378.87,1165.7M380.35,1151.35L385.31,1163.97M386.8,1149.62L391.76,1162.25M393.25,1147.89L398.21,1160.52M399.7,1146.16L404.66,1158.79M406.15,1144.43L411.11,1157.06M412.6,1142.7L417.56,1155.33M419.05,1140.97L424.01,1153.6M425.5,1139.24L430.46,1151.87M431.95,1137.5L436.91,1150.14M438.4,1135.77L443.36,1148.41M444.85,1134.04L449.81,1146.68M451.3,1132.3L456.26,1144.94M457.75,1130.57L462.71,1143.21M464.2,1128.83L469.16,1141.48M470.64,1127.1L475.61,1139.74M477.09,1125.36L482.06,1138.01M483.54,1123.63L488.51,1136.27M489.99,1121.89L494.96,1134.54M496.44,1120.15L501.4,1132.8M502.89,1118.42L507.85,1131.07M509.34,1116.68L514.3,1129.33M515.79,1114.94L520.75,1127.6M522.24,1113.21L527.2,1125.86M528.69,1111.47L533.65,1124.13M535.14,1109.73L540.1,1122.39M541.59,1108L546.55,1120.65M548.04,1106.26L553,1118.92M554.49,1104.52L559.45,1117.18M560.94,1102.78L565.9,1115.44M567.39,1101.04L572.35,1113.7M573.84,1099.31L578.8,1111.97M580.29,1097.57L585.25,1110.23M586.73,1095.83L591.7,1108.49M593.18,1094.09L598.15,1106.75M599.63,1092.35L604.6,1105.02M606.08,1090.61L611.05,1103.28M612.53,1088.87L617.49,1101.54M618.98,1087.13L623.94,1099.8M625.43,1085.39L630.39,1098.06M631.88,1083.65L636.84,1096.32M638.33,1081.92L643.29,1094.59M644.78,1080.18L649.74,1092.85M651.23,1078.44L656.19,1091.11M657.68,1076.7L662.64,1089.37M664.13,1074.96L669.09,1087.63M670.58,1073.22L675.54,1085.89M677.03,1071.48L681.99,1084.15M683.48,1069.74L688.44,1082.41M689.93,1068L694.89,1080.67M696.38,1066.26L701.34,1078.93"/>
<path class="mt" stroke="#50ffaf" d="M310.9,1156.62L315.86,1168.41M317.35,1155L322.31,1166.8M323.79,1153.3L328.76,1165.1M330.24,1151.59L335.21,1163.4M336.69,1149.88L341.66,1161.69M343.14,1148.16L348.11,1159.97M349.59,1146.44L354.55,1158.25M356.04,1144.71L361,1156.53M362.49,1142.99L367.45,1154.8M368.94,1141.26L373.9,1153.08M375.39,1139.53L380.35,1151.35M381.84,1137.8L386.8,1149.62M388.29,1136.07L393.25,1147.89M394.74,1134.34L399.7,1146.16M401.19,1132.61L406.15,1144.43M407.64,1130.87L412.6,1142.7M414.09,1129.14L419.05,1140.97M420.54,1127.41L425.5,1139.24M426.99,1125.67L431.95,1137.5M433.44,1123.94L438.4,1135.77M439.88,1122.2L444.85,1134.04M446.33,1120.47L451.3,1132.3M452.78,1118.73L457.75,1130.57M459.23,1117L464.2,1128.83M465.68,1115.26L470.64,1127.1M472.13,1113.52L477.09,1125.36M478.58,1111.79L483.54,1123.63M485.03,1110.05L489.99,1121.89M491.48,1108.31L496.44,1120.15M497.93,1106.58L502.89,1118.42M504.38,1104.84L509.34,1116.68M510.83,1103.1L515.79,1114.94M517.28,1101.36L522.24,1113.21M523.73,1099.62L528.69,1111.47M530.18,1097.89L535.14,1109.73M536.63,1096.15L541.59,1108M543.08,1094.41L548.04,1106.26M549.53,1092.67L554.49,1104.52M555.97,1090.93L560.94,1102.78M562.42,1089.19L567.39,1101.04M568.87,1087.45L573.84,1099.31M575.32,1085.71L580.29,1097.57M581.77,1083.97L586.73,1095.83M588.22,1082.23L593.18,1094.09M594.67,1080.49L599.63,1092.35M601.12,1078.76L606.08,1090.61M607.57,1077.02L612.53,1088.87M614.02,1075.28L618.98,1087.13M620.47,1073.54L625.43,1085.39M626.92,1071.8L631.88,1083.65M633.37,1070.06L638.33,1081.92M639.82,1068.31L644.78,1080.18M646.27,1066.57L651.23,1078.44M652.72,1064.83L657.68,1076.7M659.17,1063.09L664.13,1074.96M665.62,1061.35L670.58,1073.22M672.06,1059.61L677.03,1071.48M678.51,1057.87L683.48,1069.74M684.96,1056.13L689.93,1068M691.41,1054.39L696.38,1066.26"/>
<path class="mt" stroke="#70ff8f" d="M305.93,1145.56L310.9,1156.62M312.38,1143.93L317.35,1155M318.83,1142.23L323.79,1153.3M325.28,1140.51L330.24,1151.59M331.73,1138.8L336.69,1149.88M338.18,1137.07L343.14,1148.16M344.63,1135.35L349.59,1146.44M351.08,1133.62L356.04,1144.71M357.53,1131.89L362.49,1142.99M363.98,1130.17L368.94,1141.26M370.43,1128.44L375.39,1139.53M376.88,1126.7L381.84,1137.8M383.33,1124.97L388.29,1136.07M389.78,1123.24L394.74,1134.34M396.23,1121.51L401.19,1132.61M402.68,1119.77L407.64,1130.87M409.12,1118.04L414.09,1129.14M415.57,1116.3L420.54,1127.41M422.02,1114.57L426.99,1125.67M428.47,1112.83L433.44,1123.94M434.92,1111.1L439.88,1122.2M441.37,1109.36L446.33,1120.47M447.82,1107.62L452.78,1118.73M454.27,1105.89L459.23,1117M460.72,1104.15L465.68,1115.26M467.17,1102.41L472.13,1113.52M473.62,1100.67L478.58,1111.79M480.07,1098.94L485.03,1110.05M486.52,1097.2L491.48,1108.31M492.97,1095.46L497.93,1106.58M499.42,1093.72L504.38,1104.84M505.87,1091.98L510.83,1103.1M512.32,1090.24L517.28,1101.36M518.77,1088.51L523.73,1099.62M525.21,1086.77L530.18,1097.89M531.66,1085.03L536.63,1096.15M538.11,1083.29L543.08,1094.41M544.56,1081.55L549.53,1092.67M551.01,1079.81L555.97,1090.93M557.46,1078.07L562.42,1089.19M563.91,1076.33L568.87,1087.45M570.36,1074.59L575.32,1085.71M576.81,1072.85L581.77,1083.97M583.26,1071.11L588.22,1082.23M589.71,1069.37L594.67,1080.49M596.16,1067.63L601.12,1078.76M602.61,1065.89L607.57,1077.02M609.06,1064.15L614.02,1075.28M615.51,1062.41L620.47,1073.54M621.96,1060.66L626.92,1071.8M628.41,1058.92L633.37,1070.06M634.86,1057.18L639.82,1068.31M641.3,1055.44L646.27,1066.57M647.75,1053.7L652.72,1064.83M654.2,1051.96L659.17,1063.09M660.65,1050.22L665.62,1061.35M667.1,1048.48L672.06,1059.61M673.55,1046.74L678.51,1057.87M680,1044.99L684.96,1056.13M686.45,1043.25L691.41,1054.39"/>
<path class="mt" stroke="#8fff70" d="M300.97,1135.15L305.93,1145.56M307.42,1133.51L312.38,1143.93M313.87,1131.8L318.83,1142.23M320.32,1130.09L325.28,1140.51M326.77,1128.37L331.73,1138.8M333.22,1126.64L338.18,1137.07M339.67,1124.92L344.63,1135.35M346.12,1123.19L351.08,1133.62M352.57,1121.46L357.53,1131.89M359.02,1119.73L363.98,1130.17M365.47,1118L370.43,1128.44M371.92,1116.26L376.88,1126.7M378.36,1114.53L383.33,1124.97M384.81,1112.8L389.78,1123.24M391.26,1111.06L396.23,1121.51M397.71,1109.33L402.68,1119.77M404.16,1107.59L409.12,1118.04M410.61,1105.85L415.57,1116.3M417.06,1104.12L422.02,1114.57M423.51,1102.38L428.47,1112.83M429.96,1100.65L434.92,1111.1M436.41,1098.91L441.37,1109.36M442.86,1097.17L447.82,1107.62M449.31,1095.43L454.27,1105.89M455.76,1093.69L460.72,1104.15M462.21,1091.96L467.17,1102.41M468.66,1090.22L473.62,1100.67M475.11,1088.48L480.07,1098.94M481.56,1086.74L486.52,1097.2M488.01,1085L492.97,1095.46M494.45,1083.26L499.42,1093.72M500.9,1081.52L505.87,1091.98M507.35,1079.78L512.32,1090.24M513.8,1078.04L518.77,1088.51M520.25,1076.3L525.21,1086.77M526.7,1074.56L531.66,1085.03M533.15,1072.82L538.11,1083.29M539.6,1071.08L544.56,1081.55M546.05,1069.34L551.01,1079.81M552.5,1067.6L557.46,1078.07M558.95,1065.86L563.91,1076.33M565.4,1064.12L570.36,1074.59M571.85,1062.38L576.81,1072.85M578.3,1060.64L583.26,1071.11M584.75,1058.9L589.71,1069.37M591.2,1057.16L596.16,1067.63M597.65,1055.42L602.61,1065.89M604.1,1053.68L609.06,1064.15M610.54,1051.93L615.51,1062.41M616.99,1050.19L621.96,1060.66M623.44,1048.45L628.41,1058.92M629.89,1046.71L634.86,1057.18M636.34,1044.97L641.3,1055.44M642.79,1043.23L647.75,1053.7M649.24,1041.48L654.2,1051.96M655.69,1039.74L660.65,1050.22M662.14,1038L667.1,1048.48M668.59,1036.26L673.55,1046.74M675.04,1034.52L680,1044.99M681.49,1032.77L686.45,1043.25"/>
<path class="mt" stroke="#afff50" d="M296.01,1125.32L300.97,1135.15M302.46,1123.67L307.42,1133.51M308.91,1121.97L313.87,1131.8M315.36,1120.25L320.32,1130.09M321.81,1118.53L326.77,1128.37M328.26,1116.8L333.22,1126.64M334.71,1115.07L339.67,1124.92M341.16,1113.34L346.12,1123.19M347.6,1111.61L352.57,1121.46M354.05,1109.88L359.02,1119.73M360.5,1108.15L365.47,1118M366.95,1106.41L371.92,1116.26M373.4,1104.68L378.36,1114.53M379.85,1102.94L384.81,1112.8M386.3,1101.21L391.26,1111.06M392.75,1099.47L397.71,1109.33M399.2,1097.74L404.16,1107.59M405.65,1096L410.61,1105.85M412.1,1094.26L417.06,1104.12M418.55,1092.53L423.51,1102.38M425,1090.79L429.96,1100.65M431.45,1089.05L436.41,1098.91M437.9,1087.31L442.86,1097.17M444.35,1085.57L449.31,1095.43M450.8,1083.83L455.76,1093.69M457.25,1082.09L462.21,1091.96M463.69,1080.36L468.66,1090.22M470.14,1078.62L475.11,1088.48M476.59,1076.88L481.56,1086.74M483.04,1075.14L488.01,1085M489.49,1073.4L494.45,1083.26M495.94,1071.66L500.9,1081.52M502.39,1069.92L507.35,1079.78M508.84,1068.18L513.8,1078.04M515.29,1066.44L520.25,1076.3M521.74,1064.69L526.7,1074.56M528.19,1062.95L533.15,1072.82M534.64,1061.21L539.6,1071.08M541.09,1059.47L546.05,1069.34M547.54,1057.73L552.5,1067.6M553.99,1055.99L558.95,1065.86M560.44,1054.25L565.4,1064.12M566.89,1052.51L571.85,1062.38M573.34,1050.77L578.3,1060.64M579.78,1049.02L584.75,1058.9M586.23,1047.28L591.2,1057.16M592.68,1045.54L597.65,1055.42M599.13,1043.8L604.1,1053.68M605.58,1042.06L610.54,1051.93M612.03,1040.32L616.99,1050.19M618.48,1038.57L623.44,1048.45M624.93,1036.83L629.89,1046.71M631.38,1035.09L636.34,1044.97M637.83,1033.35L642.79,1043.23M644.28,1031.6L649.24,1041.48M650.73,1029.86L655.69,1039.74M657.18,1028.12L662.14,1038M663.63,1026.38L668.59,1036.26M670.08,1024.63L675.04,1034.52M676.53,1022.89L681.49,1032.77"/>
<path class="mt" stroke="#cfff30" d="M291.05,1116.04L296.01,1125.32M297.5,1114.38L302.46,1123.67M303.95,1112.67L308.91,1121.97M310.4,1110.95L315.36,1120.25M316.84,1109.22L321.81,1118.53M323.29,1107.5L328.26,1116.8M329.74,1105.77L334.71,1115.07M336.19,1104.04L341.16,1113.34M342.64,1102.3L347.6,1111.61M349.09,1100.57L354.05,1109.88M355.54,1098.84L360.5,1108.15M361.99,1097.1L366.95,1106.41M368.44,1095.37L373.4,1104.68M374.89,1093.63L379.85,1102.94M381.34,1091.89L386.3,1101.21M387.79,1090.16L392.75,1099.47M394.24,1088.42L399.2,1097.74M400.69,1086.68L405.65,1096M407.14,1084.94L412.1,1094.26M413.59,1083.21L418.55,1092.53M420.04,1081.47L425,1090.79M426.49,1079.73L431.45,1089.05M432.93,1077.99L437.9,1087.31M439.38,1076.25L444.35,1085.57M445.83,1074.51L450.8,1083.83M452.28,1072.77L457.25,1082.09M458.73,1071.03L463.69,1080.36M465.18,1069.29L470.14,1078.62M471.63,1067.55L476.59,1076.88M478.08,1065.81L483.04,1075.14M484.53,1064.07L489.49,1073.4M490.98,1062.33L495.94,1071.66M497.43,1060.59L502.39,1069.92M503.88,1058.85L508.84,1068.18M510.33,1057.11L515.29,1066.44M516.78,1055.36L521.74,1064.69M523.23,1053.62L528.19,1062.95M529.68,1051.88L534.64,1061.21M536.13,1050.14L541.09,1059.47M542.58,1048.4L547.54,1057.73M549.02,1046.66L553.99,1055.99M555.47,1044.92L560.44,1054.25M561.92,1043.17L566.89,1052.51M568.37,1041.43L573.34,1050.77M574.82,1039.69L579.78,1049.02M581.27,1037.95L586.23,1047.28M587.72,1036.2L592.68,1045.54M594.17,1034.46L599.13,1043.8M600.62,1032.72L605.58,1042.06M607.07,1030.98L612.03,1040.32M613.52,1029.24L618.48,1038.57M619.97,1027.49L624.93,1036.83M626.42,1025.75L631.38,1035.09M632.87,1024.01L637.83,1033.35M639.32,1022.26L644.28,1031.6M645.77,1020.52L650.73,1029.86M652.22,1018.78L657.18,1028.12M658.67,1017.04L663.63,1026.38M665.11,1015.29L670.08,1024.63M671.56,1013.55L676.53,1022.89"/>
<path class="mt" stroke="#efff10" d="M286.08,1107.23L291.05,1116.04M292.53,1105.57L297.5,1114.38M298.98,1103.86L303.95,1112.67M305.43,1102.14L310.4,1110.95M311.88,1100.41L316.84,1109.22M318.33,1098.68L323.29,1107.5M324.78,1096.95L329.74,1105.77M331.23,1095.22L336.19,1104.04M337.68,1093.49L342.64,1102.3M344.13,1091.75L349.09,1100.57M350.58,1090.02L355.54,1098.84M357.03,1088.28L361.99,1097.1M363.48,1086.54L368.44,1095.37M369.93,1084.81L374.89,1093.63M376.38,1083.07L381.34,1091.89M382.83,1081.33L387.79,1090.16M389.28,1079.59L394.24,1088.42M395.73,1077.85L400.69,1086.68M402.17,1076.12L407.14,1084.94M408.62,1074.38L413.59,1083.21M415.07,1072.64L420.04,1081.47M421.52,1070.9L426.49,1079.73M427.97,1069.16L432.93,1077.99M434.42,1067.42L439.38,1076.25M440.87,1065.68L445.83,1074.51M447.32,1063.94L452.28,1072.77M453.77,1062.2L458.73,1071.03M460.22,1060.46L465.18,1069.29M466.67,1058.72L471.63,1067.55M473.12,1056.97L478.08,1065.81M479.57,1055.23L484.53,1064.07M486.02,1053.49L490.98,1062.33M492.47,1051.75L497.43,1060.59M498.92,1050.01L503.88,1058.85M505.37,1048.27L510.33,1057.11M511.82,1046.53L516.78,1055.36M518.26,1044.78L523.23,1053.62M524.71,1043.04L529.68,1051.88M531.16,1041.3L536.13,1050.14M537.61,1039.56L542.58,1048.4M544.06,1037.82L549.02,1046.66M550.51,1036.07L555.47,1044.92M556.96,1034.33L561.92,1043.17M563.41,1032.59L568.37,1041.43M569.86,1030.85L574.82,1039.69M576.31,1029.1L581.27,1037.95M582.76,1027.36L587.72,1036.2M589.21,1025.62L594.17,1034.46M595.66,1023.87L600.62,1032.72M602.11,1022.13L607.07,1030.98M608.56,1020.39L613.52,1029.24M615.01,1018.65L619.97,1027.49M621.46,1016.9L626.42,1025.75M627.91,1015.16L632.87,1024.01M634.35,1013.42L639.32,1022.26M640.8,1011.67L645.77,1020.52M647.25,1009.93L652.22,1018.78M653.7,1008.19L658.67,1017.04M660.15,1006.44L665.11,1015.29M666.6,1004.7L671.56,1013.55"/>
<path class="mt" stroke="#ffff00" d="M281.12,1098.88L286.08,1107.23M287.57,1097.21L292.53,1105.57M294.02,1095.49L298.98,1103.86M300.47,1093.77L305.43,1102.14M306.92,1092.04L311.88,1100.41M313.37,1090.31L318.33,1098.68M319.82,1088.58L324.78,1096.95M326.27,1086.84L331.23,1095.22M332.72,1085.11L337.68,1093.49M339.17,1083.37L344.13,1091.75M345.62,1081.64L350.58,1090.02M352.07,1079.9L357.03,1088.28M358.52,1078.16L363.48,1086.54M364.97,1076.43L369.93,1084.81M371.41,1074.69L376.38,1083.07M377.86,1072.95L382.83,1081.33M384.31,1071.21L389.28,1079.59M390.76,1069.47L395.73,1077.85M397.21,1067.73L402.17,1076.12M403.66,1065.99L408.62,1074.38M410.11,1064.25L415.07,1072.64M416.56,1062.51L421.52,1070.9M423.01,1060.77L427.97,1069.16M429.46,1059.03L434.42,1067.42M435.91,1057.29L440.87,1065.68M442.36,1055.55L447.32,1063.94M448.81,1053.81L453.77,1062.2M455.26,1052.07L460.22,1060.46M461.71,1050.33L466.67,1058.72M468.16,1048.58L473.12,1056.97M474.61,1046.84L479.57,1055.23M481.06,1045.1L486.02,1053.49M487.5,1043.36L492.47,1051.75M493.95,1041.62L498.92,1050.01M500.4,1039.87L505.37,1048.27M506.85,1038.13L511.82,1046.53M513.3,1036.39L518.26,1044.78M519.75,1034.65L524.71,1043.04M526.2,1032.91L531.16,1041.3M532.65,1031.16L537.61,1039.56M539.1,1029.42L544.06,1037.82M545.55,1027.68L550.51,1036.07M552,1025.93L556.96,1034.33M558.45,1024.19L563.41,1032.59M564.9,1022.45L569.86,1030.85M571.35,1020.71L576.31,1029.1M577.8,1018.96L582.76,1027.36M584.25,1017.22L589.21,1025.62M590.7,1015.48L595.66,1023.87M597.15,1013.73L602.11,1022.13M603.59,1011.99L608.56,1020.39M610.04,1010.25L615.01,1018.65M616.49,1008.5L621.46,1016.9M622.94,1006.76L627.91,1015.16M629.39,1005.01L634.35,1013.42M635.84,1003.27L640.8,1011.67M642.29,1001.53L647.25,1009.93M648.74,999.78L653.7,1008.19M655.19,998.04L660.15,1006.44M661.64,996.3L666.6,1004.7"/>
<path class="mt" stroke="#ffdf00" d="M276.16,1090.92L281.12,1098.88M282.61,1089.25L287.57,1097.21M289.06,1087.53L294.02,1095.49M295.51,1085.8L300.47,1093.77M301.96,1084.08L306.92,1092.04M308.41,1082.34L313.37,1090.31M314.86,1080.61L319.82,1088.58M321.31,1078.88L326.27,1086.84M327.76,1077.14L332.72,1085.11M334.21,1075.41L339.17,1083.37M340.65,1073.67L345.62,1081.64M347.1,1071.93L352.07,1079.9M353.55,1070.19L358.52,1078.16M360,1068.45L364.97,1076.43M366.45,1066.72L371.41,1074.69M372.9,1064.98L377.86,1072.95M379.35,1063.24L384.31,1071.21M385.8,1061.5L390.76,1069.47M392.25,1059.76L397.21,1067.73M398.7,1058.02L403.66,1065.99M405.15,1056.28L410.11,1064.25M411.6,1054.53L416.56,1062.51M418.05,1052.79L423.01,1060.77M424.5,1051.05L429.46,1059.03M430.95,1049.31L435.91,1057.29M437.4,1047.57L442.36,1055.55M443.85,1045.83L448.81,1053.81M450.3,1044.09L455.26,1052.07M456.74,1042.34L461.71,1050.33M463.19,1040.6L468.16,1048.58M469.64,1038.86L474.61,1046.84M476.09,1037.12L481.06,1045.1M482.54,1035.38L487.5,1043.36M488.99,1033.63L493.95,1041.62M495.44,1031.89L500.4,1039.87M501.89,1030.15L506.85,1038.13M508.34,1028.4L513.3,1036.39M514.79,1026.66L519.75,1034.65M521.24,1024.92L526.2,1032.91M527.69,1023.18L532.65,1031.16M534.14,1021.43L539.1,1029.42M540.59,1019.69L545.55,1027.68M547.04,1017.95L552,1025.93M553.49,1016.2L558.45,1024.19M559.94,1014.46L564.9,1022.45M566.39,1012.72L571.35,1020.71M572.83,1010.97L577.8,1018.96M579.28,1009.23L584.25,1017.22M585.73,1007.48L590.7,1015.48M592.18,1005.74L597.15,1013.73M598.63,1004L603.59,1011.99M605.08,1002.25L610.04,1010.25M611.53,1000.51L616.49,1008.5M617.98,998.77L622.94,1006.76M624.43,997.02L629.39,1005.01M630.88,995.28L635.84,1003.27M637.33,993.53L642.29,1001.53M643.78,991.79L648.74,999.78M650.23,990.05L655.19,998.04M656.68,988.3L661.64,996.3"/>
<path class="mt" stroke="#ffcf00" d="M271.2,1083.34L276.16,1090.92M277.65,1081.66L282.61,1089.25M284.1,1079.94L289.06,1087.53M290.55,1078.21L295.51,1085.8M297,1076.48L301.96,1084.08M303.45,1074.75L308.41,1082.34M309.89,1073.02L314.86,1080.61M316.34,1071.28L321.31,1078.88M322.79,1069.54L327.76,1077.14M329.24,1067.81L334.21,1075.41M335.69,1066.07L340.65,1073.67M342.14,1064.33L347.1,1071.93M348.59,1062.59L353.55,1070.19M355.04,1060.85L360,1068.45M361.49,1059.11L366.45,1066.72M367.94,1057.37L372.9,1064.98M374.39,1055.63L379.35,1063.24M380.84,1053.89L385.8,1061.5M387.29,1052.15L392.25,1059.76M393.74,1050.41L398.7,1058.02M400.19,1048.67L405.15,1056.28M406.64,1046.93L411.6,1054.53M413.09,1045.19L418.05,1052.79M419.54,1043.45L424.5,1051.05M425.98,1041.7L430.95,1049.31M432.43,1039.96L437.4,1047.57M438.88,1038.22L443.85,1045.83M445.33,1036.48L450.3,1044.09M451.78,1034.74L456.74,1042.34M458.23,1032.99L463.19,1040.6M464.68,1031.25L469.64,1038.86M471.13,1029.51L476.09,1037.12M477.58,1027.76L482.54,1035.38M484.03,1026.02L488.99,1033.63M490.48,1024.28L495.44,1031.89M496.93,1022.54L501.89,1030.15M503.38,1020.79L508.34,1028.4M509.83,1019.05L514.79,1026.66M516.28,1017.31L521.24,1024.92M522.73,1015.56L527.69,1023.18M529.18,1013.82L534.14,1021.43M535.63,1012.08L540.59,1019.69M542.07,1010.33L547.04,1017.95M548.52,1008.59L553.49,1016.2M554.97,1006.84L559.94,1014.46M561.42,1005.1L566.39,1012.72M567.87,1003.36L572.83,1010.97M574.32,1001.61L579.28,1009.23M580.77,999.87L585.73,1007.48M587.22,998.12L592.18,1005.74M593.67,996.38L598.63,1004M600.12,994.64L605.08,1002.25M606.57,992.89L611.53,1000.51M613.02,991.15L617.98,998.77M619.47,989.4L624.43,997.02M625.92,987.66L630.88,995.28M632.37,985.91L637.33,993.53M638.82,984.17L643.78,991.79M645.27,982.43L650.23,990.05M651.72,980.68L656.68,988.3"/>
<path class="mt" stroke="#ffbf00" d="M266.24,1076.1L271.2,1083.34M272.69,1074.41L277.65,1081.66M279.13,1072.69L284.1,1079.94M285.58,1070.96L290.55,1078.21M292.03,1069.23L297,1076.48M298.48,1067.5L303.45,1074.75M304.93,1065.76L309.89,1073.02M311.38,1064.03L316.34,1071.28M317.83,1062.29L322.79,1069.54M324.28,1060.55L329.24,1067.81M330.73,1058.81L335.69,1066.07M337.18,1057.07L342.14,1064.33M343.63,1055.33L348.59,1062.59M350.08,1053.59L355.04,1060.85M356.53,1051.85L361.49,1059.11M362.98,1050.11L367.94,1057.37M369.43,1048.37L374.39,1055.63M375.88,1046.63L380.84,1053.89M382.33,1044.89L387.29,1052.15M388.78,1043.15L393.74,1050.41M395.22,1041.41L400.19,1048.67M401.67,1039.67L406.64,1046.93M408.12,1037.92L413.09,1045.19M414.57,1036.18L419.54,1043.45M421.02,1034.44L425.98,1041.7M427.47,1032.7L432.43,1039.96M433.92,1030.95L438.88,1038.22M440.37,1029.21L445.33,1036.48M446.82,1027.47L451.78,1034.74M453.27,1025.73L458.23,1032.99M459.72,1023.98L464.68,1031.25M466.17,1022.24L471.13,1029.51M472.62,1020.5L477.58,1027.76M479.07,1018.75L484.03,1026.02M485.52,1017.01L490.48,1024.28M491.97,1015.27L496.93,1022.54M498.42,1013.52L503.38,1020.79M504.87,1011.78L509.83,1019.05M511.31,1010.03L516.28,1017.31M517.76,1008.29L522.73,1015.56M524.21,1006.55L529.18,1013.82M530.66,1004.8L535.63,1012.08M537.11,1003.06L542.07,1010.33M543.56,1001.31L548.52,1008.59M550.01,999.57L554.97,1006.84M556.46,997.83L561.42,1005.1M562.91,996.08L567.87,1003.36M569.36,994.34L574.32,1001.61M575.81,992.59L580.77,999.87M582.26,990.85L587.22,998.12M588.71,989.1L593.67,996.38M595.16,987.36L600.12,994.64M601.61,985.62L606.57,992.89M608.06,983.87L613.02,991.15M614.51,982.13L619.47,989.4M620.96,980.38L625.92,987.66M627.4,978.64L632.37,985.91M633.85,976.89L638.82,984.17M640.3,975.15L645.27,982.43M646.75,973.4L651.72,980.68"/>
<path class="mt" stroke="#ff9f00" d="M261.27,1069.16L266.24,1076.1M267.72,1067.48L272.69,1074.41M274.17,1065.75L279.13,1072.69M280.62,1064.02L285.58,1070.96M287.07,1062.29L292.03,1069.23M293.52,1060.56L298.48,1067.5M299.97,1058.82L304.93,1065.76M306.42,1057.08L311.38,1064.03M312.87,1055.35L317.83,1062.29M319.32,1053.61L324.28,1060.55M325.77,1051.87L330.73,1058.81M332.22,1050.13L337.18,1057.07M338.67,1048.39L343.63,1055.33M345.12,1046.65L350.08,1053.59M351.57,1044.91L356.53,1051.85M358.02,1043.17L362.98,1050.11M364.46,1041.43L369.43,1048.37M370.91,1039.68L375.88,1046.63M377.36,1037.94L382.33,1044.89M383.81,1036.2L388.78,1043.15M390.26,1034.46L395.22,1041.41M396.71,1032.72L401.67,1039.67M403.16,1030.97L408.12,1037.92M409.61,1029.23L414.57,1036.18M416.06,1027.49L421.02,1034.44M422.51,1025.74L427.47,1032.7M428.96,1024L433.92,1030.95M435.41,1022.26L440.37,1029.21M441.86,1020.52L446.82,1027.47M448.31,1018.77L453.27,1025.73M454.76,1017.03L459.72,1023.98M461.21,1015.29L466.17,1022.24M467.66,1013.54L472.62,1020.5M474.11,1011.8L479.07,1018.75M480.55,1010.05L485.52,1017.01M487,1008.31L491.97,1015.27M493.45,1006.57L498.42,1013.52M499.9,1004.82L504.87,1011.78M506.35,1003.08L511.31,1010.03M512.8,1001.33L517.76,1008.29M519.25,999.59L524.21,1006.55M525.7,997.85L530.66,1004.8M532.15,996.1L537.11,1003.06M538.6,994.36L543.56,1001.31M545.05,992.61L550.01,999.57M551.5,990.87L556.46,997.83M557.95,989.12L562.91,996.08M564.4,987.38L569.36,994.34M570.85,985.63L575.81,992.59M577.3,983.89L582.26,990.85M583.75,982.14L588.71,989.1M590.2,980.4L595.16,987.36M596.64,978.65L601.61,985.62M603.09,976.91L608.06,983.87M609.54,975.17L614.51,982.13M615.99,973.42L620.96,980.38M622.44,971.68L627.4,978.64M628.89,969.93L633.85,976.89M635.34,968.19L640.3,975.15M641.79,966.44L646.75,973.4"/>
<path class="mt" stroke="#ff8f00" d="M256.31,1062.52L261.27,1069.16M262.76,1060.83L267.72,1067.48M269.21,1059.1L274.17,1065.75M275.66,1057.37L280.62,1064.02M282.11,1055.64L287.07,1062.29M288.56,1053.9L293.52,1060.56M295.01,1052.17L299.97,1058.82M301.46,1050.43L306.42,1057.08M307.91,1048.69L312.87,1055.35M314.36,1046.95L319.32,1053.61M320.81,1045.21L325.77,1051.87M327.26,1043.47L332.22,1050.13M333.7,1041.73L338.67,1048.39M340.15,1039.99L345.12,1046.65M346.6,1038.25L351.57,1044.91M353.05,1036.51L358.02,1043.17M359.5,1034.77L364.46,1041.43M365.95,1033.02L370.91,1039.68M372.4,1031.28L377.36,1037.94M378.85,1029.54L383.81,1036.2M385.3,1027.8L390.26,1034.46M391.75,1026.05L396.71,1032.72M398.2,1024.31L403.16,1030.97M404.65,1022.57L409.61,1029.23M411.1,1020.83L416.06,1027.49M417.55,1019.08L422.51,1025.74M424,1017.34L428.96,1024M430.45,1015.59L435.41,1022.26M436.9,1013.85L441.86,1020.52M443.35,1012.11L448.31,1018.77M449.79,1010.36L454.76,1017.03M456.24,1008.62L461.21,1015.29M462.69,1006.88L467.66,1013.54M469.14,1005.13L474.11,1011.8M475.59,1003.39L480.55,1010.05M482.04,1001.64L487,1008.31M488.49,999.9L493.45,1006.57M494.94,998.15L499.9,1004.82M501.39,996.41L506.35,1003.08M507.84,994.67L512.8,1001.33M514.29,992.92L519.25,999.59M520.74,991.18L525.7,997.85M527.19,989.43L532.15,996.1M533.64,987.69L538.6,994.36M540.09,985.94L545.05,992.61M546.54,984.2L551.5,990.87M552.99,982.45L557.95,989.12M559.44,980.71L564.4,987.38M565.88,978.96L570.85,985.63M572.33,977.22L577.3,983.89M578.78,975.47L583.75,982.14M585.23,973.73L590.2,980.4M591.68,971.98L596.64,978.65M598.13,970.24L603.09,976.91M604.58,968.49L609.54,975.17M611.03,966.75L615.99,973.42M617.48,965L622.44,971.68M623.93,963.26L628.89,969.93M630.38,961.51L635.34,968.19M636.83,959.77L641.79,966.44"/>
<path class="mt" stroke="#ff8000" d="M251.35,1056.14L256.31,1062.52M257.8,1054.45L262.76,1060.83M264.25,1052.72L269.21,1059.1M270.7,1050.99L275.66,1057.37M277.15,1049.25L282.11,1055.64M283.6,1047.52L288.56,1053.9M290.05,1045.78L295.01,1052.17M296.5,1044.04L301.46,1050.43M302.94,1042.3L307.91,1048.69M309.39,1040.56L314.36,1046.95M315.84,1038.82L320.81,1045.21M322.29,1037.08L327.26,1043.47M328.74,1035.34L333.7,1041.73M335.19,1033.6L340.15,1039.99M341.64,1031.86L346.6,1038.25M348.09,1030.11L353.05,1036.51M354.54,1028.37L359.5,1034.77M360.99,1026.63L365.95,1033.02M367.44,1024.89L372.4,1031.28M373.89,1023.14L378.85,1029.54M380.34,1021.4L385.3,1027.8M386.79,1019.66L391.75,1026.05M393.24,1017.92L398.2,1024.31M399.69,1016.17L404.65,1022.57M406.14,1014.43L411.1,1020.83M412.59,1012.68L417.55,1019.08M419.03,1010.94L424,1017.34M425.48,1009.2L430.45,1015.59M431.93,1007.45L436.9,1013.85M438.38,1005.71L443.35,1012.11M444.83,1003.97L449.79,1010.36M451.28,1002.22L456.24,1008.62M457.73,1000.48L462.69,1006.88M464.18,998.73L469.14,1005.13M470.63,996.99L475.59,1003.39M477.08,995.24L482.04,1001.64M483.53,993.5L488.49,999.9M489.98,991.75L494.94,998.15M496.43,990.01L501.39,996.41M502.88,988.26L507.84,994.67M509.33,986.52L514.29,992.92M515.78,984.78L520.74,991.18M522.23,983.03L527.19,989.43M528.68,981.29L533.64,987.69M535.12,979.54L540.09,985.94M541.57,977.8L546.54,984.2M548.02,976.05L552.99,982.45M554.47,974.31L559.44,980.71M560.92,972.56L565.88,978.96M567.37,970.81L572.33,977.22M573.82,969.07L578.78,975.47M580.27,967.32L585.23,973.73M586.72,965.58L591.68,971.98M593.17,963.83L598.13,970.24M599.62,962.09L604.58,968.49M606.07,960.34L611.03,966.75M612.52,958.6L617.48,965M618.97,956.85L623.93,963.26M625.42,955.11L630.38,961.51M631.87,953.36L636.83,959.77"/>
<path class="mt" stroke="#ff7000" d="M246.39,1050.01L251.35,1056.14M252.84,1048.31L257.8,1054.45M259.29,1046.58L264.25,1052.72M265.74,1044.85L270.7,1050.99M272.18,1043.11L277.15,1049.25M278.63,1041.37L283.6,1047.52M285.08,1039.64L290.05,1045.78M291.53,1037.9L296.5,1044.04M297.98,1036.16L302.94,1042.3M304.43,1034.42L309.39,1040.56M310.88,1032.68L315.84,1038.82M317.33,1030.94L322.29,1037.08M323.78,1029.19L328.74,1035.34M330.23,1027.45L335.19,1033.6M336.68,1025.71L341.64,1031.86M343.13,1023.97L348.09,1030.11M349.58,1022.22L354.54,1028.37M356.03,1020.48L360.99,1026.63M362.48,1018.74L367.44,1024.89M368.93,1017L373.89,1023.14M375.38,1015.25L380.34,1021.4M381.83,1013.51L386.79,1019.66M388.27,1011.77L393.24,1017.92M394.72,1010.02L399.69,1016.17M401.17,1008.28L406.14,1014.43M407.62,1006.53L412.59,1012.68M414.07,1004.79L419.03,1010.94M420.52,1003.05L425.48,1009.2M426.97,1001.3L431.93,1007.45M433.42,999.56L438.38,1005.71M439.87,997.81L444.83,1003.97M446.32,996.07L451.28,1002.22M452.77,994.32L457.73,1000.48M459.22,992.58L464.18,998.73M465.67,990.83L470.63,996.99M472.12,989.09L477.08,995.24M478.57,987.34L483.53,993.5M485.02,985.6L489.98,991.75M491.47,983.85L496.43,990.01M497.92,982.11L502.88,988.26M504.36,980.36L509.33,986.52M510.81,978.62L515.78,984.78M517.26,976.87L522.23,983.03M523.71,975.13L528.68,981.29M530.16,973.38L535.12,979.54M536.61,971.64L541.57,977.8M543.06,969.89L548.02,976.05M549.51,968.15L554.47,974.31M555.96,966.4L560.92,972.56M562.41,964.66L567.37,970.81M568.86,962.91L573.82,969.07M575.31,961.17L580.27,967.32M581.76,959.42L586.72,965.58M588.21,957.67L593.17,963.83M594.66,955.93L599.62,962.09M601.11,954.18L606.07,960.34M607.56,952.44L612.52,958.6M614.01,950.69L618.97,956.85M620.46,948.95L625.42,955.11M626.9,947.2L631.87,953.36"/>
<path class="mt" stroke="#ff6000" d="M241.42,1044.1L246.39,1050.01M247.87,1042.4L252.84,1048.31M254.32,1040.67L259.29,1046.58M260.77,1038.93L265.74,1044.85M267.22,1037.2L272.18,1043.11M273.67,1035.46L278.63,1041.37M280.12,1033.72L285.08,1039.64M286.57,1031.98L291.53,1037.9M293.02,1030.24L297.98,1036.16M299.47,1028.5L304.43,1034.42M305.92,1026.76L310.88,1032.68M312.37,1025.02L317.33,1030.94M318.82,1023.27L323.78,1029.19M325.27,1021.53L330.23,1027.45M331.72,1019.79L336.68,1025.71M338.17,1018.05L343.13,1023.97M344.62,1016.3L349.58,1022.22M351.07,1014.56L356.03,1020.48M357.51,1012.82L362.48,1018.74M363.96,1011.07L368.93,1017M370.41,1009.33L375.38,1015.25M376.86,1007.59L381.83,1013.51M383.31,1005.84L388.27,1011.77M389.76,1004.1L394.72,1010.02M396.21,1002.35L401.17,1008.28M402.66,1000.61L407.62,1006.53M409.11,998.87L414.07,1004.79M415.56,997.12L420.52,1003.05M422.01,995.38L426.97,1001.3M428.46,993.63L433.42,999.56M434.91,991.89L439.87,997.81M441.36,990.14L446.32,996.07M447.81,988.4L452.77,994.32M454.26,986.65L459.22,992.58M460.71,984.91L465.67,990.83M467.16,983.16L472.12,989.09M473.6,981.42L478.57,987.34M480.05,979.67L485.02,985.6M486.5,977.93L491.47,983.85M492.95,976.18L497.92,982.11M499.4,974.44L504.36,980.36M505.85,972.69L510.81,978.62M512.3,970.95L517.26,976.87M518.75,969.2L523.71,975.13M525.2,967.46L530.16,973.38M531.65,965.71L536.61,971.64M538.1,963.96L543.06,969.89M544.55,962.22L549.51,968.15M551,960.47L555.96,966.4M557.45,958.73L562.41,964.66M563.9,956.98L568.86,962.91M570.35,955.24L575.31,961.17M576.8,953.49L581.76,959.42M583.25,951.74L588.21,957.67M589.7,950L594.66,955.93M596.14,948.25L601.11,954.18M602.59,946.51L607.56,952.44M609.04,944.76L614.01,950.69M615.49,943.01L620.46,948.95M621.94,941.27L626.9,947.2"/>
<path class="mt" stroke="#ff5000" d="M231.5,1032.89L236.46,1038.4M237.95,1031.19L242.91,1036.69M244.4,1029.45L249.36,1034.96M250.85,1027.72L255.81,1033.23M257.3,1025.98L262.26,1031.49M263.75,1024.24L268.71,1029.75M270.2,1022.5L275.16,1028.01M276.65,1020.76L281.61,1026.27M283.1,1019.02L288.06,1024.53M289.55,1017.28L294.51,1022.79M295.99,1015.54L300.96,1021.05M302.44,1013.79L307.41,1019.31M308.89,1012.05L313.86,1017.57M315.34,1010.31L320.31,1015.82M321.79,1008.56L326.75,1014.08M328.24,1006.82L333.2,1012.34M334.69,1005.08L339.65,1010.59M341.14,1003.33L346.1,1008.85M347.59,1001.59L352.55,1007.11M354.04,999.85L359,1005.36M360.49,998.1L365.45,1003.62M366.94,996.36L371.9,1001.87M373.39,994.61L378.35,1000.13M379.84,992.87L384.8,998.39M386.29,991.12L391.25,996.64M392.74,989.38L397.7,994.9M399.19,987.63L404.15,993.15M405.64,985.89L410.6,991.41M412.08,984.14L417.05,989.66M418.53,982.4L423.5,987.92M424.98,980.65L429.95,986.17M431.43,978.91L436.4,984.43M437.88,977.16L442.84,982.68M444.33,975.42L449.29,980.94M450.78,973.67L455.74,979.19M457.23,971.93L462.19,977.45M463.68,970.18L468.64,975.7M470.13,968.43L475.09,973.96M476.58,966.69L481.54,972.21M483.03,964.94L487.99,970.47M489.48,963.2L494.44,968.72M495.93,961.45L500.89,966.97M502.38,959.71L507.34,965.23M508.83,957.96L513.79,963.48M515.28,956.21L520.24,961.74M521.73,954.47L526.69,959.99M528.18,952.72L533.14,958.25M534.62,950.98L539.59,956.5M541.07,949.23L546.04,954.75M547.52,947.48L552.49,953.01M553.97,945.74L558.94,951.26M560.42,943.99L565.38,949.52M566.87,942.25L571.83,947.77M573.32,940.5L578.28,946.02M579.77,938.75L584.73,944.28M586.22,937.01L591.18,942.53M592.67,935.26L597.63,940.79M599.12,933.52L604.08,939.04M605.57,931.77L610.53,937.29M612.02,930.02L616.98,935.55M236.46,1038.4L241.42,1044.1M242.91,1036.69L247.87,1042.4M249.36,1034.96L254.32,1040.67M255.81,1033.23L260.77,1038.93M262.26,1031.49L267.22,1037.2M268.71,1029.75L273.67,1035.46M275.16,1028.01L280.12,1033.72M281.61,1026.27L286.57,1031.98M288.06,1024.53L293.02,1030.24M294.51,1022.79L299.47,1028.5M300.96,1021.05L305.92,1026.76M307.41,1019.31L312.37,1025.02M313.86,1017.57L318.82,1023.27M320.31,1015.82L325.27,1021.53M326.75,1014.08L331.72,1019.79M333.2,1012.34L338.17,1018.05M339.65,1010.59L344.62,1016.3M346.1,1008.85L351.07,1014.56M352.55,1007.11L357.51,1012.82M359,1005.36L363.96,1011.07M365.45,1003.62L370.41,1009.33M371.9,1001.87L376.86,1007.59M378.35,1000.13L383.31,1005.84M384.8,998.39L389.76,1004.1M391.25,996.64L396.21,1002.35M397.7,994.9L402.66,1000.61M404.15,993.15L409.11,998.87M410.6,991.41L415.56,997.12M417.05,989.66L422.01,995.38M423.5,987.92L428.46,993.63M429.95,986.17L434.91,991.89M436.4,984.43L441.36,990.14M442.84,982.68L447.81,988.4M449.29,980.94L454.26,986.65M455.74,979.19L460.71,984.91M462.19,977.45L467.16,983.16M468.64,975.7L473.6,981.42M475.09,973.96L480.05,979.67M481.54,972.21L486.5,977.93M487.99,970.47L492.95,976.18M494.44,968.72L499.4,974.44M500.89,966.97L505.85,972.69M507.34,965.23L512.3,970.95M513.79,963.48L518.75,969.2M520.24,961.74L525.2,967.46M526.69,959.99L531.65,965.71M533.14,958.25L538.1,963.96M539.59,956.5L544.55,962.22M546.04,954.75L551,960.47M552.49,953.01L557.45,958.73M558.94,951.26L563.9,956.98M565.38,949.52L570.35,955.24M571.83,947.77L576.8,953.49M578.28,946.02L583.25,951.74M584.73,944.28L589.7,950M591.18,942.53L596.14,948.25M597.63,940.79L602.59,946.51M604.08,939.04L609.04,944.76M610.53,937.29L615.49,943.01M616.98,935.55L621.94,941.27"/>
<path class="mt" stroke="#ff4000" d="M226.54,1027.57L231.5,1032.89M232.99,1025.86L237.95,1031.19M239.44,1024.13L244.4,1029.45M245.89,1022.39L250.85,1027.72M252.34,1020.65L257.3,1025.98M258.79,1018.91L263.75,1024.24M265.23,1017.17L270.2,1022.5M271.68,1015.43L276.65,1020.76M278.13,1013.69L283.1,1019.02M284.58,1011.95L289.55,1017.28M291.03,1010.2L295.99,1015.54M297.48,1008.46L302.44,1013.79M303.93,1006.72L308.89,1012.05M310.38,1004.97L315.34,1010.31M316.83,1003.23L321.79,1008.56M323.28,1001.49L328.24,1006.82M329.73,999.74L334.69,1005.08M336.18,998L341.14,1003.33M342.63,996.25L347.59,1001.59M349.08,994.51L354.04,999.85M355.53,992.77L360.49,998.1M361.98,991.02L366.94,996.36M368.43,989.28L373.39,994.61M374.88,987.53L379.84,992.87M381.32,985.79L386.29,991.12M387.77,984.04L392.74,989.38M394.22,982.3L399.19,987.63M400.67,980.55L405.64,985.89M407.12,978.81L412.08,984.14M413.57,977.06L418.53,982.4M420.02,975.31L424.98,980.65M426.47,973.57L431.43,978.91M432.92,971.82L437.88,977.16M439.37,970.08L444.33,975.42M445.82,968.33L450.78,973.67M452.27,966.59L457.23,971.93M458.72,964.84L463.68,970.18M465.17,963.1L470.13,968.43M471.62,961.35L476.58,966.69M478.07,959.6L483.03,964.94M484.52,957.86L489.48,963.2M490.97,956.11L495.93,961.45M497.42,954.37L502.38,959.71M503.86,952.62L508.83,957.96M510.31,950.87L515.28,956.21M516.76,949.13L521.73,954.47M523.21,947.38L528.18,952.72M529.66,945.64L534.62,950.98M536.11,943.89L541.07,949.23M542.56,942.14L547.52,947.48M549.01,940.4L553.97,945.74M555.46,938.65L560.42,943.99M561.91,936.9L566.87,942.25M568.36,935.16L573.32,940.5M574.81,933.41L579.77,938.75M581.26,931.66L586.22,937.01M587.71,929.92L592.67,935.26M594.16,928.17L599.12,933.52M600.61,926.43L605.57,931.77M607.06,924.68L612.02,930.02"/>
<path class="mt" stroke="#ff3000" d="M221.58,1022.41L226.54,1027.57M228.03,1020.7L232.99,1025.86M234.47,1018.97L239.44,1024.13M240.92,1017.23L245.89,1022.39M247.37,1015.49L252.34,1020.65M253.82,1013.75L258.79,1018.91M260.27,1012.01L265.23,1017.17M266.72,1010.27L271.68,1015.43M273.17,1008.52L278.13,1013.69M279.62,1006.78L284.58,1011.95M286.07,1005.04L291.03,1010.2M292.52,1003.3L297.48,1008.46M298.97,1001.55L303.93,1006.72M305.42,999.81L310.38,1004.97M311.87,998.06L316.83,1003.23M318.32,996.32L323.28,1001.49M324.77,994.58L329.73,999.74M331.22,992.83L336.18,998M337.67,991.09L342.63,996.25M344.12,989.34L349.08,994.51M350.56,987.6L355.53,992.77M357.01,985.85L361.98,991.02M363.46,984.11L368.43,989.28M369.91,982.36L374.88,987.53M376.36,980.62L381.32,985.79M382.81,978.87L387.77,984.04M389.26,977.13L394.22,982.3M395.71,975.38L400.67,980.55M402.16,973.64L407.12,978.81M408.61,971.89L413.57,977.06M415.06,970.15L420.02,975.31M421.51,968.4L426.47,973.57M427.96,966.65L432.92,971.82M434.41,964.91L439.37,970.08M440.86,963.16L445.82,968.33M447.31,961.42L452.27,966.59M453.76,959.67L458.72,964.84M460.21,957.92L465.17,963.1M466.66,956.18L471.62,961.35M473.1,954.43L478.07,959.6M479.55,952.69L484.52,957.86M486,950.94L490.97,956.11M492.45,949.19L497.42,954.37M498.9,947.45L503.86,952.62M505.35,945.7L510.31,950.87M511.8,943.96L516.76,949.13M518.25,942.21L523.21,947.38M524.7,940.46L529.66,945.64M531.15,938.72L536.11,943.89M537.6,936.97L542.56,942.14M544.05,935.22L549.01,940.4M550.5,933.48L555.46,938.65M556.95,931.73L561.91,936.9M563.4,929.98L568.36,935.16M569.85,928.24L574.81,933.41M576.3,926.49L581.26,931.66M582.75,924.74L587.71,929.92M589.19,923L594.16,928.17M595.64,921.25L600.61,926.43M602.09,919.5L607.06,924.68"/>
<path class="mt" stroke="#ff2000" d="M211.65,1012.55L216.61,1017.41M218.1,1010.84L223.06,1015.7M224.55,1009.1L229.51,1013.96M231,1007.36L235.96,1012.22M237.45,1005.62L242.41,1010.48M243.9,1003.88L248.86,1008.74M250.35,1002.14L255.31,1007M256.8,1000.4L261.76,1005.26M263.25,998.66L268.21,1003.52M269.7,996.91L274.66,1001.77M276.15,995.17L281.11,1000.03M282.6,993.43L287.56,998.29M289.04,991.68L294.01,996.54M295.49,989.94L300.46,994.8M301.94,988.19L306.91,993.06M308.39,986.45L313.36,991.31M314.84,984.7L319.8,989.57M321.29,982.96L326.25,987.82M327.74,981.21L332.7,986.08M334.19,979.47L339.15,984.33M340.64,977.72L345.6,982.59M347.09,975.98L352.05,980.84M353.54,974.23L358.5,979.1M359.99,972.49L364.95,977.35M366.44,970.74L371.4,975.61M372.89,969L377.85,973.86M379.34,967.25L384.3,972.12M385.79,965.5L390.75,970.37M392.24,963.76L397.2,968.62M398.69,962.01L403.65,966.88M405.14,960.27L410.1,965.13M411.58,958.52L416.55,963.39M418.03,956.77L423,961.64M424.48,955.03L429.45,959.89M430.93,953.28L435.9,958.15M437.38,951.54L442.34,956.4M443.83,949.79L448.79,954.66M450.28,948.04L455.24,952.91M456.73,946.3L461.69,951.16M463.18,944.55L468.14,949.42M469.63,942.8L474.59,947.67M476.08,941.06L481.04,945.93M482.53,939.31L487.49,944.18M488.98,937.56L493.94,942.43M495.43,935.82L500.39,940.69M501.88,934.07L506.84,938.94M508.33,932.32L513.29,937.19M514.78,930.58L519.74,935.45M521.23,928.83L526.19,933.7M527.67,927.08L532.64,931.95M534.12,925.34L539.09,930.21M540.57,923.59L545.54,928.46M547.02,921.84L551.99,926.71M553.47,920.1L558.43,924.97M559.92,918.35L564.88,923.22M566.37,916.6L571.33,921.47M572.82,914.86L577.78,919.73M579.27,913.11L584.23,917.98M585.72,911.36L590.68,916.23M592.17,909.62L597.13,914.49M216.61,1017.41L221.58,1022.41M223.06,1015.7L228.03,1020.7M229.51,1013.96L234.47,1018.97M235.96,1012.22L240.92,1017.23M242.41,1010.48L247.37,1015.49M248.86,1008.74L253.82,1013.75M255.31,1007L260.27,1012.01M261.76,1005.26L266.72,1010.27M268.21,1003.52L273.17,1008.52M274.66,1001.77L279.62,1006.78M281.11,1000.03L286.07,1005.04M287.56,998.29L292.52,1003.3M294.01,996.54L298.97,1001.55M300.46,994.8L305.42,999.81M306.91,993.06L311.87,998.06M313.36,991.31L318.32,996.32M319.8,989.57L324.77,994.58M326.25,987.82L331.22,992.83M332.7,986.08L337.67,991.09M339.15,984.33L344.12,989.34M345.6,982.59L350.56,987.6M352.05,980.84L357.01,985.85M358.5,979.1L363.46,984.11M364.95,977.35L369.91,982.36M371.4,975.61L376.36,980.62M377.85,973.86L382.81,978.87M384.3,972.12L389.26,977.13M390.75,970.37L395.71,975.38M397.2,968.62L402.16,973.64M403.65,966.88L408.61,971.89M410.1,965.13L415.06,970.15M416.55,963.39L421.51,968.4M423,961.64L427.96,966.65M429.45,959.89L434.41,964.91M435.9,958.15L440.86,963.16M442.34,956.4L447.31,961.42M448.79,954.66L453.76,959.67M455.24,952.91L460.21,957.92M461.69,951.16L466.66,956.18M468.14,949.42L473.1,954.43M474.59,947.67L479.55,952.69M481.04,945.93L486,950.94M487.49,944.18L492.45,949.19M493.94,942.43L498.9,947.45M500.39,940.69L505.35,945.7M506.84,938.94L511.8,943.96M513.29,937.19L518.25,942.21M519.74,935.45L524.7,940.46M526.19,933.7L531.15,938.72M532.64,931.95L537.6,936.97M539.09,930.21L544.05,935.22M545.54,928.46L550.5,933.48M551.99,926.71L556.95,931.73M558.43,924.97L563.4,929.98M564.88,923.22L569.85,928.24M571.33,921.47L576.3,926.49M577.78,919.73L582.75,924.74M584.23,917.98L589.19,923M590.68,916.23L595.64,921.25M597.13,914.49L602.09,919.5"/>
<path class="mt" stroke="#ff1000" d="M582.24,900.28L587.21,904.88M206.69,1007.83L211.65,1012.55M213.14,1006.12L218.1,1010.84M219.59,1004.38L224.55,1009.1M226.04,1002.64L231,1007.36M232.49,1000.9L237.45,1005.62M238.94,999.16L243.9,1003.88M245.39,997.42L250.35,1002.14M251.84,995.67L256.8,1000.4M258.28,993.93L263.25,998.66M264.73,992.19L269.7,996.91M271.18,990.44L276.15,995.17M277.63,988.7L282.6,993.43M284.08,986.96L289.04,991.68M290.53,985.21L295.49,989.94M296.98,983.47L301.94,988.19M303.43,981.72L308.39,986.45M309.88,979.98L314.84,984.7M316.33,978.23L321.29,982.96M322.78,976.49L327.74,981.21M329.23,974.74L334.19,979.47M335.68,973L340.64,977.72M342.13,971.25L347.09,975.98M348.58,969.5L353.54,974.23M355.03,967.76L359.99,972.49M361.48,966.01L366.44,970.74M367.93,964.27L372.89,969M374.38,962.52L379.34,967.25M380.82,960.77L385.79,965.5M387.27,959.03L392.24,963.76M393.72,957.28L398.69,962.01M400.17,955.54L405.14,960.27M406.62,953.79L411.58,958.52M413.07,952.04L418.03,956.77M419.52,950.3L424.48,955.03M425.97,948.55L430.93,953.28M432.42,946.81L437.38,951.54M438.87,945.06L443.83,949.79M445.32,943.31L450.28,948.04M451.77,941.57L456.73,946.3M458.22,939.82L463.18,944.55M464.67,938.07L469.63,942.8M471.12,936.33L476.08,941.06M477.57,934.58L482.53,939.31M484.02,932.83L488.98,937.56M490.47,931.09L495.43,935.82M496.91,929.34L501.88,934.07M503.36,927.59L508.33,932.32M509.81,925.85L514.78,930.58M516.26,924.1L521.23,928.83M522.71,922.35L527.67,927.08M529.16,920.61L534.12,925.34M535.61,918.86L540.57,923.59M542.06,917.11L547.02,921.84M548.51,915.36L553.47,920.1M554.96,913.62L559.92,918.35M561.41,911.87L566.37,916.6M567.86,910.12L572.82,914.86M574.31,908.38L579.27,913.11M580.76,906.63L585.72,911.36M587.21,904.88L592.17,909.62"/>
<path class="mt" stroke="#ff0000" d="M196.76,998.77L201.73,1003.24M203.21,997.05L208.18,1001.52M209.66,995.31L214.63,999.79M216.11,993.57L221.08,998.05M222.56,991.83L227.52,996.3M229.01,990.09L233.97,994.56M235.46,988.34L240.42,992.82M241.91,986.6L246.87,991.08M248.36,984.86L253.32,989.33M254.81,983.11L259.77,987.59M261.26,981.37L266.22,985.85M267.71,979.62L272.67,984.1M274.16,977.88L279.12,982.36M280.61,976.13L285.57,980.61M287.06,974.39L292.02,978.87M293.51,972.64L298.47,977.12M299.96,970.9L304.92,975.38M306.41,969.15L311.37,973.63M312.86,967.41L317.82,971.89M319.3,965.66L324.27,970.14M325.75,963.91L330.72,968.39M332.2,962.17L337.17,966.65M338.65,960.42L343.62,964.9M345.1,958.68L350.06,963.16M351.55,956.93L356.51,961.41M358,955.18L362.96,959.67M364.45,953.44L369.41,957.92M370.9,951.69L375.86,956.17M377.35,949.94L382.31,954.43M383.8,948.2L388.76,952.68M390.25,946.45L395.21,950.93M396.7,944.71L401.66,949.19M403.15,942.96L408.11,947.44M409.6,941.21L414.56,945.7M416.05,939.47L421.01,943.95M422.5,937.72L427.46,942.2M428.95,935.97L433.91,940.46M435.39,934.23L440.36,938.71M441.84,932.48L446.81,936.96M448.29,930.73L453.26,935.22M454.74,928.99L459.71,933.47M461.19,927.24L466.15,931.72M467.64,925.49L472.6,929.98M474.09,923.74L479.05,928.23M480.54,922L485.5,926.48M486.99,920.25L491.95,924.74M493.44,918.5L498.4,922.99M499.89,916.76L504.85,921.24M506.34,915.01L511.3,919.49M512.79,913.26L517.75,917.75M519.24,911.52L524.2,916M525.69,909.77L530.65,914.25M532.14,908.02L537.1,912.51M538.59,906.27L543.55,910.76M545.04,904.53L550,909.01M551.48,902.78L556.45,907.27M557.93,901.03L562.9,905.52M564.38,899.29L569.35,903.77M570.83,897.54L575.8,902.02M577.28,895.79L582.24,900.28M201.73,1003.24L206.69,1007.83M208.18,1001.52L213.14,1006.12M214.63,999.79L219.59,1004.38M221.08,998.05L226.04,1002.64M227.52,996.3L232.49,1000.9M233.97,994.56L238.94,999.16M240.42,992.82L245.39,997.42M246.87,991.08L251.84,995.67M253.32,989.33L258.28,993.93M259.77,987.59L264.73,992.19M266.22,985.85L271.18,990.44M272.67,984.1L277.63,988.7M279.12,982.36L284.08,986.96M285.57,980.61L290.53,985.21M292.02,978.87L296.98,983.47M298.47,977.12L303.43,981.72M304.92,975.38L309.88,979.98M311.37,973.63L316.33,978.23M317.82,971.89L322.78,976.49M324.27,970.14L329.23,974.74M330.72,968.39L335.68,973M337.17,966.65L342.13,971.25M343.62,964.9L348.58,969.5M350.06,963.16L355.03,967.76M356.51,961.41L361.48,966.01M362.96,959.67L367.93,964.27M369.41,957.92L374.38,962.52M375.86,956.17L380.82,960.77M382.31,954.43L387.27,959.03M388.76,952.68L393.72,957.28M395.21,950.93L400.17,955.54M401.66,949.19L406.62,953.79M408.11,947.44L413.07,952.04M414.56,945.7L419.52,950.3M421.01,943.95L425.97,948.55M427.46,942.2L432.42,946.81M433.91,940.46L438.87,945.06M440.36,938.71L445.32,943.31M446.81,936.96L451.77,941.57M453.26,935.22L458.22,939.82M459.71,933.47L464.67,938.07M466.15,931.72L471.12,936.33M472.6,929.98L477.57,934.58M479.05,928.23L484.02,932.83M485.5,926.48L490.47,931.09M491.95,924.74L496.91,929.34M498.4,922.99L503.36,927.59M504.85,921.24L509.81,925.85M511.3,919.49L516.26,924.1M517.75,917.75L522.71,922.35M524.2,916L529.16,920.61M530.65,914.25L535.61,918.86M537.1,912.51L542.06,917.11M543.55,910.76L548.51,915.36M550,909.01L554.96,913.62M556.45,907.27L561.41,911.87M562.9,905.52L567.86,910.12M569.35,903.77L574.31,908.38M575.8,902.02L580.76,906.63"/>
<path class="mt" stroke="#ef0000" d="M186.84,990.14L191.8,994.4M193.29,988.42L198.25,992.68M199.74,986.68L204.7,990.94M206.19,984.94L211.15,989.2M212.64,983.2L217.6,987.46M219.09,981.46L224.05,985.72M225.54,979.71L230.5,983.98M231.99,977.97L236.95,982.23M238.44,976.23L243.4,980.49M244.89,974.48L249.85,978.74M251.34,972.74L256.3,977M257.78,970.99L262.75,975.25M264.23,969.25L269.2,973.51M270.68,967.5L275.65,971.76M277.13,965.76L282.1,970.02M283.58,964.01L288.54,968.27M290.03,962.26L294.99,966.53M296.48,960.52L301.44,964.78M302.93,958.77L307.89,963.04M309.38,957.03L314.34,961.29M315.83,955.28L320.79,959.54M322.28,953.53L327.24,957.8M328.73,951.79L333.69,956.05M335.18,950.04L340.14,954.31M341.63,948.29L346.59,952.56M348.08,946.55L353.04,950.81M354.53,944.8L359.49,949.07M360.98,943.06L365.94,947.32M367.43,941.31L372.39,945.57M373.87,939.56L378.84,943.83M380.32,937.82L385.29,942.08M386.77,936.07L391.74,940.33M393.22,934.32L398.19,938.59M399.67,932.57L404.63,936.84M406.12,930.83L411.08,935.09M412.57,929.08L417.53,933.35M419.02,927.33L423.98,931.6M425.47,925.59L430.43,929.85M431.92,923.84L436.88,928.11M438.37,922.09L443.33,926.36M444.82,920.35L449.78,924.61M451.27,918.6L456.23,922.87M457.72,916.85L462.68,921.12M464.17,915.1L469.13,919.37M470.62,913.36L475.58,917.63M477.07,911.61L482.03,915.88M483.52,909.86L488.48,914.13M489.96,908.12L494.93,912.38M496.41,906.37L501.38,910.64M502.86,904.62L507.83,908.89M509.31,902.87L514.28,907.14M515.76,901.13L520.72,905.4M522.21,899.38L527.17,903.65M528.66,897.63L533.62,901.9M535.11,895.89L540.07,900.15M541.56,894.14L546.52,898.41M548.01,892.39L552.97,896.66M554.46,890.64L559.42,894.91M560.91,888.9L565.87,893.16M567.36,887.15L572.32,891.42M191.8,994.4L196.76,998.77M198.25,992.68L203.21,997.05M204.7,990.94L209.66,995.31M211.15,989.2L216.11,993.57M217.6,987.46L222.56,991.83M224.05,985.72L229.01,990.09M230.5,983.98L235.46,988.34M236.95,982.23L241.91,986.6M243.4,980.49L248.36,984.86M249.85,978.74L254.81,983.11M256.3,977L261.26,981.37M262.75,975.25L267.71,979.62M269.2,973.51L274.16,977.88M275.65,971.76L280.61,976.13M282.1,970.02L287.06,974.39M288.54,968.27L293.51,972.64M294.99,966.53L299.96,970.9M301.44,964.78L306.41,969.15M307.89,963.04L312.86,967.41M314.34,961.29L319.3,965.66M320.79,959.54L325.75,963.91M327.24,957.8L332.2,962.17M333.69,956.05L338.65,960.42M340.14,954.31L345.1,958.68M346.59,952.56L351.55,956.93M353.04,950.81L358,955.18M359.49,949.07L364.45,953.44M365.94,947.32L370.9,951.69M372.39,945.57L377.35,949.94M378.84,943.83L383.8,948.2M385.29,942.08L390.25,946.45M391.74,940.33L396.7,944.71M398.19,938.59L403.15,942.96M404.63,936.84L409.6,941.21M411.08,935.09L416.05,939.47M417.53,933.35L422.5,937.72M423.98,931.6L428.95,935.97M430.43,929.85L435.39,934.23M436.88,928.11L441.84,932.48M443.33,926.36L448.29,930.73M449.78,924.61L454.74,928.99M456.23,922.87L461.19,927.24M462.68,921.12L467.64,925.49M469.13,919.37L474.09,923.74M475.58,917.63L480.54,922M482.03,915.88L486.99,920.25M488.48,914.13L493.44,918.5M494.93,912.38L499.89,916.76M501.38,910.64L506.34,915.01M507.83,908.89L512.79,913.26M514.28,907.14L519.24,911.52M520.72,905.4L525.69,909.77M527.17,903.65L532.14,908.02M533.62,901.9L538.59,906.27M540.07,900.15L545.04,904.53M546.52,898.41L551.48,902.78M552.97,896.66L557.93,901.03M559.42,894.91L564.38,899.29M565.87,893.16L570.83,897.54M572.32,891.42L577.28,895.79"/>
<path class="mt" stroke="#df0000" d="M281.59,948.29L286.56,952.28M288.04,946.55L293.01,950.53M294.49,944.8L299.46,948.79M300.94,943.05L305.91,947.04M307.39,941.31L312.35,945.29M313.84,939.56L318.8,943.55M320.29,937.81L325.25,941.8M326.74,936.07L331.7,940.05M333.19,934.32L338.15,938.31M339.64,932.57L344.6,936.56M346.09,930.83L351.05,934.81M352.54,929.08L357.5,933.07M358.99,927.33L363.95,931.32M365.44,925.58L370.4,929.57M371.89,923.84L376.85,927.83M378.34,922.09L383.3,926.08M384.79,920.34L389.75,924.33M391.24,918.6L396.2,922.58M397.68,916.85L402.65,920.84M404.13,915.1L409.1,919.09M410.58,913.35L415.55,917.34M417.03,911.61L422,915.6M423.48,909.86L428.44,913.85M429.93,908.11L434.89,912.1M436.38,906.36L441.34,910.35M442.83,904.62L447.79,908.61M449.28,902.87L454.24,906.86M455.73,901.12L460.69,905.11M462.18,899.38L467.14,903.36M468.63,897.63L473.59,901.62M475.08,895.88L480.04,899.87M481.53,894.13L486.49,898.12M487.98,892.39L492.94,896.38M494.43,890.64L499.39,894.63M500.88,888.89L505.84,892.88M507.33,887.14L512.29,891.13M513.77,885.39L518.74,889.39M520.22,883.65L525.19,887.64M526.67,881.9L531.64,885.89M533.12,880.15L538.09,884.14M539.57,878.4L544.53,882.4M546.02,876.66L550.98,880.65M552.47,874.91L557.43,878.9M176.92,981.92L181.88,985.98M183.37,980.19L188.33,984.26M189.82,978.45L194.78,982.52M196.26,976.71L201.23,980.78M202.71,974.97L207.68,979.04M209.16,973.22L214.13,977.29M215.61,971.48L220.58,975.55M222.06,969.74L227.02,973.81M228.51,967.99L233.47,972.06M234.96,966.25L239.92,970.32M241.41,964.5L246.37,968.57M247.86,962.75L252.82,966.83M254.31,961.01L259.27,965.08M260.76,959.26L265.72,963.34M267.21,957.52L272.17,961.59M273.66,955.77L278.62,959.84M280.11,954.03L285.07,958.1M286.56,952.28L291.52,956.35M293.01,950.53L297.97,954.61M299.46,948.79L304.42,952.86M305.91,947.04L310.87,951.11M312.35,945.29L317.32,949.37M318.8,943.55L323.77,947.62M325.25,941.8L330.22,945.87M331.7,940.05L336.67,944.13M338.15,938.31L343.11,942.38M344.6,936.56L349.56,940.63M351.05,934.81L356.01,938.89M357.5,933.07L362.46,937.14M363.95,931.32L368.91,935.39M370.4,929.57L375.36,933.65M376.85,927.83L381.81,931.9M383.3,926.08L388.26,930.15M389.75,924.33L394.71,928.41M396.2,922.58L401.16,926.66M402.65,920.84L407.61,924.91M409.1,919.09L414.06,923.17M415.55,917.34L420.51,921.42M422,915.6L426.96,919.67M428.44,913.85L433.41,917.92M434.89,912.1L439.86,916.18M441.34,910.35L446.31,914.43M447.79,908.61L452.76,912.68M454.24,906.86L459.2,910.94M460.69,905.11L465.65,909.19M467.14,903.36L472.1,907.44M473.59,901.62L478.55,905.69M480.04,899.87L485,903.95M486.49,898.12L491.45,902.2M492.94,896.38L497.9,900.45M499.39,894.63L504.35,898.7M505.84,892.88L510.8,896.96M512.29,891.13L517.25,895.21M518.74,889.39L523.7,893.46M525.19,887.64L530.15,891.72M531.64,885.89L536.6,889.97M538.09,884.14L543.05,888.22M544.53,882.4L549.5,886.47M550.98,880.65L555.95,884.73M557.43,878.9L562.4,882.98M181.88,985.98L186.84,990.14M188.33,984.26L193.29,988.42M194.78,982.52L199.74,986.68M201.23,980.78L206.19,984.94M207.68,979.04L212.64,983.2M214.13,977.29L219.09,981.46M220.58,975.55L225.54,979.71M227.02,973.81L231.99,977.97M233.47,972.06L238.44,976.23M239.92,970.32L244.89,974.48M246.37,968.57L251.34,972.74M252.82,966.83L257.78,970.99M259.27,965.08L264.23,969.25M265.72,963.34L270.68,967.5M272.17,961.59L277.13,965.76M278.62,959.84L283.58,964.01M285.07,958.1L290.03,962.26M291.52,956.35L296.48,960.52M297.97,954.61L302.93,958.77M304.42,952.86L309.38,957.03M310.87,951.11L315.83,955.28M317.32,949.37L322.28,953.53M323.77,947.62L328.73,951.79M330.22,945.87L335.18,950.04M336.67,944.13L341.63,948.29M343.11,942.38L348.08,946.55M349.56,940.63L354.53,944.8M356.01,938.89L360.98,943.06M362.46,937.14L367.43,941.31M368.91,935.39L373.87,939.56M375.36,933.65L380.32,937.82M381.81,931.9L386.77,936.07M388.26,930.15L393.22,934.32M394.71,928.41L399.67,932.57M401.16,926.66L406.12,930.83M407.61,924.91L412.57,929.08M414.06,923.17L419.02,927.33M420.51,921.42L425.47,925.59M426.96,919.67L431.92,923.84M433.41,917.92L438.37,922.09M439.86,916.18L444.82,920.35M446.31,914.43L451.27,918.6M452.76,912.68L457.72,916.85M459.2,910.94L464.17,915.1M465.65,909.19L470.62,913.36M472.1,907.44L477.07,911.61M478.55,905.69L483.52,909.86M485,903.95L489.96,908.12M491.45,902.2L496.41,906.37M497.9,900.45L502.86,904.62M504.35,898.7L509.31,902.87M510.8,896.96L515.76,901.13M517.25,895.21L522.21,899.38M523.7,893.46L528.66,897.63M530.15,891.72L535.11,895.89M536.6,889.97L541.56,894.14M543.05,888.22L548.01,892.39M549.5,886.47L554.46,890.64M555.95,884.73L560.91,888.9M562.4,882.98L567.36,887.15"/>
<path class="mt" stroke="#cf0000" d="M162.03,970.21L166.99,974.03M168.48,968.48L173.44,972.31M174.93,966.74L179.89,970.57M181.38,965L186.34,968.82M187.83,963.25L192.79,967.08M194.28,961.51L199.24,965.34M200.73,959.77L205.69,963.59M207.18,958.02L212.14,961.85M213.63,956.27L218.59,960.1M220.07,954.53L225.04,958.36M226.52,952.78L231.49,956.61M232.97,951.04L237.94,954.86M239.42,949.29L244.39,953.12M245.87,947.55L250.83,951.37M252.32,945.8L257.28,949.63M258.77,944.05L263.73,947.88M265.22,942.31L270.18,946.13M271.67,940.56L276.63,944.39M278.12,938.81L283.08,942.64M284.57,937.07L289.53,940.89M291.02,935.32L295.98,939.15M297.47,933.57L302.43,937.4M303.92,931.83L308.88,935.65M310.37,930.08L315.33,933.91M316.82,928.33L321.78,932.16M323.27,926.58L328.23,930.41M329.72,924.84L334.68,928.67M336.16,923.09L341.13,926.92M342.61,921.34L347.58,925.17M349.06,919.6L354.03,923.43M355.51,917.85L360.48,921.68M361.96,916.1L366.92,919.93M368.41,914.35L373.37,918.18M374.86,912.61L379.82,916.44M381.31,910.86L386.27,914.69M387.76,909.11L392.72,912.94M394.21,907.36L399.17,911.19M400.66,905.62L405.62,909.45M407.11,903.87L412.07,907.7M413.56,902.12L418.52,905.95M420.01,900.37L424.97,904.2M426.46,898.63L431.42,902.46M432.91,896.88L437.87,900.71M439.36,895.13L444.32,898.96M445.81,893.38L450.77,897.21M452.25,891.64L457.22,895.47M458.7,889.89L463.67,893.72M465.15,888.14L470.12,891.97M471.6,886.39L476.57,890.22M478.05,884.65L483.01,888.48M484.5,882.9L489.46,886.73M490.95,881.15L495.91,884.98M497.4,879.4L502.36,883.23M503.85,877.66L508.81,881.49M510.3,875.91L515.26,879.74M516.75,874.16L521.71,877.99M523.2,872.41L528.16,876.24M529.65,870.66L534.61,874.5M536.1,868.92L541.06,872.75M542.55,867.17L547.51,871M166.99,974.03L171.95,977.93M173.44,972.31L178.4,976.21M179.89,970.57L184.85,974.47M186.34,968.82L191.3,972.73M192.79,967.08L197.75,970.98M199.24,965.34L204.2,969.24M205.69,963.59L210.65,967.49M212.14,961.85L217.1,965.75M218.59,960.1L223.55,964.01M225.04,958.36L230,962.26M231.49,956.61L236.45,960.51M237.94,954.86L242.9,958.77M244.39,953.12L249.35,957.02M250.83,951.37L255.8,955.28M257.28,949.63L262.25,953.53M263.73,947.88L268.7,951.79M270.18,946.13L275.15,950.04M276.63,944.39L281.59,948.29M283.08,942.64L288.04,946.55M289.53,940.89L294.49,944.8M295.98,939.15L300.94,943.05M302.43,937.4L307.39,941.31M308.88,935.65L313.84,939.56M315.33,933.91L320.29,937.81M321.78,932.16L326.74,936.07M328.23,930.41L333.19,934.32M334.68,928.67L339.64,932.57M341.13,926.92L346.09,930.83M347.58,925.17L352.54,929.08M354.03,923.43L358.99,927.33M360.48,921.68L365.44,925.58M366.92,919.93L371.89,923.84M373.37,918.18L378.34,922.09M379.82,916.44L384.79,920.34M386.27,914.69L391.24,918.6M392.72,912.94L397.68,916.85M399.17,911.19L404.13,915.1M405.62,909.45L410.58,913.35M412.07,907.7L417.03,911.61M418.52,905.95L423.48,909.86M424.97,904.2L429.93,908.11M431.42,902.46L436.38,906.36M437.87,900.71L442.83,904.62M444.32,898.96L449.28,902.87M450.77,897.21L455.73,901.12M457.22,895.47L462.18,899.38M463.67,893.72L468.63,897.63M470.12,891.97L475.08,895.88M476.57,890.22L481.53,894.13M483.01,888.48L487.98,892.39M489.46,886.73L494.43,890.64M495.91,884.98L500.88,888.89M502.36,883.23L507.33,887.14M508.81,881.49L513.77,885.39M515.26,879.74L520.22,883.65M521.71,877.99L526.67,881.9M528.16,876.24L533.12,880.15M534.61,874.5L539.57,878.4M541.06,872.75L546.02,876.66M547.51,871L552.47,874.91M171.95,977.93L176.92,981.92M178.4,976.21L183.37,980.19M184.85,974.47L189.82,978.45M191.3,972.73L196.26,976.71M197.75,970.98L202.71,974.97M204.2,969.24L209.16,973.22M210.65,967.49L215.61,971.48M217.1,965.75L222.06,969.74M223.55,964.01L228.51,967.99M230,962.26L234.96,966.25M236.45,960.51L241.41,964.5M242.9,958.77L247.86,962.75M249.35,957.02L254.31,961.01M255.8,955.28L260.76,959.26M262.25,953.53L267.21,957.52M268.7,951.79L273.66,955.77M275.15,950.04L280.11,954.03"/>
<path class="mt" stroke="#bf0000" d="M147.14,959.16L152.11,962.77M153.59,957.42L158.55,961.04M160.04,955.68L165,959.3M166.49,953.94L171.45,957.56M172.94,952.2L177.9,955.82M179.39,950.45L184.35,954.07M185.84,948.7L190.8,952.33M192.29,946.96L197.25,950.58M198.74,945.21L203.7,948.83M205.19,943.47L210.15,947.09M211.64,941.72L216.6,945.34M218.09,939.97L223.05,943.6M224.54,938.23L229.5,941.85M230.99,936.48L235.95,940.1M237.44,934.73L242.4,938.36M243.88,932.99L248.85,936.61M250.33,931.24L255.3,934.86M256.78,929.49L261.75,933.12M263.23,927.75L268.2,931.37M269.68,926L274.64,929.62M276.13,924.25L281.09,927.88M282.58,922.51L287.54,926.13M289.03,920.76L293.99,924.38M295.48,919.01L300.44,922.63M301.93,917.26L306.89,920.89M308.38,915.52L313.34,919.14M314.83,913.77L319.79,917.39M321.28,912.02L326.24,915.65M327.73,910.27L332.69,913.9M334.18,908.53L339.14,912.15M340.63,906.78L345.59,910.4M347.08,905.03L352.04,908.66M353.53,903.28L358.49,906.91M359.97,901.54L364.94,905.16M366.42,899.79L371.39,903.41M372.87,898.04L377.84,901.67M379.32,896.29L384.29,899.92M385.77,894.55L390.73,898.17M392.22,892.8L397.18,896.42M398.67,891.05L403.63,894.68M405.12,889.3L410.08,892.93M411.57,887.56L416.53,891.18M418.02,885.81L422.98,889.43M424.47,884.06L429.43,887.68M430.92,882.31L435.88,885.94M437.37,880.56L442.33,884.19M443.82,878.82L448.78,882.44M450.27,877.07L455.23,880.69M456.72,875.32L461.68,878.95M463.17,873.57L468.13,877.2M469.62,871.83L474.58,875.45M476.06,870.08L481.03,873.7M482.51,868.33L487.48,871.95M488.96,866.58L493.93,870.21M495.41,864.83L500.38,868.46M501.86,863.09L506.82,866.71M508.31,861.34L513.27,864.96M514.76,859.59L519.72,863.22M521.21,857.84L526.17,861.47M527.66,856.09L532.62,859.72M152.11,962.77L157.07,966.46M158.55,961.04L163.52,964.73M165,959.3L169.97,962.99M171.45,957.56L176.42,961.24M177.9,955.82L182.87,959.5M184.35,954.07L189.31,957.76M190.8,952.33L195.76,956.01M197.25,950.58L202.21,954.27M203.7,948.83L208.66,952.52M210.15,947.09L215.11,950.77M216.6,945.34L221.56,949.03M223.05,943.6L228.01,947.28M229.5,941.85L234.46,945.54M235.95,940.1L240.91,943.79M242.4,938.36L247.36,942.04M248.85,936.61L253.81,940.3M255.3,934.86L260.26,938.55M261.75,933.12L266.71,936.8M268.2,931.37L273.16,935.06M274.64,929.62L279.61,933.31M281.09,927.88L286.06,931.56M287.54,926.13L292.51,929.82M293.99,924.38L298.96,928.07M300.44,922.63L305.4,926.32M306.89,920.89L311.85,924.58M313.34,919.14L318.3,922.83M319.79,917.39L324.75,921.08M326.24,915.65L331.2,919.33M332.69,913.9L337.65,917.59M339.14,912.15L344.1,915.84M345.59,910.4L350.55,914.09M352.04,908.66L357,912.34M358.49,906.91L363.45,910.6M364.94,905.16L369.9,908.85M371.39,903.41L376.35,907.1M377.84,901.67L382.8,905.35M384.29,899.92L389.25,903.61M390.73,898.17L395.7,901.86M397.18,896.42L402.15,900.11M403.63,894.68L408.6,898.36M410.08,892.93L415.05,896.62M416.53,891.18L421.49,894.87M422.98,889.43L427.94,893.12M429.43,887.68L434.39,891.37M435.88,885.94L440.84,889.63M442.33,884.19L447.29,887.88M448.78,882.44L453.74,886.13M455.23,880.69L460.19,884.38M461.68,878.95L466.64,882.64M468.13,877.2L473.09,880.89M474.58,875.45L479.54,879.14M481.03,873.7L485.99,877.39M487.48,871.95L492.44,875.64M493.93,870.21L498.89,873.9M500.38,868.46L505.34,872.15M506.82,866.71L511.79,870.4M513.27,864.96L518.24,868.65M519.72,863.22L524.69,866.91M526.17,861.47L531.14,865.16M532.62,859.72L537.58,863.41M157.07,966.46L162.03,970.21M163.52,964.73L168.48,968.48M169.97,962.99L174.93,966.74M176.42,961.24L181.38,965M182.87,959.5L187.83,963.25M189.31,957.76L194.28,961.51M195.76,956.01L200.73,959.77M202.21,954.27L207.18,958.02M208.66,952.52L213.63,956.27M215.11,950.77L220.07,954.53M221.56,949.03L226.52,952.78M228.01,947.28L232.97,951.04M234.46,945.54L239.42,949.29M240.91,943.79L245.87,947.55M247.36,942.04L252.32,945.8M253.81,940.3L258.77,944.05M260.26,938.55L265.22,942.31M266.71,936.8L271.67,940.56M273.16,935.06L278.12,938.81M279.61,933.31L284.57,937.07M286.06,931.56L291.02,935.32M292.51,929.82L297.47,933.57M298.96,928.07L303.92,931.83M305.4,926.32L310.37,930.08M311.85,924.58L316.82,928.33M318.3,922.83L323.27,926.58M324.75,921.08L329.72,924.84M331.2,919.33L336.16,923.09M337.65,917.59L342.61,921.34M344.1,915.84L349.06,919.6M350.55,914.09L355.51,917.85M357,912.34L361.96,916.1M363.45,910.6L368.41,914.35M369.9,908.85L374.86,912.61M376.35,907.1L381.31,910.86M382.8,905.35L387.76,909.11M389.25,903.61L394.21,907.36M395.7,901.86L400.66,905.62M402.15,900.11L407.11,903.87M408.6,898.36L413.56,902.12M415.05,896.62L420.01,900.37M421.49,894.87L426.46,898.63M427.94,893.12L432.91,896.88M434.39,891.37L439.36,895.13M440.84,889.63L445.81,893.38M447.29,887.88L452.25,891.64M453.74,886.13L458.7,889.89M460.19,884.38L465.15,888.14M466.64,882.64L471.6,886.39M473.09,880.89L478.05,884.65M479.54,879.14L484.5,882.9M485.99,877.39L490.95,881.15M492.44,875.64L497.4,879.4M498.89,873.9L503.85,877.66M505.34,872.15L510.3,875.91M511.79,870.4L516.75,874.16M518.24,868.65L523.2,872.41M524.69,866.91L529.65,870.66M531.14,865.16L536.1,868.92M537.58,863.41L542.55,867.17"/>
<path class="mt" stroke="#af0000" d="M132.26,948.65L137.22,952.1M138.71,946.92L143.67,950.36M145.16,945.17L150.12,948.62M151.6,943.43L156.57,946.88M158.05,941.69L163.02,945.13M164.5,939.94L169.47,943.39M170.95,938.19L175.92,941.64M177.4,936.45L182.36,939.9M183.85,934.7L188.81,938.15M190.3,932.96L195.26,936.4M196.75,931.21L201.71,934.66M203.2,929.46L208.16,932.91M209.65,927.72L214.61,931.16M216.1,925.97L221.06,929.42M222.55,924.22L227.51,927.67M229,922.47L233.96,925.92M235.45,920.73L240.41,924.18M241.9,918.98L246.86,922.43M248.35,917.23L253.31,920.68M254.8,915.48L259.76,918.93M261.25,913.74L266.21,917.19M267.69,911.99L272.66,915.44M274.14,910.24L279.11,913.69M280.59,908.5L285.56,911.94M287.04,906.75L292.01,910.2M293.49,905L298.45,908.45M299.94,903.25L304.9,906.7M306.39,901.5L311.35,904.95M312.84,899.76L317.8,903.21M319.29,898.01L324.25,901.46M325.74,896.26L330.7,899.71M332.19,894.51L337.15,897.96M338.64,892.77L343.6,896.22M345.09,891.02L350.05,894.47M351.54,889.27L356.5,892.72M357.99,887.52L362.95,890.97M364.44,885.78L369.4,889.23M370.89,884.03L375.85,887.48M377.34,882.28L382.3,885.73M383.78,880.53L388.75,883.98M390.23,878.78L395.2,882.23M396.68,877.04L401.65,880.49M403.13,875.29L408.1,878.74M409.58,873.54L414.54,876.99M416.03,871.79L420.99,875.24M422.48,870.04L427.44,873.49M428.93,868.3L433.89,871.75M435.38,866.55L440.34,870M441.83,864.8L446.79,868.25M448.28,863.05L453.24,866.5M454.73,861.3L459.69,864.76M461.18,859.56L466.14,863.01M467.63,857.81L472.59,861.26M474.08,856.06L479.04,859.51M480.53,854.31L485.49,857.76M486.98,852.56L491.94,856.01M493.43,850.82L498.39,854.27M499.87,849.07L504.84,852.52M506.32,847.32L511.29,850.77M512.77,845.57L517.74,849.02M137.22,952.1L142.18,955.6M143.67,950.36L148.63,953.87M150.12,948.62L155.08,952.12M156.57,946.88L161.53,950.38M163.02,945.13L167.98,948.64M169.47,943.39L174.43,946.89M175.92,941.64L180.88,945.14M182.36,939.9L187.33,943.4M188.81,938.15L193.78,941.65M195.26,936.4L200.23,939.91M201.71,934.66L206.68,938.16M208.16,932.91L213.12,936.41M214.61,931.16L219.57,934.67M221.06,929.42L226.02,932.92M227.51,927.67L232.47,931.17M233.96,925.92L238.92,929.43M240.41,924.18L245.37,927.68M246.86,922.43L251.82,925.93M253.31,920.68L258.27,924.19M259.76,918.93L264.72,922.44M266.21,917.19L271.17,920.69M272.66,915.44L277.62,918.94M279.11,913.69L284.07,917.2M285.56,911.94L290.52,915.45M292.01,910.2L296.97,913.7M298.45,908.45L303.42,911.95M304.9,906.7L309.87,910.21M311.35,904.95L316.32,908.46M317.8,903.21L322.77,906.71M324.25,901.46L329.21,904.96M330.7,899.71L335.66,903.22M337.15,897.96L342.11,901.47M343.6,896.22L348.56,899.72M350.05,894.47L355.01,897.97M356.5,892.72L361.46,896.23M362.95,890.97L367.91,894.48M369.4,889.23L374.36,892.73M375.85,887.48L380.81,890.98M382.3,885.73L387.26,889.24M388.75,883.98L393.71,887.49M395.2,882.23L400.16,885.74M401.65,880.49L406.61,883.99M408.1,878.74L413.06,882.24M414.54,876.99L419.51,880.5M420.99,875.24L425.96,878.75M427.44,873.49L432.41,877M433.89,871.75L438.86,875.25M440.34,870L445.3,873.5M446.79,868.25L451.75,871.76M453.24,866.5L458.2,870.01M459.69,864.76L464.65,868.26M466.14,863.01L471.1,866.51M472.59,861.26L477.55,864.77M479.04,859.51L484,863.02M485.49,857.76L490.45,861.27M491.94,856.01L496.9,859.52M498.39,854.27L503.35,857.77M504.84,852.52L509.8,856.03M511.29,850.77L516.25,854.28M517.74,849.02L522.7,852.53M142.18,955.6L147.14,959.16M148.63,953.87L153.59,957.42M155.08,952.12L160.04,955.68M161.53,950.38L166.49,953.94M167.98,948.64L172.94,952.2M174.43,946.89L179.39,950.45M180.88,945.14L185.84,948.7M187.33,943.4L192.29,946.96M193.78,941.65L198.74,945.21M200.23,939.91L205.19,943.47M206.68,938.16L211.64,941.72M213.12,936.41L218.09,939.97M219.57,934.67L224.54,938.23M226.02,932.92L230.99,936.48M232.47,931.17L237.44,934.73M238.92,929.43L243.88,932.99M245.37,927.68L250.33,931.24M251.82,925.93L256.78,929.49M258.27,924.19L263.23,927.75M264.72,922.44L269.68,926M271.17,920.69L276.13,924.25M277.62,918.94L282.58,922.51M284.07,917.2L289.03,920.76M290.52,915.45L295.48,919.01M296.97,913.7L301.93,917.26M303.42,911.95L308.38,915.52M309.87,910.21L314.83,913.77M316.32,908.46L321.28,912.02M322.77,906.71L327.73,910.27M329.21,904.96L334.18,908.53M335.66,903.22L340.63,906.78M342.11,901.47L347.08,905.03M348.56,899.72L353.53,903.28M355.01,897.97L359.97,901.54M361.46,896.23L366.42,899.79M367.91,894.48L372.87,898.04M374.36,892.73L379.32,896.29M380.81,890.98L385.77,894.55M387.26,889.24L392.22,892.8M393.71,887.49L398.67,891.05M400.16,885.74L405.12,889.3M406.61,883.99L411.57,887.56M413.06,882.24L418.02,885.81M419.51,880.5L424.47,884.06M425.96,878.75L430.92,882.31M432.41,877L437.37,880.56M438.86,875.25L443.82,878.82M445.3,873.5L450.27,877.07M451.75,871.76L456.72,875.32M458.2,870.01L463.17,873.57M464.65,868.26L469.62,871.83M471.1,866.51L476.06,870.08M477.55,864.77L482.51,868.33M484,863.02L488.96,866.58M490.45,861.27L495.41,864.83M496.9,859.52L501.86,863.09M503.35,857.77L508.31,861.34M509.8,856.03L514.76,859.59M516.25,854.28L521.21,857.84M522.7,852.53L527.66,856.09"/>
<path class="mt" stroke="#9f0000" d="M112.41,935.36L117.37,938.61M118.86,933.62L123.82,936.88M125.31,931.88L130.27,935.13M131.76,930.13L136.72,933.39M138.21,928.38L143.17,931.64M144.65,926.64L149.62,929.9M151.1,924.89L156.07,928.15M157.55,923.15L162.52,926.4M164,921.4L168.97,924.66M170.45,919.65L175.41,922.91M176.9,917.9L181.86,921.16M183.35,916.16L188.31,919.42M189.8,914.41L194.76,917.67M196.25,912.66L201.21,915.92M202.7,910.92L207.66,914.17M209.15,909.17L214.11,912.43M215.6,907.42L220.56,910.68M222.05,905.67L227.01,908.93M228.5,903.93L233.46,907.18M234.95,902.18L239.91,905.44M241.4,900.43L246.36,903.69M247.85,898.68L252.81,901.94M254.3,896.94L259.26,900.19M260.74,895.19L265.71,898.45M267.19,893.44L272.16,896.7M273.64,891.69L278.61,894.95M280.09,889.94L285.06,893.2M286.54,888.2L291.5,891.45M292.99,886.45L297.95,889.71M299.44,884.7L304.4,887.96M305.89,882.95L310.85,886.21M312.34,881.2L317.3,884.46M318.79,879.46L323.75,882.72M325.24,877.71L330.2,880.97M331.69,875.96L336.65,879.22M338.14,874.21L343.1,877.47M344.59,872.46L349.55,875.72M351.04,870.72L356,873.98M357.49,868.97L362.45,872.23M363.94,867.22L368.9,870.48M370.39,865.47L375.35,868.73M376.83,863.72L381.8,866.98M383.28,861.98L388.25,865.23M389.73,860.23L394.7,863.49M396.18,858.48L401.15,861.74M402.63,856.73L407.59,859.99M409.08,854.98L414.04,858.24M415.53,853.23L420.49,856.49M421.98,851.49L426.94,854.75M428.43,849.74L433.39,853M434.88,847.99L439.84,851.25M441.33,846.24L446.29,849.5M447.78,844.49L452.74,847.75M454.23,842.75L459.19,846.01M460.68,841L465.64,844.26M467.13,839.25L472.09,842.51M473.58,837.5L478.54,840.76M480.03,835.75L484.99,839.01M486.48,834L491.44,837.26M492.92,832.26L497.89,835.52M117.37,938.61L122.33,941.91M123.82,936.88L128.78,940.18M130.27,935.13L135.23,938.43M136.72,933.39L141.68,936.69M143.17,931.64L148.13,934.94M149.62,929.9L154.58,933.2M156.07,928.15L161.03,931.45M162.52,926.4L167.48,929.7M168.97,924.66L173.93,927.96M175.41,922.91L180.38,926.21M181.86,921.16L186.83,924.46M188.31,919.42L193.28,922.72M194.76,917.67L199.73,920.97M201.21,915.92L206.17,919.22M207.66,914.17L212.62,917.48M214.11,912.43L219.07,915.73M220.56,910.68L225.52,913.98M227.01,908.93L231.97,912.23M233.46,907.18L238.42,910.49M239.91,905.44L244.87,908.74M246.36,903.69L251.32,906.99M252.81,901.94L257.77,905.24M259.26,900.19L264.22,903.5M265.71,898.45L270.67,901.75M272.16,896.7L277.12,900M278.61,894.95L283.57,898.25M285.06,893.2L290.02,896.51M291.5,891.45L296.47,894.76M297.95,889.71L302.92,893.01M304.4,887.96L309.37,891.26M310.85,886.21L315.82,889.51M317.3,884.46L322.26,887.77M323.75,882.72L328.71,886.02M330.2,880.97L335.16,884.27M336.65,879.22L341.61,882.52M343.1,877.47L348.06,880.77M349.55,875.72L354.51,879.03M356,873.98L360.96,877.28M362.45,872.23L367.41,875.53M368.9,870.48L373.86,873.78M375.35,868.73L380.31,872.03M381.8,866.98L386.76,870.29M388.25,865.23L393.21,868.54M394.7,863.49L399.66,866.79M401.15,861.74L406.11,865.04M407.59,859.99L412.56,863.29M414.04,858.24L419.01,861.55M420.49,856.49L425.46,859.8M426.94,854.75L431.91,858.05M433.39,853L438.35,856.3M439.84,851.25L444.8,854.55M446.29,849.5L451.25,852.81M452.74,847.75L457.7,851.06M459.19,846.01L464.15,849.31M465.64,844.26L470.6,847.56M472.09,842.51L477.05,845.81M478.54,840.76L483.5,844.06M484.99,839.01L489.95,842.32M491.44,837.26L496.4,840.57M497.89,835.52L502.85,838.82M122.33,941.91L127.29,945.26M128.78,940.18L133.74,943.52M135.23,938.43L140.19,941.78M141.68,936.69L146.64,940.03M148.13,934.94L153.09,938.29M154.58,933.2L159.54,936.54M161.03,931.45L165.99,934.8M167.48,929.7L172.44,933.05M173.93,927.96L178.89,931.31M180.38,926.21L185.34,929.56M186.83,924.46L191.79,927.81M193.28,922.72L198.24,926.06M199.73,920.97L204.69,924.32M206.17,919.22L211.14,922.57M212.62,917.48L217.59,920.82M219.07,915.73L224.04,919.08M225.52,913.98L230.49,917.33M231.97,912.23L236.93,915.58M238.42,910.49L243.38,913.83M244.87,908.74L249.83,912.09M251.32,906.99L256.28,910.34M257.77,905.24L262.73,908.59M264.22,903.5L269.18,906.84M270.67,901.75L275.63,905.1M277.12,900L282.08,903.35M283.57,898.25L288.53,901.6M290.02,896.51L294.98,899.85M296.47,894.76L301.43,898.11M302.92,893.01L307.88,896.36M309.37,891.26L314.33,894.61M315.82,889.51L320.78,892.86M322.26,887.77L327.23,891.12M328.71,886.02L333.68,889.37M335.16,884.27L340.13,887.62M341.61,882.52L346.58,885.87M348.06,880.77L353.02,884.12M354.51,879.03L359.47,882.38M360.96,877.28L365.92,880.63M367.41,875.53L372.37,878.88M373.86,873.78L378.82,877.13M380.31,872.03L385.27,875.38M386.76,870.29L391.72,873.64M393.21,868.54L398.17,871.89M399.66,866.79L404.62,870.14M406.11,865.04L411.07,868.39M412.56,863.29L417.52,866.64M419.01,861.55L423.97,864.9M425.46,859.8L430.42,863.15M431.91,858.05L436.87,861.4M438.35,856.3L443.32,859.65M444.8,854.55L449.77,857.9M451.25,852.81L456.22,856.16M457.7,851.06L462.67,854.41M464.15,849.31L469.11,852.66M470.6,847.56L475.56,850.91M477.05,845.81L482.01,849.16M483.5,844.06L488.46,847.42M489.95,842.32L494.91,845.67M496.4,840.57L501.36,843.92M502.85,838.82L507.81,842.17M127.29,945.26L132.26,948.65M133.74,943.52L138.71,946.92M140.19,941.78L145.16,945.17M146.64,940.03L151.6,943.43M153.09,938.29L158.05,941.69M159.54,936.54L164.5,939.94M165.99,934.8L170.95,938.19M172.44,933.05L177.4,936.45M178.89,931.31L183.85,934.7M185.34,929.56L190.3,932.96M191.79,927.81L196.75,931.21M198.24,926.06L203.2,929.46M204.69,924.32L209.65,927.72M211.14,922.57L216.1,925.97M217.59,920.82L222.55,924.22M224.04,919.08L229,922.47M230.49,917.33L235.45,920.73M236.93,915.58L241.9,918.98M243.38,913.83L248.35,917.23M249.83,912.09L254.8,915.48M256.28,910.34L261.25,913.74M262.73,908.59L267.69,911.99M269.18,906.84L274.14,910.24M275.63,905.1L280.59,908.5M282.08,903.35L287.04,906.75M288.53,901.6L293.49,905M294.98,899.85L299.94,903.25M301.43,898.11L306.39,901.5M307.88,896.36L312.84,899.76M314.33,894.61L319.29,898.01M320.78,892.86L325.74,896.26M327.23,891.12L332.19,894.51M333.68,889.37L338.64,892.77M340.13,887.62L345.09,891.02M346.58,885.87L351.54,889.27M353.02,884.12L357.99,887.52M359.47,882.38L364.44,885.78M365.92,880.63L370.89,884.03M372.37,878.88L377.34,882.28M378.82,877.13L383.78,880.53M385.27,875.38L390.23,878.78M391.72,873.64L396.68,877.04M398.17,871.89L403.13,875.29M404.62,870.14L409.58,873.54M411.07,868.39L416.03,871.79M417.52,866.64L422.48,870.04M423.97,864.9L428.93,868.3M430.42,863.15L435.38,866.55M436.87,861.4L441.83,864.8M443.32,859.65L448.28,863.05M449.77,857.9L454.73,861.3M456.22,856.16L461.18,859.56M462.67,854.41L467.63,857.81M469.11,852.66L474.08,856.06M475.56,850.91L480.53,854.31M482.01,849.16L486.98,852.56M488.46,847.42L493.43,850.82M494.91,845.67L499.87,849.07M501.36,843.92L506.32,847.32M507.81,842.17L512.77,845.57"/>
<path class="mt" stroke="#8f0000" d="M87.6,919.66L92.56,922.73M94.05,917.92L99.01,920.99M100.5,916.18L105.46,919.25M106.94,914.43L111.91,917.5M113.39,912.69L118.36,915.75M119.84,910.94L124.81,914.01M126.29,909.19L131.26,912.26M132.74,907.45L137.7,910.51M139.19,905.7L144.15,908.77M145.64,903.95L150.6,907.02M152.09,902.2L157.05,905.27M158.54,900.46L163.5,903.53M164.99,898.71L169.95,901.78M171.44,896.96L176.4,900.03M177.89,895.21L182.85,898.28M184.34,893.47L189.3,896.53M190.79,891.72L195.75,894.79M197.24,889.97L202.2,893.04M203.69,888.22L208.65,891.29M210.14,886.47L215.1,889.54M216.59,884.73L221.55,887.8M223.03,882.98L228,886.05M229.48,881.23L234.45,884.3M235.93,879.48L240.9,882.55M242.38,877.73L247.35,880.8M248.83,875.99L253.79,879.06M255.28,874.24L260.24,877.31M261.73,872.49L266.69,875.56M268.18,870.74L273.14,873.81M274.63,868.99L279.59,872.06M281.08,867.25L286.04,870.32M287.53,865.5L292.49,868.57M293.98,863.75L298.94,866.82M300.43,862L305.39,865.07M306.88,860.25L311.84,863.32M313.33,858.5L318.29,861.57M319.78,856.76L324.74,859.83M326.23,855.01L331.19,858.08M332.68,853.26L337.64,856.33M339.12,851.51L344.09,854.58M345.57,849.76L350.54,852.83M352.02,848.02L356.99,851.08M358.47,846.27L363.44,849.34M364.92,844.52L369.88,847.59M371.37,842.77L376.33,845.84M377.82,841.02L382.78,844.09M384.27,839.27L389.23,842.34M390.72,837.53L395.68,840.59M397.17,835.78L402.13,838.85M403.62,834.03L408.58,837.1M410.07,832.28L415.03,835.35M416.52,830.53L421.48,833.6M422.97,828.78L427.93,831.85M429.42,827.03L434.38,830.1M435.87,825.29L440.83,828.36M442.32,823.54L447.28,826.61M448.77,821.79L453.73,824.86M455.22,820.04L460.18,823.11M461.66,818.29L466.63,821.36M468.11,816.54L473.08,819.61M92.56,922.73L97.52,925.83M99.01,920.99L103.97,924.09M105.46,919.25L110.42,922.35M111.91,917.5L116.87,920.6M118.36,915.75L123.32,918.86M124.81,914.01L129.77,917.11M131.26,912.26L136.22,915.36M137.7,910.51L142.67,913.62M144.15,908.77L149.12,911.87M150.6,907.02L155.57,910.12M157.05,905.27L162.02,908.38M163.5,903.53L168.46,906.63M169.95,901.78L174.91,904.88M176.4,900.03L181.36,903.13M182.85,898.28L187.81,901.39M189.3,896.53L194.26,899.64M195.75,894.79L200.71,897.89M202.2,893.04L207.16,896.14M208.65,891.29L213.61,894.39M215.1,889.54L220.06,892.65M221.55,887.8L226.51,890.9M228,886.05L232.96,889.15M234.45,884.3L239.41,887.4M240.9,882.55L245.86,885.65M247.35,880.8L252.31,883.91M253.79,879.06L258.76,882.16M260.24,877.31L265.21,880.41M266.69,875.56L271.66,878.66M273.14,873.81L278.11,876.91M279.59,872.06L284.55,875.17M286.04,870.32L291,873.42M292.49,868.57L297.45,871.67M298.94,866.82L303.9,869.92M305.39,865.07L310.35,868.17M311.84,863.32L316.8,866.43M318.29,861.57L323.25,864.68M324.74,859.83L329.7,862.93M331.19,858.08L336.15,861.18M337.64,856.33L342.6,859.43M344.09,854.58L349.05,857.69M350.54,852.83L355.5,855.94M356.99,851.08L361.95,854.19M363.44,849.34L368.4,852.44M369.88,847.59L374.85,850.69M376.33,845.84L381.3,848.94M382.78,844.09L387.75,847.2M389.23,842.34L394.2,845.45M395.68,840.59L400.64,843.7M402.13,838.85L407.09,841.95M408.58,837.1L413.54,840.2M415.03,835.35L419.99,838.45M421.48,833.6L426.44,836.71M427.93,831.85L432.89,834.96M434.38,830.1L439.34,833.21M440.83,828.36L445.79,831.46M447.28,826.61L452.24,829.71M453.73,824.86L458.69,827.96M460.18,823.11L465.14,826.22M466.63,821.36L471.59,824.47M473.08,819.61L478.04,822.72M97.52,925.83L102.48,928.97M103.97,924.09L108.93,927.23M110.42,922.35L115.38,925.49M116.87,920.6L121.83,923.74M123.32,918.86L128.28,921.99M129.77,917.11L134.73,920.25M136.22,915.36L141.18,918.5M142.67,913.62L147.63,916.75M149.12,911.87L154.08,915.01M155.57,910.12L160.53,913.26M162.02,908.38L166.98,911.51M168.46,906.63L173.43,909.77M174.91,904.88L179.88,908.02M181.36,903.13L186.33,906.27M187.81,901.39L192.78,904.52M194.26,899.64L199.22,902.78M200.71,897.89L205.67,901.03M207.16,896.14L212.12,899.28M213.61,894.39L218.57,897.53M220.06,892.65L225.02,895.79M226.51,890.9L231.47,894.04M232.96,889.15L237.92,892.29M239.41,887.4L244.37,890.54M245.86,885.65L250.82,888.79M252.31,883.91L257.27,887.05M258.76,882.16L263.72,885.3M265.21,880.41L270.17,883.55M271.66,878.66L276.62,881.8M278.11,876.91L283.07,880.05M284.55,875.17L289.52,878.31M291,873.42L295.97,876.56M297.45,871.67L302.42,874.81M303.9,869.92L308.87,873.06M310.35,868.17L315.31,871.31M316.8,866.43L321.76,869.57M323.25,864.68L328.21,867.82M329.7,862.93L334.66,866.07M336.15,861.18L341.11,864.32M342.6,859.43L347.56,862.57M349.05,857.69L354.01,860.82M355.5,855.94L360.46,859.08M361.95,854.19L366.91,857.33M368.4,852.44L373.36,855.58M374.85,850.69L379.81,853.83M381.3,848.94L386.26,852.08M387.75,847.2L392.71,850.34M394.2,845.45L399.16,848.59M400.64,843.7L405.61,846.84M407.09,841.95L412.06,845.09M413.54,840.2L418.51,843.34M419.99,838.45L424.96,841.59M426.44,836.71L431.4,839.85M432.89,834.96L437.85,838.1M439.34,833.21L444.3,836.35M445.79,831.46L450.75,834.6M452.24,829.71L457.2,832.85M458.69,827.96L463.65,831.1M465.14,826.22L470.1,829.36M471.59,824.47L476.55,827.61M478.04,822.72L483,825.86M102.48,928.97L107.45,932.14M108.93,927.23L113.89,930.4M115.38,925.49L120.34,928.66M121.83,923.74L126.79,926.92M128.28,921.99L133.24,925.17M134.73,920.25L139.69,923.42M141.18,918.5L146.14,921.68M147.63,916.75L152.59,919.93M154.08,915.01L159.04,918.18M160.53,913.26L165.49,916.44M166.98,911.51L171.94,914.69M173.43,909.77L178.39,912.94M179.88,908.02L184.84,911.19M186.33,906.27L191.29,909.45M192.78,904.52L197.74,907.7M199.22,902.78L204.19,905.95M205.67,901.03L210.64,904.2M212.12,899.28L217.09,902.46M218.57,897.53L223.54,900.71M225.02,895.79L229.98,898.96M231.47,894.04L236.43,897.21M237.92,892.29L242.88,895.47M244.37,890.54L249.33,893.72M250.82,888.79L255.78,891.97M257.27,887.05L262.23,890.22M263.72,885.3L268.68,888.48M270.17,883.55L275.13,886.73M276.62,881.8L281.58,884.98M283.07,880.05L288.03,883.23M289.52,878.31L294.48,881.48M295.97,876.56L300.93,879.74M302.42,874.81L307.38,877.99M308.87,873.06L313.83,876.24M315.31,871.31L320.28,874.49M321.76,869.57L326.73,872.74M328.21,867.82L333.18,871M334.66,866.07L339.63,869.25M341.11,864.32L346.07,867.5M347.56,862.57L352.52,865.75M354.01,860.82L358.97,864M360.46,859.08L365.42,862.25M366.91,857.33L371.87,860.51M373.36,855.58L378.32,858.76M379.81,853.83L384.77,857.01M386.26,852.08L391.22,855.26M392.71,850.34L397.67,853.51M399.16,848.59L404.12,851.77M405.61,846.84L410.57,850.02M412.06,845.09L417.02,848.27M418.51,843.34L423.47,846.52M424.96,841.59L429.92,844.77M431.4,839.85L436.37,843.02M437.85,838.1L442.82,841.28M444.3,836.35L449.27,839.53M450.75,834.6L455.72,837.78M457.2,832.85L462.16,836.03M463.65,831.1L468.61,834.28M470.1,829.36L475.06,832.53M476.55,827.61L481.51,830.79M483,825.86L487.96,829.04M107.45,932.14L112.41,935.36M113.89,930.4L118.86,933.62M120.34,928.66L125.31,931.88M126.79,926.92L131.76,930.13M133.24,925.17L138.21,928.38M139.69,923.42L144.65,926.64M146.14,921.68L151.1,924.89M152.59,919.93L157.55,923.15M159.04,918.18L164,921.4M165.49,916.44L170.45,919.65M171.94,914.69L176.9,917.9M178.39,912.94L183.35,916.16M184.84,911.19L189.8,914.41M191.29,909.45L196.25,912.66M197.74,907.7L202.7,910.92M204.19,905.95L209.15,909.17M210.64,904.2L215.6,907.42M217.09,902.46L222.05,905.67M223.54,900.71L228.5,903.93M229.98,898.96L234.95,902.18M236.43,897.21L241.4,900.43M242.88,895.47L247.85,898.68M249.33,893.72L254.3,896.94M255.78,891.97L260.74,895.19M262.23,890.22L267.19,893.44M268.68,888.48L273.64,891.69M275.13,886.73L280.09,889.94M281.58,884.98L286.54,888.2M288.03,883.23L292.99,886.45M294.48,881.48L299.44,884.7M300.93,879.74L305.89,882.95M307.38,877.99L312.34,881.2M313.83,876.24L318.79,879.46M320.28,874.49L325.24,877.71M326.73,872.74L331.69,875.96M333.18,871L338.14,874.21M339.63,869.25L344.59,872.46M346.07,867.5L351.04,870.72M352.52,865.75L357.49,868.97M358.97,864L363.94,867.22M365.42,862.25L370.39,865.47M371.87,860.51L376.83,863.72M378.32,858.76L383.28,861.98M384.77,857.01L389.73,860.23M391.22,855.26L396.18,858.48M397.67,853.51L402.63,856.73M404.12,851.77L409.08,854.98M410.57,850.02L415.53,853.23M417.02,848.27L421.98,851.49M423.47,846.52L428.43,849.74M429.92,844.77L434.88,847.99M436.37,843.02L441.33,846.24M442.82,841.28L447.78,844.49M449.27,839.53L454.23,842.75M455.72,837.78L460.68,841M462.16,836.03L467.13,839.25M468.61,834.28L473.58,837.5M475.06,832.53L480.03,835.75M481.51,830.79L486.48,834M487.96,829.04L492.92,832.26"/>
<path class="mt" stroke="#800000" d="M62.79,904.79L67.75,907.71M69.23,903.05L74.2,905.96M75.68,901.3L80.65,904.22M82.13,899.55L87.1,902.47M88.58,897.81L93.55,900.73M95.03,896.06L99.99,898.98M101.48,894.31L106.44,897.23M107.93,892.56L112.89,895.48M114.38,890.82L119.34,893.74M120.83,889.07L125.79,891.99M127.28,887.32L132.24,890.24M133.73,885.57L138.69,888.49M140.18,883.83L145.14,886.75M146.63,882.08L151.59,885M153.08,880.33L158.04,883.25M159.53,878.58L164.49,881.5M165.98,876.83L170.94,879.75M172.43,875.09L177.39,878.01M178.88,873.34L183.84,876.26M185.32,871.59L190.29,874.51M191.77,869.84L196.74,872.76M198.22,868.09L203.19,871.01M204.67,866.34L209.64,869.27M211.12,864.6L216.08,867.52M217.57,862.85L222.53,865.77M224.02,861.1L228.98,864.02M230.47,859.35L235.43,862.27M236.92,857.6L241.88,860.52M243.37,855.86L248.33,858.78M249.82,854.11L254.78,857.03M256.27,852.36L261.23,855.28M262.72,850.61L267.68,853.53M269.17,848.86L274.13,851.78M275.62,847.11L280.58,850.03M282.07,845.36L287.03,848.29M288.52,843.62L293.48,846.54M294.97,841.87L299.93,844.79M301.42,840.12L306.38,843.04M307.86,838.37L312.83,841.29M314.31,836.62L319.28,839.54M320.76,834.87L325.73,837.8M327.21,833.13L332.18,836.05M333.66,831.38L338.62,834.3M340.11,829.63L345.07,832.55M346.56,827.88L351.52,830.8M353.01,826.13L357.97,829.05M359.46,824.38L364.42,827.3M365.91,822.63L370.87,825.56M372.36,820.89L377.32,823.81M378.81,819.14L383.77,822.06M385.26,817.39L390.22,820.31M391.71,815.64L396.67,818.56M398.16,813.89L403.12,816.81M404.61,812.14L409.57,815.07M411.06,810.39L416.02,813.32M417.51,808.65L422.47,811.57M423.95,806.9L428.92,809.82M430.4,805.15L435.37,808.07M436.85,803.4L441.82,806.32M443.3,801.65L448.27,804.57M67.75,907.71L72.71,910.65M74.2,905.96L79.16,908.91M80.65,904.22L85.61,907.17M87.1,902.47L92.06,905.42M93.55,900.73L98.51,903.67M99.99,898.98L104.96,901.93M106.44,897.23L111.41,900.18M112.89,895.48L117.86,898.43M119.34,893.74L124.31,896.68M125.79,891.99L130.75,894.94M132.24,890.24L137.2,893.19M138.69,888.49L143.65,891.44M145.14,886.75L150.1,889.69M151.59,885L156.55,887.95M158.04,883.25L163,886.2M164.49,881.5L169.45,884.45M170.94,879.75L175.9,882.7M177.39,878.01L182.35,880.95M183.84,876.26L188.8,879.21M190.29,874.51L195.25,877.46M196.74,872.76L201.7,875.71M203.19,871.01L208.15,873.96M209.64,869.27L214.6,872.21M216.08,867.52L221.05,870.47M222.53,865.77L227.5,868.72M228.98,864.02L233.95,866.97M235.43,862.27L240.4,865.22M241.88,860.52L246.84,863.47M248.33,858.78L253.29,861.72M254.78,857.03L259.74,859.98M261.23,855.28L266.19,858.23M267.68,853.53L272.64,856.48M274.13,851.78L279.09,854.73M280.58,850.03L285.54,852.98M287.03,848.29L291.99,851.23M293.48,846.54L298.44,849.49M299.93,844.79L304.89,847.74M306.38,843.04L311.34,845.99M312.83,841.29L317.79,844.24M319.28,839.54L324.24,842.49M325.73,837.8L330.69,840.74M332.18,836.05L337.14,839M338.62,834.3L343.59,837.25M345.07,832.55L350.04,835.5M351.52,830.8L356.49,833.75M357.97,829.05L362.94,832M364.42,827.3L369.38,830.25M370.87,825.56L375.83,828.5M377.32,823.81L382.28,826.76M383.77,822.06L388.73,825.01M390.22,820.31L395.18,823.26M396.67,818.56L401.63,821.51M403.12,816.81L408.08,819.76M409.57,815.07L414.53,818.01M416.02,813.32L420.98,816.27M422.47,811.57L427.43,814.52M428.92,809.82L433.88,812.77M435.37,808.07L440.33,811.02M441.82,806.32L446.78,809.27M448.27,804.57L453.23,807.52M72.71,910.65L77.67,913.63M79.16,908.91L84.12,911.89M85.61,907.17L90.57,910.14M92.06,905.42L97.02,908.39M98.51,903.67L103.47,906.65M104.96,901.93L109.92,904.9M111.41,900.18L116.37,903.15M117.86,898.43L122.82,901.41M124.31,896.68L129.27,899.66M130.75,894.94L135.72,897.91M137.2,893.19L142.17,896.16M143.65,891.44L148.62,894.42M150.1,889.69L155.07,892.67M156.55,887.95L161.51,890.92M163,886.2L167.96,889.17M169.45,884.45L174.41,887.43M175.9,882.7L180.86,885.68M182.35,880.95L187.31,883.93M188.8,879.21L193.76,882.18M195.25,877.46L200.21,880.43M201.7,875.71L206.66,878.69M208.15,873.96L213.11,876.94M214.6,872.21L219.56,875.19M221.05,870.47L226.01,873.44M227.5,868.72L232.46,871.69M233.95,866.97L238.91,869.94M240.4,865.22L245.36,868.2M246.84,863.47L251.81,866.45M253.29,861.72L258.26,864.7M259.74,859.98L264.71,862.95M266.19,858.23L271.16,861.2M272.64,856.48L277.6,859.46M279.09,854.73L284.05,857.71M285.54,852.98L290.5,855.96M291.99,851.23L296.95,854.21M298.44,849.49L303.4,852.46M304.89,847.74L309.85,850.71M311.34,845.99L316.3,848.97M317.79,844.24L322.75,847.22M324.24,842.49L329.2,845.47M330.69,840.74L335.65,843.72M337.14,839L342.1,841.97M343.59,837.25L348.55,840.22M350.04,835.5L355,838.48M356.49,833.75L361.45,836.73M362.94,832L367.9,834.98M369.38,830.25L374.35,833.23M375.83,828.5L380.8,831.48M382.28,826.76L387.25,829.73M388.73,825.01L393.7,827.98M395.18,823.26L400.14,826.24M401.63,821.51L406.59,824.49M408.08,819.76L413.04,822.74M414.53,818.01L419.49,820.99M420.98,816.27L425.94,819.24M427.43,814.52L432.39,817.49M433.88,812.77L438.84,815.75M440.33,811.02L445.29,814M446.78,809.27L451.74,812.25M453.23,807.52L458.19,810.5M77.67,913.63L82.63,916.63M84.12,911.89L89.08,914.89M90.57,910.14L95.53,913.14M97.02,908.39L101.98,911.4M103.47,906.65L108.43,909.65M109.92,904.9L114.88,907.91M116.37,903.15L121.33,906.16M122.82,901.41L127.78,904.41M129.27,899.66L134.23,902.66M135.72,897.91L140.68,900.92M142.17,896.16L147.13,899.17M148.62,894.42L153.58,897.42M155.07,892.67L160.03,895.67M161.51,890.92L166.48,893.93M167.96,889.17L172.93,892.18M174.41,887.43L179.38,890.43M180.86,885.68L185.83,888.68M187.31,883.93L192.27,886.93M193.76,882.18L198.72,885.19M200.21,880.43L205.17,883.44M206.66,878.69L211.62,881.69M213.11,876.94L218.07,879.94M219.56,875.19L224.52,878.19M226.01,873.44L230.97,876.45M232.46,871.69L237.42,874.7M238.91,869.94L243.87,872.95M245.36,868.2L250.32,871.2M251.81,866.45L256.77,869.45M258.26,864.7L263.22,867.71M264.71,862.95L269.67,865.96M271.16,861.2L276.12,864.21M277.6,859.46L282.57,862.46M284.05,857.71L289.02,860.71M290.5,855.96L295.47,858.96M296.95,854.21L301.92,857.22M303.4,852.46L308.36,855.47M309.85,850.71L314.81,853.72M316.3,848.97L321.26,851.97M322.75,847.22L327.71,850.22M329.2,845.47L334.16,848.47M335.65,843.72L340.61,846.73M342.1,841.97L347.06,844.98M348.55,840.22L353.51,843.23M355,838.48L359.96,841.48M361.45,836.73L366.41,839.73M367.9,834.98L372.86,837.98M374.35,833.23L379.31,836.24M380.8,831.48L385.76,834.49M387.25,829.73L392.21,832.74M393.7,827.98L398.66,830.99M400.14,826.24L405.11,829.24M406.59,824.49L411.56,827.49M413.04,822.74L418.01,825.75M419.49,820.99L424.46,824M425.94,819.24L430.9,822.25M432.39,817.49L437.35,820.5M438.84,815.75L443.8,818.75M445.29,814L450.25,817M451.74,812.25L456.7,815.25M458.19,810.5L463.15,813.51M82.63,916.63L87.6,919.66M89.08,914.89L94.05,917.92M95.53,913.14L100.5,916.18M101.98,911.4L106.94,914.43M108.43,909.65L113.39,912.69M114.88,907.91L119.84,910.94M121.33,906.16L126.29,909.19M127.78,904.41L132.74,907.45M134.23,902.66L139.19,905.7M140.68,900.92L145.64,903.95M147.13,899.17L152.09,902.2M153.58,897.42L158.54,900.46M160.03,895.67L164.99,898.71M166.48,893.93L171.44,896.96M172.93,892.18L177.89,895.21M179.38,890.43L184.34,893.47M185.83,888.68L190.79,891.72M192.27,886.93L197.24,889.97M198.72,885.19L203.69,888.22M205.17,883.44L210.14,886.47M211.62,881.69L216.59,884.73M218.07,879.94L223.03,882.98M224.52,878.19L229.48,881.23M230.97,876.45L235.93,879.48M237.42,874.7L242.38,877.73M243.87,872.95L248.83,875.99M250.32,871.2L255.28,874.24M256.77,869.45L261.73,872.49M263.22,867.71L268.18,870.74M269.67,865.96L274.63,868.99M276.12,864.21L281.08,867.25M282.57,862.46L287.53,865.5M289.02,860.71L293.98,863.75M295.47,858.96L300.43,862M301.92,857.22L306.88,860.25M308.36,855.47L313.33,858.5M314.81,853.72L319.78,856.76M321.26,851.97L326.23,855.01M327.71,850.22L332.68,853.26M334.16,848.47L339.12,851.51M340.61,846.73L345.57,849.76M347.06,844.98L352.02,848.02M353.51,843.23L358.47,846.27M359.96,841.48L364.92,844.52M366.41,839.73L371.37,842.77M372.86,837.98L377.82,841.02M379.31,836.24L384.27,839.27M385.76,834.49L390.72,837.53M392.21,832.74L397.17,835.78M398.66,830.99L403.62,834.03M405.11,829.24L410.07,832.28M411.56,827.49L416.52,830.53M418.01,825.75L422.97,828.78M424.46,824L429.42,827.03M430.9,822.25L435.87,825.29M437.35,820.5L442.32,823.54M443.8,818.75L448.77,821.79M450.25,817L455.22,820.04M456.7,815.25L461.66,818.29M463.15,813.51L468.11,816.54"/>
<path class="ax" d="M62.79,1182 L62.79,888.1 M62.79,1182 L355.56,1316.6 M355.56,1316.6 L736.07,1213.4 M62.79,888.1 L53.16,883.67 M62.79,944.94 L53.16,940.51 M62.79,1001.78 L53.16,997.35 M62.79,1058.62 L53.16,1054.19 M62.79,1115.46 L53.16,1111.03 M62.79,1172.3 L53.16,1167.87 M62.79,1182 L52.8,1184.71 M209.17,1249.3 L199.18,1252.01 M355.56,1316.6 L345.57,1319.31 M355.56,1316.6 L365.18,1321.03 M431.66,1295.96 L441.28,1300.39 M507.76,1275.32 L517.39,1279.75 M583.87,1254.68 L593.49,1259.11 M659.97,1234.04 L669.6,1238.47 M736.07,1213.4 L745.7,1217.83"/>
</g>
<g class="plot" transform="scale(1.347,1)">
<text x="47.14" y="152.45" text-anchor="end">−0.4</text>
<text x="47.14" y="216.66" text-anchor="end">−0.5</text>
<text x="47.14" y="280.87" text-anchor="end">−0.6</text>
<text x="47.14" y="345.08" text-anchor="end">−0.7</text>
<text x="47.14" y="409.29" text-anchor="end">−0.8</text>
<text x="45.95" y="468.5" text-anchor="end">5</text>
<text x="188.75" y="535.8" text-anchor="end">0</text>
<text x="331.55" y="603.1" text-anchor="end">−5</text>
<text x="360.58" y="605.2">0</text>
<text x="434.82" y="584.56">2</text>
<text x="509.06" y="563.92">4</text>
<text x="583.3" y="543.28">6</text>
<text x="657.54" y="522.64">8</text>
<text x="731.77" y="502">10</text>
<text x="194.14" y="610.2" text-anchor="middle">x</text>
<text x="517.82" y="618" text-anchor="middle">t</text>
<text x="47.14" y="889.3" text-anchor="end">0</text>
<text x="47.14" y="946.14" text-anchor="end">−0.1</text>
<text x="47.14" y="1002.98" text-anchor="end">−0.2</text>
<text x="47.14" y="1059.82" text-anchor="end">−0.3</text>
<text x="47.14" y="1116.66" text-anchor="end">−0.4</text>
<text x="47.14" y="1173.5" text-anchor="end">−0.5</text>
<text x="45.95" y="1206" text-anchor="end">5</text>
<text x="188.75" y="1273.3" text-anchor="end">0</text>
<text x="331.55" y="1340.6" text-anchor="end">−5</text>
<text x="360.58" y="1342.7">0</text>
<text x="434.82" y="1322.06">2</text>
<text x="509.06" y="1301.42">4</text>
<text x="583.3" y="1280.78">6</text>
<text x="657.54" y="1260.14">8</text>
<text x="731.77" y="1239.5">10</text>
<text x="194.14" y="1347.7" text-anchor="middle">x</text>
<text x="517.82" y="1355.5" text-anchor="middle">t</text>
</g>
<g class="plot" transform="scale(1.32,1)">
<text x="398.11" y="21.9" text-anchor="middle">P<tspan dy="10.3" font-size="16.6">4</tspan><tspan dy="-10.3">(x,t,</tspan><tspan font-family="Liberation Serif,serif" font-size="24">α</tspan><tspan dx="-0.7">=0.5)</tspan></text>
<text x="397.65" y="759.4" text-anchor="middle">Q<tspan dy="10.3" font-size="16.6">4</tspan><tspan dy="-10.3">(x,t,</tspan><tspan font-family="Liberation Serif,serif" font-size="24">α</tspan><tspan dx="-0.7">=0.5)</tspan></text>
</g>
<text class="cap" x="505" y="722" text-anchor="middle">(<tspan dy="1.4" font-weight="bold">a</tspan><tspan dy="-1.4">)</tspan></text>
<text class="cap" x="505" y="1459.4" text-anchor="middle">(<tspan dy="1.4" font-weight="bold">b</tspan><tspan dy="-1.4">)</tspan></text>
</svg>
</body></html>
